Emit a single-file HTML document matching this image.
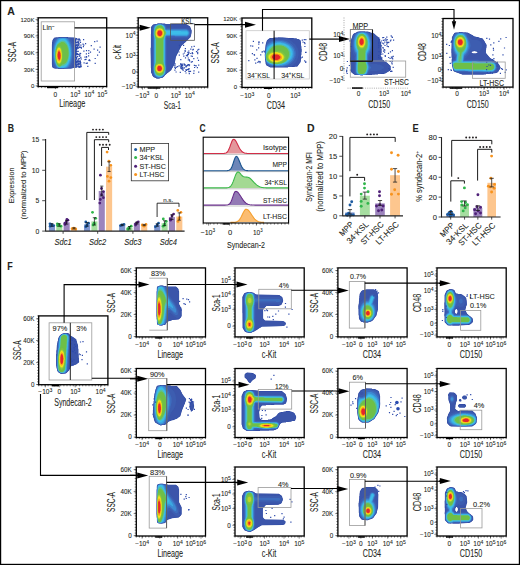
<!DOCTYPE html>
<html><head><meta charset="utf-8"><style>
html,body{margin:0;padding:0;background:#fff;}
svg{display:block;}
text{font-family:"Liberation Sans",sans-serif;fill:#231f20;stroke:#231f20;stroke-width:0.08px;paint-order:stroke;}
</style></head><body>
<svg width="520" height="565" viewBox="0 0 520 565">
<defs><filter id="bl" x="-5%" y="-5%" width="110%" height="110%"><feGaussianBlur stdDeviation="0.45"/></filter></defs>
<rect x="0" y="0" width="520" height="565" fill="#fff"/>
<text x="7.2" y="15.08" font-size="10.5" font-weight="bold" fill="#000">A</text>
<g filter="url(#bl)"><path d="M54.1,37.9 52.6,39.9 52.6,40.4 52.4,40.6 52.4,41.9 52.1,42.1 52.1,44.1 51.9,44.4 51.9,64.6 52.1,64.9 52.1,66.6 52.6,67.6 53.1,68.1 53.6,68.1 53.9,68.4 55.1,68.4 55.4,68.6 58.1,68.6 58.4,68.9 71.1,68.6 71.4,68.4 72.4,68.4 72.6,68.1 75.1,68.1 75.6,67.6 75.6,38.1 75.1,37.6 68.1,37.4 67.9,37.1 58.6,37.1 58.4,37.4 56.1,37.4 55.9,37.6 54.6,37.6Z" fill="#2b45a2" fill-rule="evenodd"/><path d="M54.1,38.1 52.9,39.9 52.6,41.6 52.4,41.9 52.4,43.9 52.1,44.1 52.1,65.4 52.4,65.6 52.4,66.6 53.1,67.9 54.9,68.1 55.1,68.4 57.6,68.4 57.9,68.6 59.1,68.6 59.4,68.9 63.4,68.9 63.6,68.6 71.1,68.4 71.4,68.1 72.4,68.1 72.6,67.9 74.9,67.9 75.4,67.4 75.4,38.4 74.9,37.9 68.4,37.6 68.1,37.4 66.1,37.4 65.9,37.1 59.9,37.1 59.6,37.4 55.9,37.6 55.6,37.9 54.6,37.9Z" fill="#3a55aa" fill-rule="evenodd"/><path d="M54.6,38.6 53.9,39.6 53.4,40.9 53.1,43.4 52.9,43.6 52.9,45.1 52.6,45.4 52.6,61.1 52.9,61.4 52.9,64.1 53.1,64.4 53.1,65.6 53.6,66.9 54.1,67.4 54.6,67.4 55.6,67.9 58.4,68.1 58.6,68.4 64.1,68.4 64.4,68.1 68.1,68.1 68.4,67.9 70.9,67.6 71.6,66.9 72.9,63.6 72.9,62.9 73.4,61.6 73.4,60.6 73.6,60.4 73.6,59.1 73.9,58.9 73.9,57.1 74.1,56.9 74.1,49.4 73.9,49.1 73.9,47.4 73.6,47.1 73.6,45.9 73.4,45.6 73.4,44.6 72.6,42.6 72.6,41.9 71.4,38.9 69.9,38.1 68.6,38.1 68.4,37.9 67.4,37.9 67.1,37.6 59.1,37.6 58.9,37.9 57.4,37.9 57.1,38.1 56.1,38.1 55.9,38.4Z" fill="#3c5db0" fill-rule="evenodd"/><path d="M56.9,38.4 55.6,39.4 54.4,42.1 54.4,42.6 53.6,44.4 53.6,45.1 53.4,45.4 53.4,46.6 53.1,46.9 53.1,49.9 52.9,50.1 52.9,56.1 53.1,56.4 53.1,59.4 53.4,59.6 53.4,60.9 53.6,61.1 53.9,62.9 54.1,63.1 54.4,64.4 54.9,65.1 54.9,65.6 55.9,67.4 57.1,67.9 58.1,67.9 58.4,68.1 61.6,68.1 61.9,68.4 62.6,68.4 62.9,68.1 67.6,67.9 67.9,67.6 68.6,67.6 69.6,66.9 70.9,64.1 70.9,63.6 71.6,61.9 71.6,61.1 71.9,60.9 72.1,58.4 72.4,58.1 72.4,56.4 72.6,56.1 72.6,50.4 72.4,50.1 72.4,48.1 72.1,47.9 72.1,46.6 71.9,46.4 71.4,43.6 70.6,42.1 70.6,41.6 69.4,39.1 68.9,38.6 66.9,37.9 59.1,37.9 58.9,38.1Z" fill="#3e6dbe" fill-rule="evenodd"/><path d="M59.1,38.1 57.4,38.9 56.4,40.4 54.9,43.6 54.6,45.1 54.1,46.1 54.1,47.1 53.9,47.4 53.9,48.6 53.6,48.9 53.6,51.4 53.4,51.6 53.4,54.9 53.6,55.1 53.6,57.6 53.9,57.9 53.9,59.1 54.1,59.4 54.1,60.4 54.4,60.6 54.6,62.4 54.9,62.6 55.4,64.6 56.6,67.1 57.4,67.6 58.9,67.9 59.1,68.1 63.6,68.1 63.9,67.9 67.1,67.6 68.1,67.1 70.1,63.4 70.1,62.9 70.6,61.9 70.6,61.1 70.9,60.9 70.9,60.1 71.1,59.9 71.1,58.9 71.4,58.6 71.9,52.6 71.6,52.4 71.6,49.4 71.4,49.1 71.4,47.6 71.1,47.4 70.9,45.4 69.1,40.9 68.6,40.4 68.4,39.6 67.1,38.4 66.6,38.4 66.4,38.1 64.6,38.1 64.4,37.9 60.9,37.9 60.6,38.1Z" fill="#3d8ad2" fill-rule="evenodd"/><path d="M65.1,38.4 61.9,38.1 61.6,38.4 60.1,38.4 59.1,38.9 57.9,40.1 56.9,41.6 55.9,43.6 55.9,44.1 55.1,45.9 54.9,47.6 54.6,47.9 54.6,49.1 54.4,49.4 54.4,51.9 54.1,52.1 54.1,55.4 54.4,55.6 54.4,58.1 54.6,58.4 54.9,61.1 55.1,61.4 55.1,62.1 55.4,62.4 55.9,64.4 56.9,66.4 57.9,67.4 59.1,67.9 63.6,67.9 63.9,67.6 66.1,67.4 68.1,65.1 69.4,62.6 69.4,62.1 69.9,61.1 69.9,60.4 70.1,60.1 70.1,59.4 70.4,59.1 70.6,56.4 70.9,56.1 70.9,50.1 70.6,49.9 70.6,48.4 70.4,48.1 70.1,46.1 69.9,45.9 69.4,43.9 68.9,43.1 68.9,42.6 68.1,41.6 67.9,40.9 66.1,38.9Z" fill="#3aa9e2" fill-rule="evenodd"/><path d="M64.1,38.9 61.1,38.9 60.1,39.4 58.6,40.6 58.6,40.9 57.6,41.9 56.4,44.1 56.4,44.6 55.6,46.1 55.6,46.9 55.1,48.1 55.1,49.1 54.9,49.4 54.9,51.1 54.6,51.4 54.6,57.4 54.9,57.6 55.1,60.9 55.4,61.1 55.4,61.9 55.6,62.1 56.1,64.1 57.1,66.1 58.1,67.1 59.4,67.6 64.1,67.4 65.6,66.6 66.9,65.4 68.6,62.4 68.6,61.9 69.4,60.4 69.4,59.6 69.9,58.4 69.9,57.1 70.1,56.9 70.4,52.4 70.1,52.1 70.1,49.6 69.9,49.4 69.9,48.1 69.6,47.9 69.4,46.1 69.1,45.9 68.9,44.6 67.1,41.4 65.4,39.6Z" fill="#3cbde9" fill-rule="evenodd"/><path d="M62.9,40.4 62.1,40.4 59.9,41.4 57.6,43.6 56.4,45.9 56.4,46.4 55.9,47.4 55.9,48.1 55.6,48.4 55.6,49.1 55.4,49.4 55.4,50.6 55.1,50.9 54.9,56.1 55.1,56.4 55.1,58.9 55.4,59.1 55.6,61.6 57.1,65.4 58.9,66.9 60.1,66.9 61.6,66.1 63.6,65.9 65.1,65.1 66.4,63.9 67.9,61.4 67.9,60.9 68.4,60.1 68.4,59.4 68.6,59.1 68.9,57.4 69.1,57.1 69.1,55.4 69.4,55.1 69.4,51.4 69.1,51.1 68.9,48.1 68.6,47.9 68.6,47.1 68.4,46.9 68.1,45.6 66.6,42.9 64.9,41.1Z" fill="#58c29c" fill-rule="evenodd"/><path d="M62.6,41.9 62.4,42.1 61.4,42.1 60.1,42.9 59.6,42.9 57.6,44.6 56.1,47.6 56.1,48.4 55.6,49.6 55.6,50.6 55.4,50.9 55.1,56.9 55.4,57.1 55.4,59.4 55.6,59.6 55.6,60.6 55.9,60.9 56.1,62.6 56.6,63.4 56.9,64.4 57.4,65.1 58.9,66.4 59.9,66.4 60.9,65.9 62.4,64.6 64.1,64.1 66.1,62.4 67.4,60.1 67.4,59.6 67.9,58.6 67.9,57.9 68.1,57.6 68.1,56.6 68.4,56.4 68.6,52.4 68.4,52.1 68.4,49.9 68.1,49.6 68.1,48.6 67.9,48.4 67.4,46.4 66.4,44.4 64.4,42.4 62.9,42.1Z" fill="#6ebf47" fill-rule="evenodd"/><path d="M58.9,45.9 57.6,46.9 56.6,48.9 56.6,49.6 56.1,50.9 56.1,51.9 55.9,52.1 55.9,58.6 56.1,58.9 56.4,61.1 57.1,63.1 58.4,64.6 59.4,64.9 60.6,64.1 61.6,62.4 61.6,61.9 62.1,60.9 62.4,58.4 62.6,58.1 62.6,53.1 62.4,52.9 62.1,49.9 60.9,46.9 60.1,46.1Z" fill="#80c443" fill-rule="evenodd"/><path d="M58.9,47.1 57.6,48.1 56.6,50.6 56.4,53.4 56.1,53.6 56.1,57.4 56.4,57.6 56.4,59.1 56.6,59.4 56.6,60.4 56.9,60.6 57.1,61.9 57.6,62.9 58.4,63.6 59.4,63.9 59.9,63.6 60.9,62.4 61.4,61.1 61.4,60.4 61.6,60.1 61.6,59.1 61.9,58.9 61.9,52.6 61.6,52.4 61.4,50.1 60.4,47.9 59.9,47.4Z" fill="#bcd42e" fill-rule="evenodd"/><path d="M58.6,48.1 57.6,49.1 56.9,51.1 56.9,51.9 56.6,52.1 56.6,53.9 56.4,54.1 56.4,56.9 56.6,57.1 56.6,58.9 56.9,59.1 56.9,59.9 57.1,60.1 57.4,61.4 58.1,62.6 59.1,63.1 60.4,62.1 61.1,60.6 61.4,58.4 61.6,58.1 61.6,53.6 61.4,53.4 61.1,50.9 60.1,48.6 59.4,48.1Z" fill="#fae515" fill-rule="evenodd"/><path d="M58.6,49.6 57.9,50.4 57.4,51.6 56.9,56.1 57.1,56.4 57.1,58.4 57.4,58.6 57.6,60.1 58.9,61.6 59.4,61.6 60.1,60.9 60.9,58.9 60.9,57.6 61.1,57.4 61.1,54.1 60.9,53.9 60.9,52.6 60.6,52.4 60.6,51.6 60.1,50.4 59.4,49.6Z" fill="#f6a11c" fill-rule="evenodd"/><path d="M58.9,51.1 58.1,52.1 57.9,53.6 57.6,53.9 57.6,56.6 57.9,56.9 57.9,57.9 58.4,59.1 59.4,59.9 59.9,59.4 60.4,58.1 60.6,54.9 60.4,54.6 60.4,53.1 60.1,52.9 60.1,52.4 59.6,51.4Z" fill="#e5262a" fill-rule="evenodd"/></g>
<path d="M78.3,62.6h1.2v1.2h-1.2zM76.0,52.4h1.2v1.2h-1.2zM75.0,60.9h1.2v1.2h-1.2zM76.0,62.2h1.2v1.2h-1.2zM76.0,38.1h1.2v1.2h-1.2zM80.3,44.6h1.2v1.2h-1.2zM75.0,38.9h1.2v1.2h-1.2zM75.7,65.2h1.2v1.2h-1.2zM75.0,50.2h1.2v1.2h-1.2zM76.3,50.7h1.2v1.2h-1.2zM75.2,44.7h1.2v1.2h-1.2zM75.0,46.4h1.2v1.2h-1.2zM77.3,54.1h1.2v1.2h-1.2zM79.3,66.8h1.2v1.2h-1.2zM77.9,47.6h1.2v1.2h-1.2zM75.9,65.2h1.2v1.2h-1.2zM75.4,57.4h1.2v1.2h-1.2zM79.2,63.6h1.2v1.2h-1.2zM75.0,55.1h1.2v1.2h-1.2zM75.9,61.1h1.2v1.2h-1.2zM77.8,53.9h1.2v1.2h-1.2zM76.0,48.9h1.2v1.2h-1.2zM76.4,60.6h1.2v1.2h-1.2zM75.0,52.2h1.2v1.2h-1.2zM80.8,58.4h1.2v1.2h-1.2zM75.1,49.4h1.2v1.2h-1.2zM78.4,66.5h1.2v1.2h-1.2zM75.2,62.9h1.2v1.2h-1.2zM76.8,65.6h1.2v1.2h-1.2zM76.6,45.8h1.2v1.2h-1.2zM78.5,38.2h1.2v1.2h-1.2zM78.1,63.7h1.2v1.2h-1.2zM76.7,53.0h1.2v1.2h-1.2zM79.4,39.6h1.2v1.2h-1.2zM76.3,43.8h1.2v1.2h-1.2zM75.6,48.3h1.2v1.2h-1.2zM77.0,56.1h1.2v1.2h-1.2zM75.2,38.8h1.2v1.2h-1.2zM79.3,54.9h1.2v1.2h-1.2zM78.8,61.1h1.2v1.2h-1.2zM77.5,62.4h1.2v1.2h-1.2zM75.0,38.5h1.2v1.2h-1.2zM75.0,45.2h1.2v1.2h-1.2zM75.0,48.0h1.2v1.2h-1.2zM75.1,53.3h1.2v1.2h-1.2zM76.1,58.6h1.2v1.2h-1.2zM75.0,51.7h1.2v1.2h-1.2zM75.2,50.2h1.2v1.2h-1.2zM76.4,64.1h1.2v1.2h-1.2zM78.8,55.6h1.2v1.2h-1.2zM75.1,38.5h1.2v1.2h-1.2zM77.8,42.6h1.2v1.2h-1.2zM75.2,53.8h1.2v1.2h-1.2zM76.4,61.1h1.2v1.2h-1.2zM75.8,56.8h1.2v1.2h-1.2zM77.2,47.3h1.2v1.2h-1.2zM80.6,46.7h1.2v1.2h-1.2zM79.3,46.9h1.2v1.2h-1.2zM78.1,65.2h1.2v1.2h-1.2zM75.0,45.3h1.2v1.2h-1.2zM78.9,39.1h1.2v1.2h-1.2zM75.1,54.5h1.2v1.2h-1.2zM77.8,66.2h1.2v1.2h-1.2zM75.6,49.0h1.2v1.2h-1.2zM76.0,57.6h1.2v1.2h-1.2zM77.5,41.0h1.2v1.2h-1.2zM75.5,52.5h1.2v1.2h-1.2zM75.0,64.1h1.2v1.2h-1.2zM80.8,47.5h1.2v1.2h-1.2zM75.2,47.8h1.2v1.2h-1.2zM80.1,62.3h1.2v1.2h-1.2zM77.6,63.6h1.2v1.2h-1.2zM75.2,66.6h1.2v1.2h-1.2zM75.1,40.5h1.2v1.2h-1.2zM78.3,44.2h1.2v1.2h-1.2zM75.7,62.4h1.2v1.2h-1.2zM79.4,46.4h1.2v1.2h-1.2zM79.6,65.7h1.2v1.2h-1.2zM75.0,54.0h1.2v1.2h-1.2zM79.4,40.1h1.2v1.2h-1.2zM75.6,62.0h1.2v1.2h-1.2zM75.7,60.7h1.2v1.2h-1.2zM75.0,44.5h1.2v1.2h-1.2zM76.7,63.8h1.2v1.2h-1.2zM75.4,51.3h1.2v1.2h-1.2zM75.0,62.0h1.2v1.2h-1.2zM75.1,40.7h1.2v1.2h-1.2zM75.3,39.2h1.2v1.2h-1.2zM75.1,50.2h1.2v1.2h-1.2zM78.1,45.0h1.2v1.2h-1.2zM75.7,64.4h1.2v1.2h-1.2zM75.4,64.4h1.2v1.2h-1.2zM75.0,51.8h1.2v1.2h-1.2zM75.0,39.1h1.2v1.2h-1.2zM76.9,46.6h1.2v1.2h-1.2zM75.0,47.1h1.2v1.2h-1.2zM80.6,66.1h1.2v1.2h-1.2zM77.1,44.2h1.2v1.2h-1.2zM77.6,53.7h1.2v1.2h-1.2zM76.6,45.5h1.2v1.2h-1.2zM75.0,45.1h1.2v1.2h-1.2zM76.0,66.5h1.2v1.2h-1.2zM80.2,56.7h1.2v1.2h-1.2zM75.5,46.9h1.2v1.2h-1.2zM79.7,62.6h1.2v1.2h-1.2zM76.6,47.7h1.2v1.2h-1.2zM75.3,55.3h1.2v1.2h-1.2zM75.0,45.1h1.2v1.2h-1.2zM75.0,40.1h1.2v1.2h-1.2zM78.6,46.4h1.2v1.2h-1.2zM75.1,63.0h1.2v1.2h-1.2zM75.0,61.1h1.2v1.2h-1.2zM78.4,43.0h1.2v1.2h-1.2zM75.5,61.8h1.2v1.2h-1.2zM80.0,52.9h1.2v1.2h-1.2zM75.1,63.9h1.2v1.2h-1.2zM75.5,38.9h1.2v1.2h-1.2zM79.8,61.3h1.2v1.2h-1.2zM77.6,59.6h1.2v1.2h-1.2zM75.1,50.5h1.2v1.2h-1.2zM75.3,57.4h1.2v1.2h-1.2zM78.8,65.9h1.2v1.2h-1.2zM79.2,53.7h1.2v1.2h-1.2zM75.6,49.5h1.2v1.2h-1.2zM77.3,38.7h1.2v1.2h-1.2zM75.0,54.5h1.2v1.2h-1.2zM75.1,42.0h1.2v1.2h-1.2zM75.8,62.0h1.2v1.2h-1.2zM75.2,55.8h1.2v1.2h-1.2zM76.3,53.3h1.2v1.2h-1.2zM77.6,50.7h1.2v1.2h-1.2zM76.3,44.9h1.2v1.2h-1.2zM75.9,44.5h1.2v1.2h-1.2zM80.0,64.3h1.2v1.2h-1.2zM75.0,56.7h1.2v1.2h-1.2zM79.5,52.8h1.2v1.2h-1.2zM79.6,60.2h1.2v1.2h-1.2zM79.2,58.1h1.2v1.2h-1.2zM78.1,58.3h1.2v1.2h-1.2zM79.7,62.8h1.2v1.2h-1.2zM75.1,54.6h1.2v1.2h-1.2zM76.7,44.3h1.2v1.2h-1.2zM77.6,39.5h1.2v1.2h-1.2zM76.4,48.1h1.2v1.2h-1.2zM75.0,59.2h1.2v1.2h-1.2zM77.2,61.4h1.2v1.2h-1.2zM80.5,64.5h1.2v1.2h-1.2zM79.1,60.5h1.2v1.2h-1.2zM76.0,58.3h1.2v1.2h-1.2zM75.7,66.2h1.2v1.2h-1.2zM75.1,50.6h1.2v1.2h-1.2zM79.9,41.7h1.2v1.2h-1.2zM77.0,41.5h1.2v1.2h-1.2zM75.4,41.4h1.2v1.2h-1.2zM75.0,59.7h1.2v1.2h-1.2zM75.0,50.7h1.2v1.2h-1.2zM79.0,55.6h1.2v1.2h-1.2zM76.6,46.3h1.2v1.2h-1.2zM75.3,55.0h1.2v1.2h-1.2zM78.8,60.9h1.2v1.2h-1.2zM76.3,53.8h1.2v1.2h-1.2zM76.7,60.3h1.2v1.2h-1.2zM75.0,46.2h1.2v1.2h-1.2zM78.2,41.4h1.2v1.2h-1.2zM78.3,66.0h1.2v1.2h-1.2zM76.3,42.0h1.2v1.2h-1.2zM76.3,47.0h1.2v1.2h-1.2zM75.0,53.3h1.2v1.2h-1.2zM75.4,51.0h1.2v1.2h-1.2zM77.6,60.7h1.2v1.2h-1.2zM84.4,56.5h1.2v1.2h-1.2zM83.2,44.5h1.2v1.2h-1.2zM79.0,46.5h1.2v1.2h-1.2zM85.6,62.8h1.2v1.2h-1.2zM88.1,52.8h1.2v1.2h-1.2zM89.9,51.5h1.2v1.2h-1.2zM88.2,50.0h1.2v1.2h-1.2zM87.2,65.7h1.2v1.2h-1.2zM82.4,43.6h1.2v1.2h-1.2zM85.8,53.3h1.2v1.2h-1.2zM83.0,39.1h1.2v1.2h-1.2zM83.3,50.5h1.2v1.2h-1.2zM83.5,62.3h1.2v1.2h-1.2zM85.4,58.8h1.2v1.2h-1.2zM88.9,59.2h1.2v1.2h-1.2zM84.4,59.1h1.2v1.2h-1.2zM86.0,56.5h1.2v1.2h-1.2zM85.9,50.0h1.2v1.2h-1.2zM85.9,56.1h1.2v1.2h-1.2zM89.3,60.1h1.2v1.2h-1.2zM88.3,59.7h1.2v1.2h-1.2zM88.0,55.3h1.2v1.2h-1.2zM82.8,46.1h1.2v1.2h-1.2zM86.8,62.6h1.2v1.2h-1.2zM85.0,43.1h1.2v1.2h-1.2zM98.8,51.6h1.2v1.2h-1.2zM94.1,41.1h1.2v1.2h-1.2zM94.6,57.9h1.2v1.2h-1.2zM93.5,48.5h1.2v1.2h-1.2zM96.5,40.5h1.2v1.2h-1.2zM94.6,62.7h1.2v1.2h-1.2zM97.0,49.6h1.2v1.2h-1.2zM97.0,54.5h1.2v1.2h-1.2zM90.7,45.0h1.2v1.2h-1.2zM99.5,46.5h1.2v1.2h-1.2z" fill="#2d4aab"/>
<rect x="38.2" y="17.8" width="68.5" height="68.7" fill="none" stroke="#000" stroke-width="1.3"/>
<path d="M36.6,17.8h1.6M36.6,20.7h1.6M36.6,23.5h1.6M36.6,26.4h1.6M36.6,29.2h1.6M36.6,32.1h1.6M36.6,35.0h1.6M36.6,37.8h1.6M36.6,40.7h1.6M36.6,43.6h1.6M36.6,46.4h1.6M36.6,49.3h1.6M36.6,52.2h1.6M36.6,55.0h1.6M36.6,57.9h1.6M36.6,60.7h1.6M36.6,63.6h1.6M36.6,66.5h1.6M36.6,69.3h1.6M36.6,72.2h1.6M36.6,75.0h1.6M36.6,77.9h1.6M36.6,80.8h1.6M36.6,83.6h1.6M36.6,86.5h1.6M35.6,19.6h2.6M35.6,35.9h2.6M35.6,52.8h2.6M35.6,69.4h2.6M35.6,85.8h2.6" stroke="#000" stroke-width="0.5" fill="none"/>
<path d="M38.2,86.5v1.6M41.6,86.5v1.6M45.1,86.5v1.6M48.5,86.5v1.6M51.9,86.5v1.6M55.3,86.5v1.6M58.8,86.5v1.6M62.2,86.5v1.6M65.6,86.5v1.6M69.0,86.5v1.6M72.5,86.5v1.6M75.9,86.5v1.6M79.3,86.5v1.6M82.7,86.5v1.6M86.2,86.5v1.6M89.6,86.5v1.6M93.0,86.5v1.6M96.4,86.5v1.6M99.8,86.5v1.6M103.3,86.5v1.6M106.7,86.5v1.6M55.4,86.5v2.6M75.4,86.5v2.6M89.2,86.5v2.6M102.3,86.5v2.6" stroke="#000" stroke-width="0.5" fill="none"/>
<rect x="47" y="86.8" width="11" height="1.4" fill="#000"/>
<text x="34.4" y="21.76" font-size="6" text-anchor="end">120K</text>
<text x="34.4" y="38.06" font-size="6" text-anchor="end">90K</text>
<text x="34.4" y="54.96" font-size="6" text-anchor="end">60K</text>
<text x="34.4" y="71.56" font-size="6" text-anchor="end">30K</text>
<text x="34.4" y="87.96" font-size="6" text-anchor="end">0</text>
<text x="55.4" y="96.54" font-size="6.5" text-anchor="middle">0</text>
<text x="75.4" y="96.54" font-size="6.5" text-anchor="middle">10<tspan font-size="5.1" dy="-2.34">3</tspan></text>
<text x="89.2" y="96.54" font-size="6.5" text-anchor="middle">10<tspan font-size="5.1" dy="-2.34">4</tspan></text>
<text x="102.3" y="96.54" font-size="6.5" text-anchor="middle">10<tspan font-size="5.1" dy="-2.34">5</tspan></text>
<text x="12.8" y="55.5" font-size="10" text-anchor="middle" textLength="20" lengthAdjust="spacingAndGlyphs" transform="rotate(-90 12.8 51.9)">SSC-A</text>
<text x="72.3" y="107.47" font-size="10.2" text-anchor="middle" textLength="26" lengthAdjust="spacingAndGlyphs">Lineage</text>
<rect x="41.2" y="21.8" width="33.4" height="59.2" fill="none" stroke="#9a9a9a" stroke-width="0.8"/>
<text x="42.6" y="30.21" font-size="7.8" textLength="12" lengthAdjust="spacingAndGlyphs">Lin<tspan font-size="5" dy="-2.6">−</tspan></text>
<line x1="74.6" y1="27.8" x2="140.7" y2="27.8" stroke="#000" stroke-width="1.2" />
<polygon points="139.7,24.8 150.7,27.8 139.7,30.8" fill="#000"/>
<g filter="url(#bl)"><path d="M186.1,24.1 172.4,24.1 172.1,23.9 165.4,23.9 165.1,23.6 157.1,23.6 156.9,23.9 155.9,23.9 155.6,24.1 154.6,24.1 154.4,24.4 153.1,24.6 151.4,26.6 151.1,27.1 151.1,33.6 150.9,33.9 150.9,47.6 150.6,47.9 150.9,68.1 151.1,68.4 151.1,72.4 152.1,74.4 152.1,74.9 153.4,76.9 156.9,78.6 158.9,78.6 159.1,78.4 160.1,78.4 160.4,78.1 162.1,77.9 164.1,76.4 164.6,75.6 168.1,72.4 168.4,72.4 171.4,69.9 171.9,68.6 172.4,68.1 174.6,64.1 175.9,56.9 181.4,45.9 184.4,43.1 184.6,43.1 190.6,37.1 190.9,35.6 191.1,35.4 191.1,34.4 191.4,34.1 191.6,30.6 190.1,26.6Z" fill="#2b45a2" fill-rule="evenodd"/><path d="M187.4,25.1 185.6,24.4 171.9,24.4 171.6,24.1 165.6,24.1 165.4,23.9 162.1,23.9 161.9,23.6 158.1,23.6 157.9,23.9 156.9,23.9 156.6,24.1 155.6,24.1 155.4,24.4 153.6,24.6 153.1,24.9 151.9,26.4 151.4,27.4 151.4,33.9 151.1,34.1 151.1,47.9 150.9,48.1 151.1,67.9 151.4,68.1 151.4,72.4 151.9,73.1 151.9,73.6 152.4,74.4 152.4,74.9 152.9,75.9 153.9,76.9 155.1,77.4 156.6,78.4 159.1,78.4 159.4,78.1 161.6,77.9 164.1,76.1 165.4,74.6 165.6,74.6 168.9,71.4 169.1,71.4 171.1,69.6 171.6,68.4 172.1,67.9 174.4,63.9 175.6,56.6 181.1,45.6 184.1,42.9 184.4,42.9 190.4,37.1 190.4,36.6 190.9,35.6 191.1,32.9 191.4,32.6 191.4,30.6 189.9,26.9Z" fill="#3a55aa" fill-rule="evenodd"/><path d="M188.4,28.4 187.9,28.4 186.9,27.9 166.9,27.6 165.9,25.1 164.6,24.4 163.6,24.4 163.4,24.1 157.4,24.1 157.1,24.4 156.1,24.4 153.6,25.4 152.9,26.6 152.9,27.1 152.6,27.4 152.6,28.6 152.4,28.9 152.4,71.6 152.6,71.9 152.9,74.1 153.6,75.6 154.6,76.6 157.6,78.1 158.1,77.9 159.9,77.9 160.1,77.6 161.9,77.4 162.6,76.9 166.4,73.1 166.9,72.1 166.9,37.9 167.1,37.6 167.9,37.6 168.1,37.9 180.9,37.9 181.1,38.1 186.9,38.1 187.1,37.9 187.6,37.9 189.4,36.9 190.1,35.6 190.1,34.9 190.6,33.6 190.6,31.1 190.4,30.9 190.4,30.4 189.9,29.6Z" fill="#3c5db0" fill-rule="evenodd"/><path d="M187.9,29.4 187.4,29.4 187.1,29.1 183.9,29.1 183.6,28.9 170.9,28.9 170.6,28.6 166.1,28.6 165.9,28.4 165.6,26.6 165.1,25.6 164.1,24.6 163.4,24.6 163.1,24.4 161.4,24.4 161.1,24.1 158.4,24.1 158.1,24.4 157.1,24.4 156.9,24.6 156.1,24.6 155.4,25.1 154.9,25.1 154.1,25.9 153.6,27.1 153.6,27.9 153.4,28.1 153.4,31.1 153.1,31.4 153.1,34.9 153.4,35.1 153.4,66.6 153.1,66.9 153.1,69.9 153.4,70.1 153.4,72.9 153.6,73.1 153.6,73.9 154.1,75.1 155.4,76.6 157.1,77.6 159.9,77.6 160.1,77.4 161.1,77.4 162.6,76.6 165.9,73.1 165.9,72.1 166.1,71.9 166.1,64.9 165.9,64.6 165.9,38.4 166.1,38.1 166.1,36.9 166.4,36.6 174.9,36.6 175.1,36.9 187.1,36.9 187.4,36.6 187.9,36.6 189.1,35.6 189.9,34.1 189.9,31.9 189.6,31.6 189.6,31.1 189.1,30.4Z" fill="#3e6dbe" fill-rule="evenodd"/><path d="M188.1,30.4 186.1,29.6 173.4,29.6 173.1,29.4 166.1,29.4 165.4,28.4 165.4,27.6 164.6,25.9 163.6,24.9 162.4,24.6 162.1,24.4 157.6,24.4 155.6,25.1 154.6,26.1 153.9,28.1 153.9,30.1 153.6,30.4 153.6,35.9 153.9,36.1 153.9,65.6 153.6,65.9 153.6,70.9 153.9,71.1 153.9,72.9 154.1,73.1 154.1,73.9 155.1,75.6 156.1,76.6 157.6,77.4 160.4,77.4 160.6,77.1 161.4,77.1 162.6,76.4 164.9,74.1 165.4,73.1 165.4,72.1 165.6,71.9 165.6,64.9 165.4,64.6 165.4,38.1 165.6,37.9 165.6,36.4 166.6,35.9 172.4,35.9 172.6,36.1 185.6,36.1 185.9,36.4 187.1,36.1 188.6,35.1 189.4,33.1 189.1,31.9Z" fill="#3d8ad2" fill-rule="evenodd"/><path d="M187.4,30.9 186.9,30.6 184.6,30.6 184.4,30.4 171.4,30.4 171.1,30.1 166.4,30.1 166.1,29.9 165.6,29.9 165.1,29.4 164.9,27.6 164.1,26.1 162.9,24.9 159.4,24.4 159.1,24.6 157.6,24.6 157.4,24.9 156.9,24.9 155.4,25.9 154.4,28.1 154.1,31.1 153.9,31.4 153.9,35.1 154.1,35.4 154.1,36.9 154.4,37.1 154.4,64.9 154.1,65.1 154.1,66.4 153.9,66.6 153.9,70.1 154.1,70.4 154.1,71.6 154.4,71.9 154.6,73.6 155.4,75.1 156.4,76.1 158.4,77.1 161.4,76.9 162.6,76.1 164.1,74.6 164.9,73.4 165.1,70.4 165.4,70.1 165.4,66.6 165.1,66.4 165.1,64.6 164.9,64.4 164.9,38.4 165.1,38.1 165.4,35.9 166.9,35.1 174.4,35.1 174.6,35.4 186.9,35.4 187.4,35.1 188.4,33.9 188.4,32.1Z" fill="#3aa9e2" fill-rule="evenodd"/><path d="M187.1,31.6 186.6,31.4 181.1,31.4 180.9,31.1 168.4,31.1 168.1,30.9 166.6,30.9 165.6,30.4 164.9,29.6 164.9,28.9 163.9,26.4 162.6,25.1 161.4,24.9 161.1,24.6 158.4,24.6 158.1,24.9 157.4,24.9 155.4,26.6 154.6,28.6 154.6,29.6 154.4,29.9 154.4,30.9 154.1,31.1 154.1,35.1 154.4,35.4 154.4,36.6 154.6,36.9 154.6,37.9 154.9,38.1 154.9,63.9 154.6,64.1 154.4,66.4 154.1,66.6 154.1,70.4 154.4,70.6 154.6,72.6 155.4,74.4 156.1,75.4 158.1,76.6 159.1,76.6 159.4,76.9 159.9,76.6 161.1,76.6 162.9,75.6 164.1,74.1 164.6,72.9 164.6,71.9 164.9,71.6 164.9,70.4 165.1,70.1 165.1,66.6 164.9,66.4 164.6,63.1 164.4,62.9 164.4,39.9 164.6,39.6 164.6,37.9 164.9,37.6 165.1,35.6 166.4,34.6 166.9,34.6 167.1,34.4 186.6,34.6 187.1,34.4 187.6,33.6 187.6,32.4Z" fill="#3cbde9" fill-rule="evenodd"/><path d="M159.4,24.9 159.1,25.1 158.1,25.1 157.1,25.6 156.1,26.6 155.4,27.9 155.4,28.4 154.6,30.1 154.6,31.1 154.4,31.4 154.4,34.9 154.6,35.1 154.6,36.1 154.9,36.4 154.9,37.1 155.1,37.4 155.1,38.1 155.6,39.4 155.6,62.4 155.4,62.6 155.4,63.6 155.1,63.9 154.6,66.4 154.4,66.6 154.4,70.1 154.6,70.4 154.6,71.1 154.9,71.4 154.9,72.1 155.4,72.9 155.4,73.4 157.1,75.4 158.9,76.1 160.6,76.1 161.9,75.6 162.9,74.9 163.6,73.9 164.4,72.1 164.6,69.9 164.9,69.6 164.9,67.1 164.6,66.9 164.6,65.6 164.4,65.4 164.4,64.6 163.9,63.4 163.9,39.1 164.6,37.1 164.9,35.4 166.1,33.9 166.4,32.6 165.9,31.4 164.6,30.1 164.4,28.6 163.1,26.4 161.4,25.1Z" fill="#58c29c" fill-rule="evenodd"/><path d="M159.4,25.4 157.4,26.1 156.1,27.4 155.4,28.6 155.4,29.1 154.9,30.1 154.9,30.9 154.6,31.1 154.6,35.1 154.9,35.4 155.1,37.1 155.6,37.9 155.6,38.4 156.1,39.4 156.1,62.6 154.6,66.4 154.6,70.4 154.9,70.6 155.1,72.1 156.6,74.4 157.6,75.1 158.1,75.1 159.1,75.6 160.1,75.6 160.4,75.4 161.6,75.1 163.1,73.9 163.9,72.6 163.9,72.1 164.4,71.1 164.4,70.4 164.6,70.1 164.6,66.9 164.4,66.6 164.4,65.6 164.1,65.4 164.1,64.9 163.4,63.1 163.4,62.4 163.1,62.1 163.1,40.1 164.6,36.1 164.6,35.4 165.4,34.4 165.4,33.9 165.6,33.6 165.6,32.1 165.4,31.9 165.4,31.4 164.6,30.6 164.4,29.4 163.4,27.4 162.1,26.1 161.1,25.6Z" fill="#6ebf47" fill-rule="evenodd"/><path d="M159.1,62.9 157.1,63.6 156.1,64.6 155.1,67.1 155.1,69.6 156.1,72.1 157.1,73.1 158.1,73.6 159.9,73.9 160.1,73.6 161.6,73.4 162.6,72.6 163.6,70.9 164.1,68.1 163.9,67.9 163.9,66.6 163.1,64.9 161.6,63.4ZM158.9,27.4 156.9,28.4 156.1,29.4 155.1,32.1 155.1,34.4 156.1,37.1 157.6,38.6 158.9,38.9 159.1,39.1 160.4,39.1 160.6,38.9 161.9,38.6 163.4,37.1 164.4,34.4 164.4,31.9 164.1,31.6 164.1,30.9 163.1,28.9 162.4,28.1 160.6,27.4Z" fill="#80c443" fill-rule="evenodd"/><path d="M158.1,63.9 156.4,65.4 155.9,66.4 155.9,66.9 155.6,67.1 155.6,69.9 156.1,71.1 156.9,72.1 158.1,72.9 159.9,73.1 161.9,72.4 162.6,71.6 163.4,70.1 163.6,67.6 162.6,65.1 161.9,64.4 160.9,63.9ZM159.1,28.1 157.4,28.9 156.6,29.6 155.6,31.9 155.6,34.4 156.4,36.4 157.9,37.9 158.4,37.9 158.6,38.1 161.1,38.1 162.9,36.9 163.6,35.4 163.6,34.9 163.9,34.6 163.9,31.9 163.1,29.9 162.1,28.9 161.4,28.4Z" fill="#bcd42e" fill-rule="evenodd"/><path d="M158.4,64.4 157.4,64.9 156.6,65.6 155.9,67.6 155.9,69.4 156.6,71.1 157.6,72.1 158.9,72.4 159.1,72.6 159.9,72.6 160.1,72.4 161.4,72.1 162.6,70.9 163.1,69.6 163.1,67.1 162.6,65.9 161.4,64.6 160.9,64.6 160.6,64.4ZM159.4,28.6 159.1,28.9 157.9,29.1 156.6,30.4 156.1,31.6 155.9,33.6 156.1,33.9 156.1,34.9 156.9,36.4 157.6,37.1 158.6,37.6 160.9,37.6 161.9,37.1 162.9,36.1 163.4,34.9 163.4,34.1 163.6,33.9 163.6,32.4 162.9,30.4 161.6,29.1 160.4,28.9 160.1,28.6Z" fill="#fae515" fill-rule="evenodd"/><path d="M158.4,65.1 157.1,66.1 156.6,67.1 156.6,69.6 157.1,70.6 157.9,71.4 159.1,71.6 159.4,71.9 161.1,71.4 162.4,69.9 162.4,69.4 162.6,69.1 162.4,66.9 162.1,66.4 160.6,65.1ZM158.9,29.6 157.4,30.6 156.6,32.4 156.6,34.1 157.1,35.4 158.4,36.6 158.9,36.6 159.1,36.9 160.4,36.9 161.6,36.4 162.6,35.1 162.6,34.6 162.9,34.4 162.9,32.1 162.4,30.9 161.4,29.9 160.9,29.6Z" fill="#f6a11c" fill-rule="evenodd"/><path d="M158.9,65.9 158.4,66.1 157.4,67.4 157.4,68.1 157.1,68.4 157.4,68.6 157.4,69.6 157.9,70.4 158.6,70.9 160.4,70.9 161.4,70.1 161.9,69.1 161.9,67.9 161.1,66.4 160.1,65.9ZM159.4,30.4 159.1,30.6 158.6,30.6 157.9,31.4 157.4,32.4 157.4,33.9 157.9,35.1 158.9,35.9 160.6,35.9 161.6,35.1 162.1,34.1 162.1,32.1 160.9,30.6Z" fill="#e5262a" fill-rule="evenodd"/></g>
<path d="M198.1,71.5h1.2v1.2h-1.2zM179.2,46.5h1.2v1.2h-1.2zM195.5,65.3h1.2v1.2h-1.2zM192.1,52.9h1.2v1.2h-1.2zM190.7,61.6h1.2v1.2h-1.2zM190.2,48.6h1.2v1.2h-1.2zM187.0,55.4h1.2v1.2h-1.2zM193.2,72.8h1.2v1.2h-1.2zM197.9,59.8h1.2v1.2h-1.2zM187.3,51.8h1.2v1.2h-1.2zM178.8,44.8h1.2v1.2h-1.2zM187.8,53.2h1.2v1.2h-1.2zM186.0,69.9h1.2v1.2h-1.2zM189.0,60.3h1.2v1.2h-1.2zM183.0,44.7h1.2v1.2h-1.2zM184.8,48.0h1.2v1.2h-1.2zM188.7,73.0h1.2v1.2h-1.2zM192.2,49.3h1.2v1.2h-1.2zM196.8,67.1h1.2v1.2h-1.2zM193.4,70.3h1.2v1.2h-1.2zM194.0,66.9h1.2v1.2h-1.2zM185.4,72.4h1.2v1.2h-1.2zM198.2,48.7h1.2v1.2h-1.2zM193.8,64.7h1.2v1.2h-1.2zM187.7,59.4h1.2v1.2h-1.2zM188.3,70.8h1.2v1.2h-1.2zM188.5,68.1h1.2v1.2h-1.2zM185.4,69.6h1.2v1.2h-1.2zM196.9,57.4h1.2v1.2h-1.2zM189.9,70.7h1.2v1.2h-1.2zM193.2,58.1h1.2v1.2h-1.2zM182.7,53.4h1.2v1.2h-1.2zM192.7,48.8h1.2v1.2h-1.2zM197.1,51.8h1.2v1.2h-1.2zM197.1,53.0h1.2v1.2h-1.2zM198.1,64.5h1.2v1.2h-1.2zM188.6,59.0h1.2v1.2h-1.2zM191.7,61.1h1.2v1.2h-1.2zM184.5,50.0h1.2v1.2h-1.2zM188.7,71.1h1.2v1.2h-1.2zM191.1,46.2h1.2v1.2h-1.2zM195.2,65.1h1.2v1.2h-1.2zM197.1,49.6h1.2v1.2h-1.2zM193.6,45.7h1.2v1.2h-1.2zM191.7,51.9h1.2v1.2h-1.2zM182.8,69.4h1.2v1.2h-1.2zM180.2,59.1h1.2v1.2h-1.2zM195.9,51.1h1.2v1.2h-1.2zM182.4,69.5h1.2v1.2h-1.2zM186.9,64.8h1.2v1.2h-1.2zM178.7,54.5h1.2v1.2h-1.2zM181.6,63.5h1.2v1.2h-1.2zM179.7,71.7h1.2v1.2h-1.2zM178.5,65.2h1.2v1.2h-1.2zM178.4,51.4h1.2v1.2h-1.2zM187.3,64.3h1.2v1.2h-1.2zM181.7,68.5h1.2v1.2h-1.2zM183.5,63.3h1.2v1.2h-1.2zM188.9,64.2h1.2v1.2h-1.2zM180.3,65.8h1.2v1.2h-1.2zM185.5,68.9h1.2v1.2h-1.2zM181.0,65.7h1.2v1.2h-1.2zM180.3,66.6h1.2v1.2h-1.2zM186.9,68.9h1.2v1.2h-1.2zM188.1,69.0h1.2v1.2h-1.2zM187.8,68.6h1.2v1.2h-1.2zM184.3,64.8h1.2v1.2h-1.2zM185.9,65.5h1.2v1.2h-1.2zM180.9,66.6h1.2v1.2h-1.2zM187.9,64.0h1.2v1.2h-1.2zM185.3,66.1h1.2v1.2h-1.2zM184.6,64.2h1.2v1.2h-1.2zM188.6,65.1h1.2v1.2h-1.2zM185.5,66.4h1.2v1.2h-1.2zM180.2,67.5h1.2v1.2h-1.2zM181.3,63.5h1.2v1.2h-1.2zM180.3,64.3h1.2v1.2h-1.2zM180.9,68.1h1.2v1.2h-1.2zM184.6,70.9h1.2v1.2h-1.2zM188.4,71.0h1.2v1.2h-1.2zM182.1,66.6h1.2v1.2h-1.2zM182.3,67.7h1.2v1.2h-1.2zM185.6,69.4h1.2v1.2h-1.2zM186.4,65.1h1.2v1.2h-1.2zM183.8,67.2h1.2v1.2h-1.2zM180.0,63.3h1.2v1.2h-1.2zM183.7,63.9h1.2v1.2h-1.2zM186.5,64.9h1.2v1.2h-1.2zM180.9,64.5h1.2v1.2h-1.2zM182.1,64.7h1.2v1.2h-1.2zM187.7,53.7h1.2v1.2h-1.2zM185.8,55.1h1.2v1.2h-1.2zM184.9,57.3h1.2v1.2h-1.2zM191.7,55.8h1.2v1.2h-1.2zM186.9,54.1h1.2v1.2h-1.2zM188.2,50.4h1.2v1.2h-1.2zM186.8,54.2h1.2v1.2h-1.2zM184.6,50.8h1.2v1.2h-1.2zM190.2,52.9h1.2v1.2h-1.2zM187.7,57.4h1.2v1.2h-1.2zM188.5,52.3h1.2v1.2h-1.2zM191.9,53.0h1.2v1.2h-1.2zM183.2,55.5h1.2v1.2h-1.2zM183.9,52.4h1.2v1.2h-1.2zM190.6,55.4h1.2v1.2h-1.2zM174.1,66.5h1.2v1.2h-1.2zM175.6,66.9h1.2v1.2h-1.2zM174.8,67.9h1.2v1.2h-1.2zM174.3,64.8h1.2v1.2h-1.2zM175.5,71.4h1.2v1.2h-1.2zM174.3,69.5h1.2v1.2h-1.2zM174.8,67.7h1.2v1.2h-1.2zM175.6,66.6h1.2v1.2h-1.2zM177.0,66.0h1.2v1.2h-1.2zM174.5,63.2h1.2v1.2h-1.2z" fill="#2d4aab"/>
<rect x="138.2" y="17.8" width="69.5" height="69.2" fill="none" stroke="#000" stroke-width="1.3"/>
<path d="M136.6,17.8h1.6M136.6,20.7h1.6M136.6,23.6h1.6M136.6,26.5h1.6M136.6,29.3h1.6M136.6,32.2h1.6M136.6,35.1h1.6M136.6,38.0h1.6M136.6,40.9h1.6M136.6,43.8h1.6M136.6,46.6h1.6M136.6,49.5h1.6M136.6,52.4h1.6M136.6,55.3h1.6M136.6,58.2h1.6M136.6,61.0h1.6M136.6,63.9h1.6M136.6,66.8h1.6M136.6,69.7h1.6M136.6,72.6h1.6M136.6,75.5h1.6M136.6,78.4h1.6M136.6,81.2h1.6M136.6,84.1h1.6M136.6,87.0h1.6M135.6,35.2h2.6M135.6,55.6h2.6M135.6,71.8h2.6M135.6,86.2h2.6" stroke="#000" stroke-width="0.5" fill="none"/>
<path d="M138.2,87.0v1.6M141.4,87.0v1.6M144.5,87.0v1.6M147.7,87.0v1.6M150.8,87.0v1.6M154.0,87.0v1.6M157.2,87.0v1.6M160.3,87.0v1.6M163.5,87.0v1.6M166.6,87.0v1.6M169.8,87.0v1.6M172.9,87.0v1.6M176.1,87.0v1.6M179.3,87.0v1.6M182.4,87.0v1.6M185.6,87.0v1.6M188.7,87.0v1.6M191.9,87.0v1.6M195.1,87.0v1.6M198.2,87.0v1.6M201.4,87.0v1.6M204.5,87.0v1.6M207.7,87.0v1.6M142.5,87.0v2.6M156.3,87.0v2.6M175.9,87.0v2.6M189.7,87.0v2.6" stroke="#000" stroke-width="0.5" fill="none"/>
<rect x="148" y="87.3" width="12" height="1.4" fill="#000"/>
<text x="135.6" y="37.54" font-size="6.5" text-anchor="end">10<tspan font-size="5.1" dy="-2.34">4</tspan></text>
<text x="135.6" y="57.94" font-size="6.5" text-anchor="end">10<tspan font-size="5.1" dy="-2.34">3</tspan></text>
<text x="135.6" y="74.14" font-size="6.5" text-anchor="end">0</text>
<text x="135.6" y="88.54" font-size="6.5" text-anchor="end">−10<tspan font-size="5.1" dy="-2.34">3</tspan></text>
<text x="142.5" y="97.54" font-size="6.5" text-anchor="middle">−10<tspan font-size="5.1" dy="-2.34">3</tspan></text>
<text x="156.3" y="97.54" font-size="6.5" text-anchor="middle">0</text>
<text x="175.9" y="97.54" font-size="6.5" text-anchor="middle">10<tspan font-size="5.1" dy="-2.34">3</tspan></text>
<text x="189.7" y="97.54" font-size="6.5" text-anchor="middle">10<tspan font-size="5.1" dy="-2.34">4</tspan></text>
<text x="117.6" y="55.8" font-size="10" text-anchor="middle" textLength="14.5" lengthAdjust="spacingAndGlyphs" transform="rotate(-90 117.6 52.2)">c-Kit</text>
<text x="172.4" y="108.77" font-size="10.2" text-anchor="middle" textLength="17.3" lengthAdjust="spacingAndGlyphs">Sca-1</text>
<rect x="170.6" y="23.8" width="23.9" height="16.5" fill="none" stroke="#555" stroke-width="0.8"/>
<text x="181.2" y="23.92" font-size="8.4" textLength="11.7" lengthAdjust="spacingAndGlyphs">KSL</text>
<line x1="194.5" y1="24.7" x2="246" y2="24.7" stroke="#000" stroke-width="1.2" />
<polygon points="245,21.7 256,24.7 245,27.7" fill="#000"/>
<g filter="url(#bl)"><path d="M266.9,40.4 266.6,41.6 266.4,41.9 266.4,42.6 265.9,43.6 265.9,44.4 265.6,44.6 265.4,49.4 265.1,49.6 265.1,52.6 264.9,52.9 264.9,57.6 265.1,57.9 265.1,59.6 265.4,59.9 265.6,63.6 265.9,63.9 265.9,64.6 266.6,65.6 270.4,67.4 287.9,67.4 288.1,67.1 294.6,66.9 294.9,66.6 296.9,66.6 297.4,66.4 300.6,62.1 300.6,60.9 300.9,60.6 301.1,55.1 301.4,54.9 301.4,52.1 301.6,51.9 301.6,48.9 301.4,48.6 301.4,46.4 301.1,46.1 300.9,41.6 300.6,41.4 300.6,40.4 300.1,39.9 299.1,39.6 298.4,39.1 297.1,38.9 296.4,38.4 293.9,38.4 293.6,38.1 289.1,38.1 288.9,37.9 282.4,37.6 282.1,37.4 278.4,37.4 278.1,37.6 273.6,37.6 273.4,37.9 269.9,38.1 267.9,39.4Z" fill="#2b45a2" fill-rule="evenodd"/><path d="M267.1,40.4 266.9,41.6 266.4,42.6 266.4,43.4 265.9,44.4 265.9,46.1 265.6,46.4 265.6,47.6 265.4,47.9 265.4,50.4 265.1,50.6 265.1,53.6 264.9,53.9 264.9,56.1 265.1,56.4 265.4,60.6 265.6,60.9 265.6,61.9 265.9,62.1 265.9,63.9 266.4,65.1 270.4,67.1 287.9,67.1 288.1,66.9 291.9,66.9 292.1,66.6 296.9,66.4 299.6,63.1 300.4,61.9 300.4,60.6 300.6,60.4 300.9,54.9 301.1,54.6 301.1,51.9 301.4,51.6 301.4,49.1 301.1,48.9 301.1,46.6 300.9,46.4 300.9,44.4 300.6,44.1 300.6,41.9 300.4,41.6 300.4,40.9 299.9,40.1 296.1,38.6 293.6,38.6 293.4,38.4 288.9,38.4 288.6,38.1 287.1,38.1 286.9,37.9 278.1,37.6 277.9,37.9 273.4,37.9 273.1,38.1 270.9,38.1 270.6,38.4 269.9,38.4Z" fill="#3a55aa" fill-rule="evenodd"/><path d="M268.4,40.4 267.6,41.1 266.4,44.4 266.1,46.9 265.9,47.1 265.6,52.6 265.4,52.9 265.4,54.4 265.1,54.6 265.4,58.4 265.6,58.6 265.6,59.6 265.9,59.9 265.9,61.4 266.1,61.6 266.1,62.6 266.4,62.9 266.6,64.4 267.1,64.9 270.6,66.6 276.4,66.6 276.6,66.9 287.4,66.6 287.6,66.4 288.6,66.4 288.9,66.1 291.4,65.9 293.4,64.6 295.1,62.9 296.6,60.9 298.1,57.6 298.4,55.6 298.6,55.4 298.6,51.9 298.4,51.6 298.4,50.6 298.1,50.4 297.9,48.9 296.6,46.4 295.4,44.6 293.1,42.4 290.6,40.6 288.1,39.4 286.6,39.1 286.4,38.9 284.9,38.9 284.6,38.6 282.6,38.6 282.4,38.4 273.6,38.6 273.4,38.9 272.4,38.9 272.1,39.1 270.9,39.1Z" fill="#3c5db0" fill-rule="evenodd"/><path d="M268.1,42.9 267.1,43.9 266.6,44.9 266.6,45.9 266.1,47.1 265.9,51.1 265.6,51.4 265.6,53.6 265.4,53.9 265.4,56.4 265.6,56.6 265.9,60.4 266.1,60.6 266.6,63.1 267.1,63.9 268.6,64.6 269.1,65.1 271.6,66.1 273.1,66.1 273.4,66.4 284.4,66.4 284.6,66.1 286.1,66.1 288.6,65.1 290.9,63.6 293.6,60.9 295.4,57.6 295.6,56.1 295.9,55.9 295.9,54.1 296.1,53.9 295.9,51.4 295.6,51.1 295.6,50.4 294.6,47.9 292.4,44.9 290.6,43.4 286.6,41.1 286.1,41.1 284.4,40.4 283.6,40.4 283.4,40.1 282.4,40.1 282.1,39.9 275.9,39.9 275.6,40.1 274.6,40.1 274.4,40.4 273.6,40.4 273.4,40.6 271.4,41.1Z" fill="#3e6dbe" fill-rule="evenodd"/><path d="M268.9,43.9 267.1,45.4 266.6,46.4 266.6,46.9 266.4,47.1 266.4,48.6 266.1,48.9 266.1,50.1 265.9,50.4 265.9,53.1 265.6,53.4 265.6,58.1 265.9,58.4 265.9,59.4 266.1,59.6 266.1,60.9 267.1,62.9 269.6,64.4 270.1,64.4 270.9,64.9 271.4,64.9 273.1,65.6 273.9,65.6 274.1,65.9 275.9,65.9 276.1,66.1 281.1,66.1 281.4,65.9 283.1,65.9 283.4,65.6 284.1,65.6 287.4,64.4 290.6,62.1 292.6,59.9 292.9,59.1 293.6,58.1 293.6,57.6 294.1,56.9 294.1,56.1 294.4,55.9 294.4,54.6 294.6,54.4 294.4,51.4 294.1,51.1 293.9,49.6 292.6,47.4 291.9,46.4 289.1,43.9 285.1,41.9 283.6,41.6 283.4,41.4 282.4,41.4 282.1,41.1 280.4,41.1 280.1,40.9 277.9,40.9 277.6,41.1 275.9,41.1 275.6,41.4 273.6,41.6 272.1,42.4 271.6,42.4Z" fill="#3d8ad2" fill-rule="evenodd"/><path d="M273.6,42.9 269.6,44.9 268.4,46.1 268.1,46.1 266.9,47.6 266.6,49.1 266.4,49.4 266.4,50.4 266.1,50.6 266.1,52.6 265.9,52.9 265.9,53.9 265.6,54.1 265.9,58.9 266.1,59.1 266.1,60.1 266.6,61.4 267.9,62.6 270.1,63.9 270.6,63.9 272.1,64.6 274.1,64.9 274.4,65.1 275.9,65.1 276.1,65.4 279.6,65.4 279.9,65.1 281.6,65.1 281.9,64.9 283.6,64.6 283.9,64.4 285.1,64.1 288.6,62.1 291.6,58.9 292.6,56.9 292.9,55.1 293.1,54.9 293.1,52.4 292.9,52.1 292.9,51.1 292.6,50.9 292.4,49.6 291.6,48.6 291.4,47.9 290.4,46.9 290.4,46.6 288.4,44.9 284.4,42.9 283.6,42.9 282.4,42.4 281.1,42.4 280.9,42.1 277.1,42.1 276.9,42.4 275.6,42.4 275.4,42.6Z" fill="#3aa9e2" fill-rule="evenodd"/><path d="M271.4,44.9 269.6,46.1 268.1,47.6 267.4,48.6 266.4,51.1 266.4,52.1 266.1,52.4 266.1,53.4 265.9,53.6 265.9,55.1 265.6,55.4 265.6,55.9 265.9,56.1 265.9,58.4 266.1,58.6 266.1,59.4 266.4,59.6 266.6,60.9 267.9,62.1 271.9,64.1 272.6,64.1 273.9,64.6 275.6,64.6 275.9,64.9 278.9,64.9 279.1,64.6 280.9,64.6 281.1,64.4 282.9,64.1 284.4,63.4 284.9,63.4 287.1,62.1 289.9,59.6 291.4,57.1 291.4,56.6 291.9,55.6 292.1,53.1 291.9,52.9 291.6,50.6 290.6,48.6 288.4,46.1 285.1,44.1 284.6,44.1 282.9,43.4 281.9,43.4 281.6,43.1 276.4,43.1 276.1,43.4 275.1,43.4 274.9,43.6 272.9,44.1Z" fill="#3cbde9" fill-rule="evenodd"/><path d="M281.4,44.4 276.6,44.4 276.4,44.6 274.6,44.9 273.9,45.4 273.4,45.4 272.4,45.9 270.6,47.1 269.4,48.4 266.6,52.6 266.6,53.1 266.1,53.9 266.1,54.9 265.9,55.1 265.9,56.6 266.1,56.9 266.1,58.6 266.4,58.9 266.4,59.6 266.9,60.6 267.6,61.4 269.9,62.9 270.4,62.9 271.1,63.4 271.6,63.4 272.6,63.9 275.6,64.1 275.9,64.4 277.9,64.4 278.1,64.1 281.1,63.9 281.4,63.6 283.4,63.1 286.4,61.4 288.6,59.1 289.9,56.9 289.9,56.4 290.4,55.4 290.4,51.9 289.6,50.4 289.6,49.9 288.6,48.4 286.4,46.4 284.6,45.4 284.1,45.4 283.4,44.9 281.6,44.6Z" fill="#58c29c" fill-rule="evenodd"/><path d="M286.4,47.9 283.4,46.1 281.9,45.9 281.6,45.6 280.6,45.6 280.4,45.4 277.6,45.4 277.4,45.6 276.4,45.6 276.1,45.9 274.6,46.1 272.6,47.1 271.6,47.9 268.4,51.4 266.4,54.4 266.4,54.9 266.1,55.1 266.1,57.9 266.4,58.1 266.4,58.9 266.9,60.1 269.1,62.1 270.6,62.9 271.1,62.9 272.9,63.6 273.9,63.6 274.1,63.9 279.1,63.9 279.4,63.6 281.4,63.4 283.9,62.4 285.4,61.4 287.4,59.4 288.4,57.6 288.4,57.1 288.9,56.1 288.9,55.1 289.1,54.9 289.1,52.6 288.9,52.4 288.6,50.9 287.4,48.9Z" fill="#6ebf47" fill-rule="evenodd"/><path d="M267.1,56.4 267.4,58.6 268.1,59.9 269.1,60.9 271.9,62.4 272.6,62.4 273.9,62.9 278.9,62.9 279.1,62.6 279.9,62.6 280.1,62.4 281.4,62.1 283.1,61.1 284.9,59.4 285.6,57.6 285.6,56.1 285.4,55.9 285.4,55.4 284.9,54.4 283.1,52.6 281.1,51.6 280.6,51.6 279.6,51.1 278.6,51.1 278.4,50.9 274.4,50.9 274.1,51.1 273.1,51.1 272.9,51.4 271.6,51.6 269.4,52.9 268.1,54.1 267.4,55.4 267.4,56.1Z" fill="#80c443" fill-rule="evenodd"/><path d="M268.1,56.1 268.1,57.9 268.4,58.1 268.4,58.6 270.4,60.9 271.9,61.6 272.4,61.6 273.4,62.1 274.4,62.1 274.6,62.4 277.9,62.4 278.1,62.1 279.1,62.1 281.6,61.1 283.6,59.4 284.4,57.4 284.1,55.9 282.6,53.9 280.4,52.6 278.9,52.4 278.6,52.1 277.6,52.1 277.4,51.9 274.4,51.9 274.1,52.1 273.1,52.1 272.9,52.4 271.6,52.6 269.9,53.6 268.9,54.6Z" fill="#bcd42e" fill-rule="evenodd"/><path d="M268.9,56.1 268.9,57.9 269.6,59.4 271.1,60.6 272.6,61.4 274.4,61.6 274.6,61.9 277.6,61.9 277.9,61.6 278.9,61.6 279.1,61.4 280.4,61.1 281.6,60.4 282.9,59.1 283.4,58.1 283.4,56.4 282.9,55.4 280.9,53.6 278.9,52.9 278.1,52.9 277.9,52.6 273.6,52.6 273.4,52.9 272.6,52.9 270.6,53.9 269.4,55.1Z" fill="#fae515" fill-rule="evenodd"/><path d="M270.1,56.6 270.1,57.4 270.6,58.6 271.9,59.9 274.4,60.9 278.1,60.9 280.1,60.1 280.9,59.6 281.9,58.4 281.9,56.4 280.4,54.6 278.9,53.9 276.9,53.6 276.6,53.4 274.9,53.4 274.6,53.6 272.9,53.9 271.1,54.9 270.4,55.9 270.4,56.4Z" fill="#f6a11c" fill-rule="evenodd"/><path d="M271.9,56.4 271.9,57.6 272.1,58.1 273.6,59.4 274.1,59.4 275.1,59.9 277.6,59.9 277.9,59.6 278.6,59.6 280.4,58.1 280.4,56.4 278.6,54.9 277.1,54.6 276.9,54.4 274.9,54.4 274.6,54.6 273.9,54.6 272.9,55.1Z" fill="#e5262a" fill-rule="evenodd"/></g>
<path d="M251.8,53.1h1.2v1.2h-1.2zM253.9,54.5h1.2v1.2h-1.2zM258.0,41.6h1.2v1.2h-1.2zM248.2,60.1h1.2v1.2h-1.2zM252.1,45.6h1.2v1.2h-1.2zM263.9,51.3h1.2v1.2h-1.2zM261.4,51.4h1.2v1.2h-1.2zM258.2,43.6h1.2v1.2h-1.2zM258.2,60.8h1.2v1.2h-1.2zM256.4,57.8h1.2v1.2h-1.2zM258.7,41.5h1.2v1.2h-1.2zM260.1,54.2h1.2v1.2h-1.2zM252.8,40.7h1.2v1.2h-1.2zM261.8,51.3h1.2v1.2h-1.2zM259.5,61.1h1.2v1.2h-1.2zM259.4,62.1h1.2v1.2h-1.2zM254.3,59.2h1.2v1.2h-1.2zM255.1,62.5h1.2v1.2h-1.2zM262.1,42.3h1.2v1.2h-1.2zM250.2,45.2h1.2v1.2h-1.2zM263.4,50.5h1.2v1.2h-1.2zM258.0,47.2h1.2v1.2h-1.2zM256.1,49.3h1.2v1.2h-1.2zM253.6,54.0h1.2v1.2h-1.2zM257.3,61.7h1.2v1.2h-1.2zM304.1,60.3h1.2v1.2h-1.2zM305.1,61.8h1.2v1.2h-1.2zM304.0,41.9h1.2v1.2h-1.2zM305.2,61.2h1.2v1.2h-1.2zM305.4,51.7h1.2v1.2h-1.2zM304.3,43.1h1.2v1.2h-1.2zM305.0,51.8h1.2v1.2h-1.2zM301.7,39.5h1.2v1.2h-1.2zM305.1,61.8h1.2v1.2h-1.2zM300.5,57.2h1.2v1.2h-1.2zM302.5,41.6h1.2v1.2h-1.2zM301.8,56.5h1.2v1.2h-1.2zM305.2,39.1h1.2v1.2h-1.2zM303.7,39.1h1.2v1.2h-1.2zM304.3,45.9h1.2v1.2h-1.2z" fill="#2d4aab"/>
<rect x="242" y="18" width="69.8" height="69.4" fill="none" stroke="#000" stroke-width="1.3"/>
<path d="M240.4,18.0h1.6M240.4,20.9h1.6M240.4,23.8h1.6M240.4,26.7h1.6M240.4,29.6h1.6M240.4,32.5h1.6M240.4,35.4h1.6M240.4,38.2h1.6M240.4,41.1h1.6M240.4,44.0h1.6M240.4,46.9h1.6M240.4,49.8h1.6M240.4,52.7h1.6M240.4,55.6h1.6M240.4,58.5h1.6M240.4,61.4h1.6M240.4,64.3h1.6M240.4,67.2h1.6M240.4,70.1h1.6M240.4,72.9h1.6M240.4,75.8h1.6M240.4,78.7h1.6M240.4,81.6h1.6M240.4,84.5h1.6M240.4,87.4h1.6M239.4,19.0h2.6M239.4,36.0h2.6M239.4,53.3h2.6M239.4,70.2h2.6M239.4,86.7h2.6" stroke="#000" stroke-width="0.5" fill="none"/>
<path d="M242.0,87.4v1.6M245.2,87.4v1.6M248.3,87.4v1.6M251.5,87.4v1.6M254.7,87.4v1.6M257.9,87.4v1.6M261.0,87.4v1.6M264.2,87.4v1.6M267.4,87.4v1.6M270.6,87.4v1.6M273.7,87.4v1.6M276.9,87.4v1.6M280.1,87.4v1.6M283.2,87.4v1.6M286.4,87.4v1.6M289.6,87.4v1.6M292.8,87.4v1.6M295.9,87.4v1.6M299.1,87.4v1.6M302.3,87.4v1.6M305.5,87.4v1.6M308.6,87.4v1.6M311.8,87.4v1.6M247.3,87.4v2.6M268.9,87.4v2.6M295.4,87.4v2.6" stroke="#000" stroke-width="0.5" fill="none"/>
<rect x="264" y="87.7" width="8" height="1.3" fill="#000"/>
<text x="237.2" y="21.16" font-size="6" text-anchor="end">120K</text>
<text x="237.2" y="38.16" font-size="6" text-anchor="end">90K</text>
<text x="237.2" y="55.46" font-size="6" text-anchor="end">60K</text>
<text x="237.2" y="72.36" font-size="6" text-anchor="end">30K</text>
<text x="237.2" y="88.86" font-size="6" text-anchor="end">0</text>
<text x="247.3" y="98.24" font-size="6.5" text-anchor="middle">−10<tspan font-size="5.1" dy="-2.34">3</tspan></text>
<text x="268.9" y="98.24" font-size="6.5" text-anchor="middle">0</text>
<text x="295.4" y="98.24" font-size="6.5" text-anchor="middle">10<tspan font-size="5.1" dy="-2.34">3</tspan></text>
<text x="215.8" y="56.5" font-size="10" text-anchor="middle" textLength="21" lengthAdjust="spacingAndGlyphs" transform="rotate(-90 215.8 52.9)">SSC-A</text>
<text x="275.9" y="108.77" font-size="10.2" text-anchor="middle" textLength="18.3" lengthAdjust="spacingAndGlyphs">CD34</text>
<rect x="246" y="30.7" width="63.3" height="48.3" fill="none" stroke="#c8c8c8" stroke-width="0.8"/>
<line x1="274.1" y1="30.7" x2="274.1" y2="79" stroke="#000" stroke-width="1" />
<text x="247.3" y="77.98" font-size="8" textLength="22.6" lengthAdjust="spacingAndGlyphs">34<tspan font-size="5" dy="-2.6">−</tspan><tspan dy="2.6">KSL</tspan></text>
<text x="281.2" y="77.98" font-size="8" textLength="23.2" lengthAdjust="spacingAndGlyphs">34<tspan font-size="5" dy="-2.6">+</tspan><tspan dy="2.6">KSL</tspan></text>
<polyline points="262.5,30.7 262.5,9.5 454,9.5 454,21" fill="none" stroke="#000" stroke-width="1.1"/>
<line x1="454" y1="20" x2="454" y2="22.2" stroke="#000" stroke-width="1.1" />
<polygon points="451.8,21.2 454,29.8 456.2,21.2" fill="#000"/>
<line x1="309.3" y1="39.1" x2="340" y2="39.1" stroke="#000" stroke-width="1.2" />
<polygon points="339,36.1 350,39.1 339,42.1" fill="#000"/>
<g filter="url(#bl)"><path d="M352.9,34.4 351.6,38.4 351.4,38.6 351.4,39.1 351.1,39.4 351.1,40.4 350.9,40.6 350.9,43.1 350.6,43.4 350.6,51.9 350.4,52.1 350.4,57.4 350.1,57.6 350.1,61.6 350.4,61.9 350.4,64.6 350.6,64.9 350.9,70.6 351.1,70.9 351.1,71.9 352.1,72.9 354.9,74.9 355.4,74.9 355.6,75.1 360.1,75.1 360.4,75.4 362.9,75.4 363.1,75.1 368.1,75.1 368.4,74.9 371.9,74.9 372.1,74.6 374.9,74.6 375.1,74.4 377.9,74.4 378.1,74.1 380.9,74.1 381.1,73.9 383.9,73.9 384.1,73.6 385.1,73.6 390.4,70.4 390.6,69.9 390.6,66.1 386.9,62.4 383.6,60.9 382.6,59.9 382.1,58.6 381.6,58.1 380.9,56.6 380.6,55.4 380.9,55.1 380.9,53.9 381.1,53.6 381.1,52.4 381.4,52.1 381.4,50.9 381.6,50.6 381.1,42.9 379.9,40.6 379.9,40.1 378.6,37.6 377.6,36.6 377.4,36.6 374.1,33.6 370.1,32.4 369.9,32.1 369.4,32.1 369.1,31.9 368.6,31.9 368.4,31.6 357.9,31.6 355.6,32.9 355.1,32.9 354.1,33.4Z" fill="#2b45a2" fill-rule="evenodd"/><path d="M353.1,34.4 351.9,38.4 351.6,38.6 351.6,39.1 351.4,39.4 351.4,40.1 351.1,40.4 351.1,42.9 350.9,43.1 350.9,52.1 350.6,52.4 350.6,57.6 350.4,57.9 350.4,61.1 350.6,61.4 350.6,64.1 350.9,64.4 351.1,70.4 351.4,70.6 351.4,71.6 351.9,72.4 352.9,72.9 354.9,74.6 355.4,74.6 355.6,74.9 357.6,74.9 357.9,75.1 365.4,75.1 365.6,74.9 368.4,74.9 368.6,74.6 371.4,74.6 371.6,74.4 374.6,74.4 374.9,74.1 377.6,74.1 377.9,73.9 380.6,73.9 380.9,73.6 383.4,73.6 383.6,73.4 384.9,73.4 386.4,72.6 390.4,69.9 390.4,66.4 390.1,65.9 386.4,62.4 383.1,60.9 382.4,60.1 380.4,56.4 380.4,54.9 380.6,54.6 380.6,53.4 380.9,53.1 380.9,51.9 381.1,51.6 381.1,50.4 381.4,50.1 381.4,49.1 381.1,48.9 380.9,43.4 378.4,37.9 377.1,36.6 376.9,36.6 373.6,33.6 373.1,33.6 368.4,31.9 365.1,31.9 364.9,31.6 359.4,31.6 359.1,31.9 357.6,31.9 354.1,33.6Z" fill="#3a55aa" fill-rule="evenodd"/><path d="M354.4,34.1 353.4,35.4 353.4,35.9 352.4,38.4 352.1,40.1 351.9,40.4 351.9,42.6 351.6,42.9 351.6,48.4 351.9,48.6 351.9,49.9 352.1,50.1 352.1,50.9 352.4,51.1 352.9,53.1 354.4,56.1 354.9,56.6 354.6,56.9 354.6,63.6 354.4,63.9 354.4,72.1 355.1,73.9 355.9,74.4 356.6,74.4 356.9,74.6 359.1,74.6 359.4,74.9 363.9,74.9 364.1,74.6 366.4,74.6 366.6,74.4 368.1,74.1 368.9,73.4 369.4,72.4 370.9,71.1 371.4,71.1 371.6,70.9 377.1,70.9 377.4,70.6 379.9,70.4 382.9,69.1 383.9,67.9 383.9,67.1 382.9,65.9 379.9,64.6 377.4,64.4 377.1,64.1 371.9,64.1 370.6,63.6 369.9,62.9 369.4,61.9 369.4,61.4 369.1,61.1 369.1,58.6 368.9,58.4 368.9,57.6 370.9,54.6 371.1,53.6 371.6,52.9 371.6,52.4 372.4,50.6 372.4,49.9 372.6,49.6 372.9,46.6 373.1,46.4 373.1,41.6 372.9,41.4 372.9,39.6 372.6,39.4 372.4,37.4 371.1,34.1 370.4,33.4 368.4,32.4 367.1,32.4 366.9,32.1 358.4,32.1Z" fill="#3c5db0" fill-rule="evenodd"/><path d="M358.4,32.4 355.4,34.1 354.9,34.9 353.6,37.9 353.6,38.6 353.1,39.9 353.1,41.4 352.9,41.6 352.9,46.4 353.1,46.6 353.1,48.1 353.4,48.4 353.4,49.1 353.6,49.4 353.6,50.1 353.9,50.4 354.1,51.6 355.4,54.1 355.9,54.6 355.9,56.6 355.6,56.9 355.6,63.6 355.4,63.9 355.4,71.9 356.1,73.9 357.1,74.4 358.1,74.4 358.4,74.6 364.9,74.6 365.1,74.4 366.9,74.1 367.6,73.4 369.1,70.1 371.4,67.4 369.9,65.9 368.6,63.6 368.4,62.1 368.1,61.9 368.1,59.4 367.9,59.1 367.9,56.6 368.1,56.4 368.1,55.4 368.9,54.4 370.4,51.4 370.4,50.9 370.9,49.9 370.9,49.1 371.1,48.9 371.4,45.4 371.6,45.1 371.4,40.6 371.1,40.4 371.1,39.1 370.9,38.9 370.9,38.1 370.6,37.9 370.4,36.6 368.9,33.6 368.1,32.9 367.6,32.6 366.6,32.6 366.4,32.4Z" fill="#3e6dbe" fill-rule="evenodd"/><path d="M360.1,32.4 359.9,32.6 358.6,32.6 357.6,33.1 356.1,34.6 354.9,37.1 354.9,37.6 354.4,38.6 354.4,39.4 354.1,39.6 354.1,40.6 353.9,40.9 353.9,47.1 354.1,47.4 354.1,48.4 354.4,48.6 354.4,49.4 354.6,49.6 354.9,50.9 356.4,53.6 356.4,59.6 356.1,59.9 356.1,64.6 355.9,64.9 355.9,71.6 356.1,71.9 356.1,72.6 357.1,74.1 357.6,74.1 357.9,74.4 359.4,74.4 359.6,74.6 363.6,74.6 363.9,74.4 365.4,74.4 366.6,73.9 367.9,71.6 367.9,71.1 368.6,69.6 368.9,68.1 369.1,67.9 369.1,66.9 368.9,66.6 368.9,65.9 367.9,63.4 367.6,60.9 367.4,60.6 367.4,54.4 368.1,53.6 369.9,49.9 369.9,49.1 370.4,47.9 370.4,46.6 370.6,46.4 370.6,41.6 370.4,41.4 370.4,40.1 370.1,39.9 369.6,37.4 368.1,34.4 366.6,32.9 366.1,32.9 365.9,32.6 364.1,32.6 363.9,32.4Z" fill="#3d8ad2" fill-rule="evenodd"/><path d="M360.6,32.6 360.4,32.9 359.4,32.9 358.9,33.1 356.6,35.6 355.4,38.4 355.4,39.1 354.9,40.4 354.9,41.6 354.6,41.9 354.6,46.1 354.9,46.4 354.9,47.6 355.1,47.9 355.1,48.6 355.4,48.9 355.6,50.1 356.1,50.9 356.1,51.4 356.9,52.4 356.9,61.1 356.6,61.4 356.6,65.1 356.4,65.4 356.4,71.4 356.6,71.6 356.9,73.1 357.9,74.1 358.6,74.1 358.9,74.4 364.6,74.4 365.9,73.9 366.4,73.4 367.1,71.9 367.1,71.4 367.9,69.6 367.9,68.9 368.1,68.6 368.1,65.9 367.6,64.9 367.6,64.1 367.1,62.9 367.1,61.6 366.9,61.4 366.9,53.4 368.1,51.6 369.4,48.4 369.6,45.4 369.9,45.1 369.9,42.9 369.6,42.6 369.4,39.6 369.1,39.4 368.6,37.4 367.4,35.1 364.9,32.9 363.9,32.9 363.6,32.6Z" fill="#3aa9e2" fill-rule="evenodd"/><path d="M361.1,32.9 360.9,33.1 359.6,33.4 357.9,34.9 356.4,37.4 356.4,37.9 355.9,38.9 355.9,39.6 355.6,39.9 355.6,40.6 355.4,40.9 355.4,46.6 355.6,46.9 355.6,47.9 355.9,48.1 356.4,50.1 357.4,51.6 357.4,59.1 357.1,59.4 357.1,63.9 356.9,64.1 356.9,71.9 357.4,73.1 358.6,74.1 359.6,74.1 359.9,74.4 363.6,74.4 363.9,74.1 364.9,74.1 365.9,73.4 366.6,72.1 366.6,71.6 367.1,70.6 367.1,69.9 367.6,68.9 367.6,65.9 367.4,65.6 367.4,64.9 366.9,63.6 366.6,60.9 366.4,60.6 366.4,53.1 366.9,51.9 367.4,51.4 368.1,49.9 368.1,49.4 368.6,48.4 368.9,46.1 369.1,45.9 369.1,42.1 368.9,41.9 368.9,40.6 368.6,40.4 368.6,39.6 368.4,39.4 368.1,38.1 366.4,35.1 365.1,33.9 363.9,33.1 363.1,33.1 362.9,32.9Z" fill="#3cbde9" fill-rule="evenodd"/><path d="M360.6,33.6 359.6,34.1 357.9,35.9 356.9,37.9 356.9,38.4 356.4,39.4 356.4,40.4 356.1,40.6 356.1,45.9 356.4,46.1 356.9,48.6 358.1,50.9 358.1,54.6 357.9,54.9 357.9,62.1 357.6,62.4 357.6,64.9 357.4,65.1 357.4,71.1 358.1,73.1 358.9,73.9 359.4,73.9 359.6,74.1 363.6,74.1 364.9,73.6 365.6,72.6 366.4,71.1 366.4,70.4 366.6,70.1 366.9,68.4 367.1,68.1 367.1,66.6 366.9,66.4 366.9,65.4 366.6,65.1 366.6,64.4 366.1,63.1 366.1,61.9 365.9,61.6 365.9,51.4 366.4,50.9 367.9,47.4 367.9,46.4 368.1,46.1 368.1,41.6 367.9,41.4 367.9,40.4 367.6,40.1 367.1,38.1 365.9,35.9 363.6,33.9 363.1,33.9 362.9,33.6Z" fill="#58c29c" fill-rule="evenodd"/><path d="M361.4,33.9 359.6,34.6 358.1,36.1 357.1,38.1 356.9,39.6 356.6,39.9 356.6,41.1 356.4,41.4 356.4,43.9 356.6,44.1 356.6,45.4 356.9,45.6 356.9,46.4 357.1,46.6 357.4,47.9 358.1,49.4 358.6,49.9 358.6,59.1 358.4,59.4 358.4,62.6 358.1,62.9 358.1,64.9 357.9,65.1 357.9,70.9 358.6,72.9 359.4,73.6 359.9,73.9 363.4,73.9 363.6,73.6 364.1,73.6 365.1,72.6 365.9,71.1 366.1,69.6 366.4,69.4 366.4,68.4 366.6,68.1 366.6,66.4 366.4,66.1 366.4,65.1 365.6,63.1 365.4,60.4 365.1,60.1 365.1,52.9 365.4,52.6 365.4,50.4 366.6,48.4 366.6,47.9 367.1,46.9 367.1,45.9 367.4,45.6 367.4,41.1 367.1,40.9 367.1,39.9 366.9,39.6 366.6,38.4 366.1,37.6 366.1,37.1 365.1,35.6 363.1,34.1Z" fill="#6ebf47" fill-rule="evenodd"/><path d="M361.4,35.1 359.4,36.1 357.9,38.6 357.6,40.4 357.4,40.6 357.4,43.4 357.6,43.6 357.6,44.6 357.9,44.9 358.1,46.1 358.9,47.4 359.9,48.4 360.9,48.9 362.6,48.9 364.4,47.6 365.4,45.9 365.4,45.4 365.9,44.4 366.1,41.4 365.9,41.1 365.6,38.9 364.6,36.9 363.4,35.6 362.1,35.1Z" fill="#80c443" fill-rule="evenodd"/><path d="M361.4,35.9 360.1,36.4 359.1,37.4 358.4,38.9 358.1,40.6 357.9,40.9 357.9,43.1 358.1,43.4 358.1,44.4 358.9,46.1 360.4,47.6 360.9,47.9 362.4,47.9 363.4,47.4 364.1,46.6 365.1,44.6 365.1,43.9 365.4,43.6 365.4,40.1 364.4,37.6 362.9,36.1Z" fill="#bcd42e" fill-rule="evenodd"/><path d="M360.9,36.6 360.4,36.9 358.9,38.6 358.9,39.1 358.4,40.1 358.4,43.6 359.1,45.6 360.4,46.9 360.9,47.1 362.6,47.1 363.6,46.4 364.6,44.6 364.9,42.9 365.1,42.6 365.1,41.1 364.9,40.9 364.6,39.1 363.9,37.6 362.6,36.6Z" fill="#fae515" fill-rule="evenodd"/><path d="M361.9,37.4 360.9,37.6 359.9,38.4 358.9,40.9 358.9,42.9 359.1,43.1 359.1,43.9 360.1,45.6 360.9,46.1 362.4,46.1 363.1,45.6 363.9,44.6 363.9,44.1 364.4,43.1 364.4,40.6 364.1,40.4 364.1,39.6 363.6,38.6 362.6,37.6 362.1,37.6Z" fill="#f6a11c" fill-rule="evenodd"/><path d="M361.1,38.6 359.9,40.1 359.9,40.6 359.6,40.9 359.6,42.9 360.1,44.1 360.9,44.9 361.9,45.1 363.1,44.1 363.6,43.1 363.6,40.6 363.1,39.4 362.1,38.6Z" fill="#e5262a" fill-rule="evenodd"/></g>
<path d="M383.1,36.9h1.2v1.2h-1.2zM385.1,38.3h1.2v1.2h-1.2zM380.9,45.2h1.2v1.2h-1.2zM391.9,56.4h1.2v1.2h-1.2zM389.9,40.2h1.2v1.2h-1.2zM387.0,41.7h1.2v1.2h-1.2zM382.2,37.0h1.2v1.2h-1.2zM382.8,60.0h1.2v1.2h-1.2zM390.8,56.6h1.2v1.2h-1.2zM390.4,39.4h1.2v1.2h-1.2zM384.0,51.6h1.2v1.2h-1.2zM389.5,57.9h1.2v1.2h-1.2zM391.4,36.4h1.2v1.2h-1.2zM387.9,52.8h1.2v1.2h-1.2zM386.6,39.0h1.2v1.2h-1.2zM386.2,36.5h1.2v1.2h-1.2zM392.1,58.2h1.2v1.2h-1.2zM387.1,42.4h1.2v1.2h-1.2zM391.8,50.0h1.2v1.2h-1.2zM391.5,57.7h1.2v1.2h-1.2zM386.6,45.6h1.2v1.2h-1.2zM387.8,46.1h1.2v1.2h-1.2zM382.1,42.5h1.2v1.2h-1.2zM390.6,35.2h1.2v1.2h-1.2zM380.6,51.5h1.2v1.2h-1.2zM383.6,49.0h1.2v1.2h-1.2zM386.1,43.6h1.2v1.2h-1.2zM393.0,39.5h1.2v1.2h-1.2zM385.4,39.7h1.2v1.2h-1.2zM388.2,41.7h1.2v1.2h-1.2zM384.6,54.9h1.2v1.2h-1.2zM384.2,49.6h1.2v1.2h-1.2zM391.8,36.8h1.2v1.2h-1.2zM380.8,40.4h1.2v1.2h-1.2zM389.9,51.2h1.2v1.2h-1.2zM383.1,43.3h1.2v1.2h-1.2zM382.3,46.9h1.2v1.2h-1.2zM380.6,53.5h1.2v1.2h-1.2zM391.6,60.7h1.2v1.2h-1.2zM389.6,60.9h1.2v1.2h-1.2zM380.2,42.1h1.2v1.2h-1.2zM392.6,55.7h1.2v1.2h-1.2zM385.3,60.4h1.2v1.2h-1.2zM388.1,56.9h1.2v1.2h-1.2zM383.8,39.4h1.2v1.2h-1.2zM379.0,39.0h1.2v1.2h-1.2zM378.0,43.3h1.2v1.2h-1.2zM382.7,39.7h1.2v1.2h-1.2zM378.0,42.4h1.2v1.2h-1.2zM378.3,45.3h1.2v1.2h-1.2zM378.2,37.2h1.2v1.2h-1.2zM378.0,39.3h1.2v1.2h-1.2zM386.0,41.5h1.2v1.2h-1.2zM382.6,47.6h1.2v1.2h-1.2zM379.6,57.7h1.2v1.2h-1.2zM378.0,45.0h1.2v1.2h-1.2zM384.2,41.5h1.2v1.2h-1.2zM378.0,47.0h1.2v1.2h-1.2zM378.3,41.3h1.2v1.2h-1.2zM378.1,55.1h1.2v1.2h-1.2zM380.3,56.4h1.2v1.2h-1.2zM384.4,44.9h1.2v1.2h-1.2zM382.2,53.4h1.2v1.2h-1.2zM378.3,38.0h1.2v1.2h-1.2zM384.7,55.8h1.2v1.2h-1.2zM382.9,50.5h1.2v1.2h-1.2zM380.0,53.9h1.2v1.2h-1.2zM378.4,51.1h1.2v1.2h-1.2zM378.0,57.0h1.2v1.2h-1.2zM381.3,57.2h1.2v1.2h-1.2zM346.2,70.4h1.2v1.2h-1.2zM346.6,72.9h1.2v1.2h-1.2zM349.3,40.2h1.2v1.2h-1.2zM346.8,60.9h1.2v1.2h-1.2zM348.8,64.9h1.2v1.2h-1.2zM350.6,45.9h1.2v1.2h-1.2zM346.0,71.2h1.2v1.2h-1.2zM346.1,69.6h1.2v1.2h-1.2zM346.6,67.2h1.2v1.2h-1.2zM349.9,69.6h1.2v1.2h-1.2zM391.3,70.8h1.2v1.2h-1.2zM389.2,68.7h1.2v1.2h-1.2zM390.0,70.9h1.2v1.2h-1.2zM392.6,66.7h1.2v1.2h-1.2zM391.2,62.3h1.2v1.2h-1.2zM388.2,67.9h1.2v1.2h-1.2zM390.9,70.6h1.2v1.2h-1.2zM391.6,63.4h1.2v1.2h-1.2z" fill="#2d4aab"/>
<path d="M343.3,18.0h1.4M343.3,20.4h1.4M343.3,22.8h1.4M343.3,25.2h1.4M343.3,27.6h1.4M343.3,30.0h1.4M343.3,32.4h1.4M343.3,34.8h1.4M343.3,37.2h1.4M343.3,39.6h1.4M343.3,42.0h1.4M343.3,44.4h1.4M343.3,46.8h1.4M343.3,49.2h1.4M343.3,51.6h1.4M343.3,54.0h1.4M343.3,56.4h1.4M343.3,58.8h1.4M343.3,61.2h1.4M343.3,63.6h1.4M343.3,66.0h1.4M343.3,68.4h1.4M343.3,70.8h1.4M343.3,73.2h1.4M343.3,75.6h1.4M343.3,78.0h1.4M348.0,87.6v1.2M350.2,87.6v1.2M352.4,87.6v1.2M354.6,87.6v1.2M356.8,87.6v1.2M359.0,87.6v1.2M361.2,87.6v1.2M363.4,87.6v1.2M365.6,87.6v1.2M367.8,87.6v1.2M370.0,87.6v1.2M372.2,87.6v1.2M374.4,87.6v1.2M376.6,87.6v1.2M378.8,87.6v1.2M381.0,87.6v1.2M383.2,87.6v1.2M385.4,87.6v1.2M387.6,87.6v1.2M389.8,87.6v1.2M392.0,87.6v1.2M394.2,87.6v1.2M396.4,87.6v1.2M398.6,87.6v1.2M400.8,87.6v1.2M403.0,87.6v1.2M405.2,87.6v1.2M407.4,87.6v1.2" stroke="#777" stroke-width="0.5"/>
<rect x="352" y="87.3" width="10.7" height="1.5" fill="#000"/>
<line x1="342.3" y1="34.9" x2="345" y2="34.9" stroke="#555" stroke-width="0.6" />
<line x1="342.3" y1="56" x2="345" y2="56" stroke="#555" stroke-width="0.6" />
<line x1="342.3" y1="68.8" x2="345" y2="68.8" stroke="#555" stroke-width="0.6" />
<line x1="342.3" y1="80.4" x2="345" y2="80.4" stroke="#555" stroke-width="0.6" />
<text x="343.3" y="37.24" font-size="6.5" text-anchor="end">10<tspan font-size="5.1" dy="-2.34">4</tspan></text>
<text x="343.3" y="58.34" font-size="6.5" text-anchor="end">10<tspan font-size="5.1" dy="-2.34">3</tspan></text>
<text x="343.3" y="71.14" font-size="6.5" text-anchor="end">0</text>
<text x="343.3" y="82.74" font-size="6.5" text-anchor="end">−10<tspan font-size="5.1" dy="-2.34">3</tspan></text>
<text x="358.5" y="95.84" font-size="6.5" text-anchor="middle">0</text>
<text x="384.1" y="95.84" font-size="6.5" text-anchor="middle">10<tspan font-size="5.1" dy="-2.34">3</tspan></text>
<text x="405.7" y="95.84" font-size="6.5" text-anchor="middle">10<tspan font-size="5.1" dy="-2.34">4</tspan></text>
<text x="323.3" y="55.5" font-size="10" text-anchor="middle" textLength="18" lengthAdjust="spacingAndGlyphs" transform="rotate(-90 323.3 51.9)">CD48</text>
<text x="379.2" y="107.57" font-size="10.2" text-anchor="middle" textLength="22" lengthAdjust="spacingAndGlyphs">CD150</text>
<rect x="350.3" y="61" width="55.4" height="16.2" fill="none" stroke="#9a9a9a" stroke-width="0.8"/>
<rect x="350.3" y="29.6" width="22.2" height="31.6" fill="none" stroke="#666" stroke-width="0.8"/>
<line x1="350.3" y1="61.2" x2="372.5" y2="61.2" stroke="#111" stroke-width="1.3" />
<line x1="372.5" y1="29.6" x2="372.5" y2="61.2" stroke="#111" stroke-width="1.1" />
<text x="352.4" y="29.35" font-size="8.2" textLength="15.8" lengthAdjust="spacingAndGlyphs">MPP</text>
<text x="384.3" y="84.55" font-size="8.2" textLength="24.5" lengthAdjust="spacingAndGlyphs">ST-HSC</text>
<g filter="url(#bl)"><path d="M454.4,33.1 452.9,35.4 451.9,37.6 451.9,40.9 451.6,41.1 451.6,48.6 451.4,48.9 451.6,57.6 451.9,57.9 451.6,63.4 451.9,63.6 451.9,64.6 452.1,64.9 452.1,65.9 452.4,66.1 452.4,67.1 452.6,67.4 452.9,69.1 453.1,69.4 453.4,70.6 454.1,71.6 462.4,74.6 483.6,74.6 483.9,74.4 485.9,74.4 486.1,74.1 487.6,74.1 487.9,73.9 492.1,73.6 492.4,73.4 496.6,72.9 496.9,72.6 497.4,72.6 498.4,71.6 499.1,70.1 500.1,68.9 500.6,67.9 500.6,67.4 499.4,65.1 498.9,64.6 498.6,63.9 497.1,62.1 496.4,61.9 495.1,60.9 490.1,58.1 485.9,52.9 485.9,50.1 486.1,49.9 486.1,48.4 486.4,48.1 486.6,45.1 486.4,44.9 486.4,44.4 485.4,43.1 484.4,41.1 482.6,38.6 480.6,37.9 479.9,37.9 477.9,37.1 477.1,37.1 476.9,36.9 474.4,36.4 472.9,35.6 472.4,35.1 471.1,34.6 469.4,33.4 467.4,32.6 466.1,32.6 465.9,32.4 462.6,32.4 462.4,32.1 459.1,32.1 458.9,32.4 455.6,32.6ZM471.4,52.1 471.9,51.6 472.4,51.6 472.6,51.4 475.1,51.1 475.4,51.4 477.1,51.6 477.6,52.4 476.9,53.1 476.4,53.1 476.1,53.4 472.9,53.4 472.6,53.1 472.1,53.1Z" fill="#2b45a2" fill-rule="evenodd"/><path d="M453.9,34.1 452.1,37.4 451.6,52.9 451.9,53.1 451.9,57.4 452.1,57.6 451.9,63.9 452.1,64.1 452.1,65.1 452.4,65.4 452.4,66.4 452.6,66.6 453.1,69.4 453.4,69.6 453.6,70.9 454.4,71.6 454.9,71.6 455.6,72.1 456.4,72.1 456.6,72.4 457.1,72.4 462.6,74.4 483.6,74.4 483.9,74.1 485.6,74.1 485.9,73.9 487.9,73.9 488.1,73.6 490.4,73.6 490.6,73.4 493.9,73.1 494.1,72.9 495.1,72.9 495.4,72.6 496.6,72.6 497.9,71.9 500.4,67.6 497.4,62.6 495.1,61.4 494.6,60.9 493.9,60.6 493.4,60.1 490.4,58.6 488.4,56.6 488.4,56.4 485.6,53.1 485.4,51.9 485.6,51.6 485.6,50.1 485.9,49.9 485.9,48.4 486.1,48.1 486.4,45.1 485.1,42.9 484.6,42.4 484.4,41.6 483.4,40.4 483.1,39.6 482.1,38.6 474.1,36.6 472.6,35.6 471.4,35.1 468.9,33.4 467.6,32.9 466.4,32.9 466.1,32.6 463.1,32.6 462.9,32.4 460.1,32.1 459.9,32.4 455.6,32.9 455.4,33.1 454.9,33.1ZM470.9,52.4 471.9,51.4 472.4,51.4 472.6,51.1 476.1,51.1 476.4,51.4 477.6,51.6 478.1,52.4 477.4,53.1 476.9,53.4 475.9,53.4 475.6,53.6 473.4,53.6 473.1,53.4 472.1,53.4Z" fill="#3a55aa" fill-rule="evenodd"/><path d="M454.4,34.4 452.9,37.1 452.9,37.9 452.6,38.1 452.6,40.6 452.4,40.9 452.4,52.1 452.6,52.4 452.6,53.4 452.9,53.6 453.1,54.9 454.9,57.6 454.9,59.1 454.1,59.6 453.1,59.9 452.4,60.9 452.4,61.9 452.1,62.1 452.1,63.4 452.4,63.6 452.6,66.1 452.9,66.4 452.9,67.1 453.1,67.4 453.6,69.9 454.4,71.1 454.9,71.1 455.6,71.6 457.4,71.9 457.6,72.1 458.6,72.1 458.9,72.4 461.4,72.4 461.6,72.6 470.1,72.6 470.4,72.9 478.9,72.9 479.1,73.1 488.9,73.1 489.1,72.9 491.9,72.9 492.1,72.6 494.1,72.4 495.1,71.9 496.4,70.6 497.1,69.4 497.4,67.6 497.6,67.4 497.4,64.9 496.6,63.4 495.4,62.1 493.9,61.4 493.4,60.9 492.9,60.9 492.1,60.4 490.9,60.4 490.6,60.1 478.9,59.9 478.6,59.6 466.4,59.6 466.1,59.4 465.1,59.4 464.9,59.1 466.9,57.1 469.9,53.1 469.6,52.9 469.6,52.4 470.4,51.4 472.4,50.6 476.1,50.6 476.4,50.9 477.6,50.9 477.9,51.1 479.4,51.1 479.9,50.9 481.4,49.1 482.1,47.1 482.1,44.9 481.9,44.6 481.6,43.4 480.9,42.1 479.9,41.1 478.6,40.4 478.1,40.4 477.1,39.9 474.1,39.9 473.9,40.1 472.1,39.9 470.6,38.6 468.4,34.6 467.4,33.6 466.9,33.6 465.9,33.1 462.4,32.9 462.1,32.6 459.4,32.6 459.1,32.9 457.9,32.9 457.6,33.1 455.6,33.4Z" fill="#3c5db0" fill-rule="evenodd"/><path d="M454.9,34.6 454.6,35.4 453.9,36.4 453.9,36.9 453.4,37.6 453.4,38.4 453.1,38.6 452.9,42.6 452.6,42.9 452.6,45.9 452.9,46.1 452.9,49.4 453.1,49.6 453.4,51.4 454.9,54.6 455.9,55.9 455.9,57.9 455.6,58.1 455.6,59.9 454.9,60.4 454.1,60.4 453.1,60.9 452.6,61.4 452.6,61.9 452.4,62.1 452.4,63.9 452.6,64.1 452.6,65.4 452.9,65.6 452.9,66.6 453.1,66.9 453.4,68.6 454.1,70.4 454.6,70.9 455.9,71.1 456.1,71.4 458.6,71.4 458.9,71.6 467.4,71.6 467.6,71.9 476.1,71.9 476.4,72.1 492.1,72.4 492.4,72.1 493.6,71.9 495.6,70.1 496.1,69.4 496.1,68.9 496.6,67.9 496.6,65.9 496.4,65.6 496.4,64.9 495.4,63.1 494.6,62.4 492.9,61.4 492.1,61.4 491.9,61.1 485.6,61.1 485.4,60.9 478.9,60.9 478.6,60.6 469.1,60.6 468.9,60.4 464.1,60.4 463.9,60.1 464.1,59.9 464.4,56.9 466.1,55.1 467.4,53.4 469.9,48.6 469.9,48.1 470.4,47.1 470.6,45.1 470.4,44.9 470.4,43.6 470.1,43.4 469.6,41.4 466.6,34.9 466.1,34.1 465.1,33.4 462.4,33.1 462.1,32.9 459.4,32.9 459.1,33.1 457.9,33.1 457.6,33.4 456.1,33.6Z" fill="#3e6dbe" fill-rule="evenodd"/><path d="M455.6,34.9 455.4,35.6 454.6,36.6 454.6,37.1 454.1,37.9 454.1,38.4 453.6,39.4 453.4,42.4 453.1,42.6 453.1,45.6 453.4,45.9 453.4,47.9 453.6,48.1 453.9,50.1 455.4,53.6 456.6,55.1 456.4,58.1 456.1,58.4 456.1,60.1 455.1,60.9 454.4,60.9 453.4,61.4 452.6,62.1 452.6,64.6 452.9,64.9 452.9,66.1 453.1,66.4 453.6,68.9 454.6,70.6 455.1,70.6 455.4,70.9 459.4,70.9 459.6,71.1 468.1,71.1 468.4,71.4 476.9,71.4 477.1,71.6 492.1,71.9 493.9,71.1 495.4,69.6 496.1,67.6 496.1,65.9 495.9,65.6 495.9,65.1 495.1,63.6 494.1,62.6 492.6,61.9 491.9,61.9 491.6,61.6 484.9,61.6 484.6,61.4 477.6,61.4 477.4,61.1 467.4,61.1 467.1,60.9 463.6,60.9 463.4,60.6 463.4,60.1 463.6,59.9 463.6,58.1 463.9,57.9 463.9,56.4 464.1,56.1 464.1,55.6 465.6,54.1 466.6,52.6 466.9,51.9 467.6,50.9 467.6,50.4 468.6,48.4 468.6,47.6 468.9,47.4 468.9,45.6 469.1,45.4 468.9,44.9 468.6,41.9 468.4,41.6 467.6,38.9 466.1,35.9 464.6,33.9 463.4,33.4 462.4,33.4 462.1,33.1 459.1,33.1 458.9,33.4 457.1,33.6Z" fill="#3d8ad2" fill-rule="evenodd"/><path d="M456.1,35.6 454.9,37.6 454.9,38.1 454.4,38.9 454.1,40.6 453.9,40.9 453.9,46.1 454.1,46.4 454.1,47.9 454.4,48.1 454.9,50.6 456.1,53.1 457.1,54.4 457.1,56.1 456.9,56.4 456.6,60.1 456.1,61.1 453.9,61.6 452.9,62.4 452.9,62.9 452.6,63.1 453.4,67.6 453.6,67.9 453.9,69.1 454.6,70.1 455.1,70.4 459.9,70.4 460.1,70.6 468.6,70.6 468.9,70.9 477.4,70.9 477.6,71.1 491.9,71.4 493.6,70.6 494.9,69.4 495.6,67.6 495.4,65.1 494.9,64.1 493.9,63.1 492.4,62.4 491.6,62.4 491.4,62.1 484.4,62.1 484.1,61.9 476.6,61.9 476.4,61.6 466.6,61.6 466.4,61.4 463.1,61.4 462.9,61.1 462.9,59.9 463.1,59.6 463.6,54.6 465.9,52.1 467.1,49.6 467.1,49.1 467.6,48.1 467.6,47.4 467.9,47.1 467.9,42.9 467.6,42.6 467.4,40.6 466.6,39.1 466.6,38.6 465.1,35.9 463.4,34.1 462.4,33.6 461.9,33.6 461.6,33.4 459.6,33.4 459.4,33.6 458.6,33.6 457.6,34.1Z" fill="#3aa9e2" fill-rule="evenodd"/><path d="M456.1,36.4 454.9,38.6 454.9,39.1 454.4,40.1 454.4,41.4 454.1,41.6 454.1,44.4 454.4,44.6 454.4,46.1 454.6,46.4 454.6,47.4 454.9,47.6 454.9,48.6 455.1,48.9 455.4,50.1 456.4,52.1 457.6,53.6 457.6,55.6 457.4,55.9 457.4,57.6 457.1,57.9 456.9,61.4 456.6,61.6 455.1,61.6 454.9,61.9 454.4,61.9 453.1,62.6 452.9,63.1 453.1,66.4 453.6,67.4 453.6,68.1 454.4,69.6 454.9,69.9 456.4,69.9 456.6,70.1 465.1,70.1 465.4,70.4 473.9,70.4 474.1,70.6 482.6,70.6 482.9,70.9 492.4,70.9 493.4,70.4 494.6,69.1 495.1,67.9 495.1,65.6 494.4,64.1 493.9,63.6 491.9,62.6 487.4,62.6 487.1,62.4 479.6,62.4 479.4,62.1 470.9,62.1 470.6,61.9 462.6,61.9 462.4,61.6 462.4,60.4 462.6,60.1 462.6,58.6 462.9,58.4 462.9,56.6 463.1,56.4 463.4,53.9 465.4,51.6 466.4,49.6 466.4,49.1 466.9,48.4 466.9,47.6 467.1,47.4 467.4,43.9 467.1,43.6 467.1,41.9 466.9,41.6 466.9,40.9 466.6,40.6 466.1,38.6 465.1,36.9 463.6,35.1 461.9,34.1 461.4,34.1 461.1,33.9 459.9,33.9 459.6,34.1 458.4,34.4Z" fill="#3cbde9" fill-rule="evenodd"/><path d="M456.4,36.9 455.1,39.1 454.9,40.6 454.6,40.9 454.6,44.6 454.9,44.9 454.9,45.9 455.1,46.1 456.1,49.6 457.9,52.4 458.6,52.9 458.6,53.6 458.4,53.9 458.4,55.6 458.1,55.9 458.1,57.9 457.9,58.1 457.9,59.9 457.6,60.1 457.6,62.1 457.4,62.4 457.1,62.1 454.6,62.4 453.1,63.6 453.4,66.6 453.6,66.9 453.9,68.1 454.6,69.1 455.1,69.4 459.9,69.4 460.1,69.6 468.6,69.6 468.9,69.9 477.4,69.9 477.6,70.1 486.1,70.1 486.4,70.4 491.9,70.4 492.1,70.1 492.6,70.1 493.9,69.1 494.6,67.4 494.6,66.1 494.4,65.9 494.4,65.4 492.9,63.6 491.6,63.4 491.4,63.1 484.1,63.1 483.9,62.9 476.4,62.9 476.1,62.6 466.6,62.6 466.4,62.4 461.6,62.4 461.4,62.1 461.6,61.9 461.6,60.4 461.9,60.1 461.9,58.4 462.1,58.1 462.6,53.1 464.6,50.9 464.9,50.1 465.4,49.6 465.4,49.1 466.1,47.6 466.4,44.9 466.6,44.6 466.4,41.4 466.1,41.1 466.1,40.4 465.1,37.9 464.6,37.1 462.4,35.1 461.9,35.1 461.6,34.9 459.1,34.9 457.6,35.6Z" fill="#58c29c" fill-rule="evenodd"/><path d="M453.4,64.4 453.4,65.6 453.6,65.9 453.9,67.6 454.6,68.6 455.1,68.6 455.4,68.9 461.9,68.9 462.1,69.1 470.6,69.1 470.9,69.4 479.4,69.4 479.6,69.6 488.1,69.6 488.4,69.9 491.6,69.9 491.9,69.6 492.4,69.6 493.4,68.9 494.1,67.1 493.9,65.6 492.6,64.1 492.1,63.9 490.6,63.9 490.4,63.6 482.4,63.6 482.1,63.4 474.4,63.4 474.1,63.1 464.4,63.1 464.1,62.9 454.9,62.9 454.4,63.1ZM460.6,35.1 458.9,35.4 457.9,35.9 455.9,38.1 454.9,40.9 454.9,44.4 455.1,44.6 455.1,45.4 455.4,45.6 455.6,46.9 457.9,50.9 459.9,52.4 459.9,56.1 459.6,56.4 459.6,59.9 459.4,60.1 459.4,62.1 459.6,62.1 459.6,61.6 459.9,61.4 459.9,60.4 460.1,60.1 460.1,59.1 460.4,58.9 460.4,57.9 460.6,57.6 460.6,56.6 461.1,55.4 461.1,54.4 461.4,54.1 461.6,52.4 464.1,50.1 465.4,47.6 465.6,46.1 465.9,45.9 465.9,44.9 466.1,44.6 466.1,41.9 465.9,41.6 465.9,40.6 464.9,38.1 463.1,36.1 462.4,35.6 460.9,35.4Z" fill="#6ebf47" fill-rule="evenodd"/><path d="M459.4,36.4 457.9,37.1 456.4,38.9 455.9,40.1 455.9,40.9 455.6,41.1 455.6,43.6 455.9,43.9 455.9,44.6 456.4,45.9 458.1,47.9 459.1,48.4 461.6,48.4 462.6,47.9 464.4,45.9 464.9,44.6 464.9,43.9 465.1,43.6 465.1,41.6 464.9,41.4 464.9,40.4 464.1,38.6 462.4,36.9 461.1,36.4Z" fill="#80c443" fill-rule="evenodd"/><path d="M459.1,37.1 457.4,38.4 456.4,40.1 456.4,40.9 456.1,41.1 456.1,43.4 457.1,45.9 458.1,46.9 459.1,47.4 460.1,47.4 460.4,47.6 460.6,47.4 461.6,47.4 463.1,46.4 464.1,44.9 464.6,42.1 464.4,41.9 464.4,40.6 464.1,40.4 464.1,39.9 463.4,38.6 462.4,37.6 461.4,37.1Z" fill="#bcd42e" fill-rule="evenodd"/><path d="M459.4,37.6 458.4,38.1 457.4,39.1 456.9,40.1 456.9,40.6 456.6,40.9 456.6,43.9 457.4,45.4 458.4,46.4 459.4,46.9 461.1,46.9 462.6,46.1 463.4,45.1 464.1,43.1 464.1,41.4 463.4,39.4 461.9,37.9 461.4,37.6Z" fill="#fae515" fill-rule="evenodd"/><path d="M459.6,38.4 458.6,38.9 457.6,40.1 457.4,41.4 457.1,41.6 457.1,42.9 457.4,43.1 457.4,43.9 458.1,45.1 459.1,45.9 460.4,46.1 460.6,45.9 461.9,45.6 463.1,44.1 463.1,43.6 463.4,43.4 463.4,41.1 462.6,39.6 461.9,38.9 460.9,38.4Z" fill="#f6a11c" fill-rule="evenodd"/><path d="M459.9,39.4 458.6,40.1 458.1,41.1 457.9,42.4 458.1,42.6 458.1,43.6 458.6,44.4 459.9,45.1 460.6,45.1 460.9,44.9 461.4,44.9 462.1,44.1 462.6,43.1 462.6,41.4 462.1,40.4 461.4,39.6 460.9,39.4Z" fill="#e5262a" fill-rule="evenodd"/></g>
<path d="M449.7,62.7h1.2v1.2h-1.2zM450.8,69.9h1.2v1.2h-1.2zM450.4,69.2h1.2v1.2h-1.2zM446.2,52.8h1.2v1.2h-1.2zM451.7,59.4h1.2v1.2h-1.2zM451.4,40.1h1.2v1.2h-1.2zM448.8,44.9h1.2v1.2h-1.2zM449.3,56.7h1.2v1.2h-1.2zM446.1,43.8h1.2v1.2h-1.2zM447.7,69.0h1.2v1.2h-1.2zM450.6,41.7h1.2v1.2h-1.2zM450.8,41.0h1.2v1.2h-1.2zM498.3,40.8h1.2v1.2h-1.2zM486.0,69.1h1.2v1.2h-1.2zM490.2,44.2h1.2v1.2h-1.2zM505.6,69.2h1.2v1.2h-1.2zM491.8,72.5h1.2v1.2h-1.2zM496.8,61.8h1.2v1.2h-1.2zM490.1,71.8h1.2v1.2h-1.2zM499.8,72.7h1.2v1.2h-1.2zM503.9,47.4h1.2v1.2h-1.2zM493.2,42.3h1.2v1.2h-1.2zM488.9,38.5h1.2v1.2h-1.2zM492.0,58.9h1.2v1.2h-1.2zM486.1,61.8h1.2v1.2h-1.2zM492.8,47.8h1.2v1.2h-1.2zM502.4,54.3h1.2v1.2h-1.2zM492.3,54.3h1.2v1.2h-1.2zM500.1,38.2h1.2v1.2h-1.2zM505.5,36.9h1.2v1.2h-1.2zM501.0,68.1h1.2v1.2h-1.2zM486.4,65.9h1.2v1.2h-1.2zM493.3,58.0h1.2v1.2h-1.2zM486.2,37.8h1.2v1.2h-1.2zM489.6,72.3h1.2v1.2h-1.2zM489.9,64.7h1.2v1.2h-1.2zM504.6,71.8h1.2v1.2h-1.2zM492.9,49.5h1.2v1.2h-1.2zM496.5,65.5h1.2v1.2h-1.2zM488.2,64.4h1.2v1.2h-1.2zM501.9,68.7h1.2v1.2h-1.2zM486.7,71.9h1.2v1.2h-1.2z" fill="#2d4aab"/>
<rect x="443" y="18.5" width="70" height="68.6" fill="none" stroke="#000" stroke-width="1.3"/>
<path d="M441.4,18.5h1.6M441.4,21.4h1.6M441.4,24.2h1.6M441.4,27.1h1.6M441.4,29.9h1.6M441.4,32.8h1.6M441.4,35.6h1.6M441.4,38.5h1.6M441.4,41.4h1.6M441.4,44.2h1.6M441.4,47.1h1.6M441.4,49.9h1.6M441.4,52.8h1.6M441.4,55.7h1.6M441.4,58.5h1.6M441.4,61.4h1.6M441.4,64.2h1.6M441.4,67.1h1.6M441.4,69.9h1.6M441.4,72.8h1.6M441.4,75.7h1.6M441.4,78.5h1.6M441.4,81.4h1.6M441.4,84.2h1.6M441.4,87.1h1.6M440.4,36.1h2.6M440.4,56.5h2.6M440.4,69.2h2.6M440.4,81.1h2.6" stroke="#000" stroke-width="0.5" fill="none"/>
<path d="M443.0,87.1v1.6M446.2,87.1v1.6M449.4,87.1v1.6M452.5,87.1v1.6M455.7,87.1v1.6M458.9,87.1v1.6M462.1,87.1v1.6M465.3,87.1v1.6M468.5,87.1v1.6M471.6,87.1v1.6M474.8,87.1v1.6M478.0,87.1v1.6M481.2,87.1v1.6M484.4,87.1v1.6M487.5,87.1v1.6M490.7,87.1v1.6M493.9,87.1v1.6M497.1,87.1v1.6M500.3,87.1v1.6M503.5,87.1v1.6M506.6,87.1v1.6M509.8,87.1v1.6M513.0,87.1v1.6M457.0,87.1v2.6M484.0,87.1v2.6M504.1,87.1v2.6" stroke="#000" stroke-width="0.5" fill="none"/>
<rect x="450" y="87.4" width="12" height="1.4" fill="#000"/>
<text x="441.3" y="38.44" font-size="6.5" text-anchor="end">10<tspan font-size="5.1" dy="-2.34">4</tspan></text>
<text x="441.3" y="58.84" font-size="6.5" text-anchor="end">10<tspan font-size="5.1" dy="-2.34">3</tspan></text>
<text x="441.3" y="71.54" font-size="6.5" text-anchor="end">0</text>
<text x="441.3" y="83.44" font-size="6.5" text-anchor="end">−10<tspan font-size="5.1" dy="-2.34">3</tspan></text>
<text x="457" y="96.44" font-size="6.5" text-anchor="middle">0</text>
<text x="484" y="96.44" font-size="6.5" text-anchor="middle">10<tspan font-size="5.1" dy="-2.34">3</tspan></text>
<text x="504.1" y="96.44" font-size="6.5" text-anchor="middle">10<tspan font-size="5.1" dy="-2.34">4</tspan></text>
<text x="422.5" y="55.6" font-size="10" text-anchor="middle" textLength="18" lengthAdjust="spacingAndGlyphs" transform="rotate(-90 422.5 52)">CD48</text>
<text x="477.7" y="107.77" font-size="10.2" text-anchor="middle" textLength="22" lengthAdjust="spacingAndGlyphs">CD150</text>
<rect x="472.4" y="62" width="32.8" height="16.3" fill="none" stroke="#9a9a9a" stroke-width="0.8"/>
<text x="479.6" y="85.55" font-size="8.2" textLength="24.4" lengthAdjust="spacingAndGlyphs">LT-HSC</text>
<text x="7.8" y="131.76" font-size="11" textLength="6.3" lengthAdjust="spacingAndGlyphs" font-weight="bold" fill="#000">B</text>
<rect x="48.9" y="225.02" width="6.1" height="6.08" fill="#7f96cf"/>
<rect x="56.25" y="225.02" width="6.1" height="6.08" fill="#a6dea0"/>
<rect x="63.6" y="222.28" width="6.1" height="8.82" fill="#9c84bd"/>
<rect x="70.95" y="228.36" width="6.1" height="2.74" fill="#fdc68e"/>
<rect x="84" y="224.41" width="6.1" height="6.69" fill="#7f96cf"/>
<rect x="91.35" y="221.37" width="6.1" height="9.73" fill="#a6dea0"/>
<rect x="98.7" y="190.97" width="6.1" height="40.13" fill="#9c84bd"/>
<rect x="106.05" y="166.65" width="6.1" height="64.45" fill="#fdc68e"/>
<rect x="119.1" y="225.02" width="6.1" height="6.08" fill="#7f96cf"/>
<rect x="126.45" y="227.76" width="6.1" height="3.34" fill="#a6dea0"/>
<rect x="133.8" y="223.2" width="6.1" height="7.9" fill="#9c84bd"/>
<rect x="141.15" y="225.02" width="6.1" height="6.08" fill="#fdc68e"/>
<rect x="154.2" y="225.02" width="6.1" height="6.08" fill="#7f96cf"/>
<rect x="161.55" y="223.2" width="6.1" height="7.9" fill="#a6dea0"/>
<rect x="168.9" y="217.12" width="6.1" height="13.98" fill="#9c84bd"/>
<rect x="176.25" y="216.51" width="6.1" height="14.59" fill="#fdc68e"/>
<circle cx="50.2" cy="226.2" r="1.4" fill="#1c5aa0"/>
<circle cx="51.7" cy="224.4" r="1.4" fill="#1c5aa0"/>
<circle cx="53.7" cy="225.6" r="1.4" fill="#1c5aa0"/>
<circle cx="50.0" cy="223.8" r="1.4" fill="#1c5aa0"/>
<circle cx="52.0" cy="225.6" r="1.4" fill="#1c5aa0"/>
<line x1="51.95" y1="223.8" x2="51.95" y2="226.24" stroke="#111" stroke-width="0.7" />
<line x1="50.35" y1="223.8" x2="53.55" y2="223.8" stroke="#111" stroke-width="0.7" />
<line x1="50.35" y1="226.24" x2="53.55" y2="226.24" stroke="#111" stroke-width="0.7" />
<circle cx="57.6" cy="225.6" r="1.4" fill="#2fb54a"/>
<circle cx="58.9" cy="224.4" r="1.4" fill="#2fb54a"/>
<circle cx="60.9" cy="226.2" r="1.4" fill="#2fb54a"/>
<circle cx="57.3" cy="223.8" r="1.4" fill="#2fb54a"/>
<line x1="59.3" y1="223.8" x2="59.3" y2="226.24" stroke="#111" stroke-width="0.7" />
<line x1="57.7" y1="223.8" x2="60.9" y2="223.8" stroke="#111" stroke-width="0.7" />
<line x1="57.7" y1="226.24" x2="60.9" y2="226.24" stroke="#111" stroke-width="0.7" />
<circle cx="65.0" cy="224.4" r="1.4" fill="#4f2078"/>
<circle cx="66.3" cy="222.0" r="1.4" fill="#4f2078"/>
<circle cx="67.9" cy="220.2" r="1.4" fill="#4f2078"/>
<circle cx="65.0" cy="223.2" r="1.4" fill="#4f2078"/>
<circle cx="66.9" cy="219.5" r="1.4" fill="#4f2078"/>
<line x1="66.65" y1="220.46" x2="66.65" y2="224.11" stroke="#111" stroke-width="0.7" />
<line x1="65.05" y1="220.46" x2="68.25" y2="220.46" stroke="#111" stroke-width="0.7" />
<line x1="65.05" y1="224.11" x2="68.25" y2="224.11" stroke="#111" stroke-width="0.7" />
<circle cx="72.1" cy="228.7" r="1.4" fill="#f7931e"/>
<circle cx="73.8" cy="228.1" r="1.4" fill="#f7931e"/>
<circle cx="75.7" cy="229.0" r="1.4" fill="#f7931e"/>
<line x1="74" y1="227.76" x2="74" y2="228.97" stroke="#111" stroke-width="0.7" />
<line x1="72.4" y1="227.76" x2="75.6" y2="227.76" stroke="#111" stroke-width="0.7" />
<line x1="72.4" y1="228.97" x2="75.6" y2="228.97" stroke="#111" stroke-width="0.7" />
<circle cx="85.8" cy="226.8" r="1.4" fill="#1c5aa0"/>
<circle cx="87.1" cy="225.0" r="1.4" fill="#1c5aa0"/>
<circle cx="88.6" cy="223.2" r="1.4" fill="#1c5aa0"/>
<circle cx="85.8" cy="222.0" r="1.4" fill="#1c5aa0"/>
<circle cx="86.7" cy="225.6" r="1.4" fill="#1c5aa0"/>
<line x1="87.05" y1="222.59" x2="87.05" y2="226.24" stroke="#111" stroke-width="0.7" />
<line x1="85.45" y1="222.59" x2="88.65" y2="222.59" stroke="#111" stroke-width="0.7" />
<line x1="85.45" y1="226.24" x2="88.65" y2="226.24" stroke="#111" stroke-width="0.7" />
<circle cx="93.1" cy="225.0" r="1.4" fill="#2fb54a"/>
<circle cx="94.2" cy="223.2" r="1.4" fill="#2fb54a"/>
<circle cx="95.7" cy="218.3" r="1.4" fill="#2fb54a"/>
<circle cx="92.5" cy="212.3" r="1.4" fill="#2fb54a"/>
<circle cx="94.2" cy="223.8" r="1.4" fill="#2fb54a"/>
<line x1="94.4" y1="217.72" x2="94.4" y2="225.02" stroke="#111" stroke-width="0.7" />
<line x1="92.8" y1="217.72" x2="96" y2="217.72" stroke="#111" stroke-width="0.7" />
<line x1="92.8" y1="225.02" x2="96" y2="225.02" stroke="#111" stroke-width="0.7" />
<circle cx="100.4" cy="175.2" r="1.4" fill="#4f2078"/>
<circle cx="101.5" cy="188.5" r="1.4" fill="#4f2078"/>
<circle cx="103.4" cy="191.6" r="1.4" fill="#4f2078"/>
<circle cx="100.3" cy="199.5" r="1.4" fill="#4f2078"/>
<circle cx="101.6" cy="194.6" r="1.4" fill="#4f2078"/>
<circle cx="103.4" cy="197.7" r="1.4" fill="#4f2078"/>
<circle cx="99.8" cy="203.1" r="1.4" fill="#4f2078"/>
<line x1="101.75" y1="186.11" x2="101.75" y2="195.84" stroke="#111" stroke-width="0.7" />
<line x1="100.15" y1="186.11" x2="103.35" y2="186.11" stroke="#111" stroke-width="0.7" />
<line x1="100.15" y1="195.84" x2="103.35" y2="195.84" stroke="#111" stroke-width="0.7" />
<circle cx="107.1" cy="152.1" r="1.4" fill="#f7931e"/>
<circle cx="108.9" cy="161.2" r="1.4" fill="#f7931e"/>
<circle cx="110.8" cy="165.4" r="1.4" fill="#f7931e"/>
<circle cx="107.4" cy="176.4" r="1.4" fill="#f7931e"/>
<circle cx="109.0" cy="181.2" r="1.4" fill="#f7931e"/>
<circle cx="110.8" cy="177.6" r="1.4" fill="#f7931e"/>
<line x1="109.1" y1="161.79" x2="109.1" y2="171.52" stroke="#111" stroke-width="0.7" />
<line x1="107.5" y1="161.79" x2="110.7" y2="161.79" stroke="#111" stroke-width="0.7" />
<line x1="107.5" y1="171.52" x2="110.7" y2="171.52" stroke="#111" stroke-width="0.7" />
<circle cx="120.5" cy="225.6" r="1.4" fill="#1c5aa0"/>
<circle cx="122.0" cy="225.0" r="1.4" fill="#1c5aa0"/>
<circle cx="124.0" cy="224.4" r="1.4" fill="#1c5aa0"/>
<line x1="122.15" y1="224.41" x2="122.15" y2="225.63" stroke="#111" stroke-width="0.7" />
<line x1="120.55" y1="224.41" x2="123.75" y2="224.41" stroke="#111" stroke-width="0.7" />
<line x1="120.55" y1="225.63" x2="123.75" y2="225.63" stroke="#111" stroke-width="0.7" />
<circle cx="128.1" cy="229.3" r="1.4" fill="#2fb54a"/>
<circle cx="129.3" cy="227.5" r="1.4" fill="#2fb54a"/>
<circle cx="131.2" cy="226.2" r="1.4" fill="#2fb54a"/>
<circle cx="127.9" cy="228.7" r="1.4" fill="#2fb54a"/>
<line x1="129.5" y1="226.54" x2="129.5" y2="228.97" stroke="#111" stroke-width="0.7" />
<line x1="127.9" y1="226.54" x2="131.1" y2="226.54" stroke="#111" stroke-width="0.7" />
<line x1="127.9" y1="228.97" x2="131.1" y2="228.97" stroke="#111" stroke-width="0.7" />
<circle cx="135.6" cy="223.8" r="1.4" fill="#4f2078"/>
<circle cx="137.0" cy="222.6" r="1.4" fill="#4f2078"/>
<circle cx="138.3" cy="222.0" r="1.4" fill="#4f2078"/>
<circle cx="135.6" cy="225.0" r="1.4" fill="#4f2078"/>
<line x1="136.85" y1="222.28" x2="136.85" y2="224.11" stroke="#111" stroke-width="0.7" />
<line x1="135.25" y1="222.28" x2="138.45" y2="222.28" stroke="#111" stroke-width="0.7" />
<line x1="135.25" y1="224.11" x2="138.45" y2="224.11" stroke="#111" stroke-width="0.7" />
<circle cx="142.3" cy="225.0" r="1.4" fill="#f7931e"/>
<circle cx="144.1" cy="226.2" r="1.4" fill="#f7931e"/>
<circle cx="146.0" cy="224.4" r="1.4" fill="#f7931e"/>
<line x1="144.2" y1="224.41" x2="144.2" y2="225.63" stroke="#111" stroke-width="0.7" />
<line x1="142.6" y1="224.41" x2="145.8" y2="224.41" stroke="#111" stroke-width="0.7" />
<line x1="142.6" y1="225.63" x2="145.8" y2="225.63" stroke="#111" stroke-width="0.7" />
<circle cx="155.4" cy="226.8" r="1.4" fill="#1c5aa0"/>
<circle cx="157.2" cy="225.0" r="1.4" fill="#1c5aa0"/>
<circle cx="158.5" cy="223.2" r="1.4" fill="#1c5aa0"/>
<line x1="157.25" y1="223.8" x2="157.25" y2="226.24" stroke="#111" stroke-width="0.7" />
<line x1="155.65" y1="223.8" x2="158.85" y2="223.8" stroke="#111" stroke-width="0.7" />
<line x1="155.65" y1="226.24" x2="158.85" y2="226.24" stroke="#111" stroke-width="0.7" />
<circle cx="163.1" cy="226.2" r="1.4" fill="#2fb54a"/>
<circle cx="164.8" cy="223.8" r="1.4" fill="#2fb54a"/>
<circle cx="166.3" cy="221.4" r="1.4" fill="#2fb54a"/>
<circle cx="163.3" cy="218.9" r="1.4" fill="#2fb54a"/>
<circle cx="164.5" cy="225.0" r="1.4" fill="#2fb54a"/>
<line x1="164.6" y1="220.76" x2="164.6" y2="225.63" stroke="#111" stroke-width="0.7" />
<line x1="163" y1="220.76" x2="166.2" y2="220.76" stroke="#111" stroke-width="0.7" />
<line x1="163" y1="225.63" x2="166.2" y2="225.63" stroke="#111" stroke-width="0.7" />
<circle cx="170.5" cy="220.2" r="1.4" fill="#4f2078"/>
<circle cx="172.0" cy="215.9" r="1.4" fill="#4f2078"/>
<circle cx="173.6" cy="214.1" r="1.4" fill="#4f2078"/>
<circle cx="170.3" cy="218.9" r="1.4" fill="#4f2078"/>
<line x1="171.95" y1="214.68" x2="171.95" y2="219.55" stroke="#111" stroke-width="0.7" />
<line x1="170.35" y1="214.68" x2="173.55" y2="214.68" stroke="#111" stroke-width="0.7" />
<line x1="170.35" y1="219.55" x2="173.55" y2="219.55" stroke="#111" stroke-width="0.7" />
<circle cx="178.0" cy="221.4" r="1.4" fill="#f7931e"/>
<circle cx="179.7" cy="217.7" r="1.4" fill="#f7931e"/>
<circle cx="180.9" cy="212.3" r="1.4" fill="#f7931e"/>
<circle cx="177.8" cy="210.4" r="1.4" fill="#f7931e"/>
<circle cx="178.9" cy="218.9" r="1.4" fill="#f7931e"/>
<line x1="179.3" y1="212.86" x2="179.3" y2="220.16" stroke="#111" stroke-width="0.7" />
<line x1="177.7" y1="212.86" x2="180.9" y2="212.86" stroke="#111" stroke-width="0.7" />
<line x1="177.7" y1="220.16" x2="180.9" y2="220.16" stroke="#111" stroke-width="0.7" />
<line x1="45.6" y1="139" x2="45.6" y2="231.6" stroke="#222" stroke-width="1.1" />
<line x1="45.6" y1="231.1" x2="184.6" y2="231.1" stroke="#222" stroke-width="1.2" />
<line x1="42.2" y1="231.1" x2="45.6" y2="231.1" stroke="#222" stroke-width="0.8" />
<text x="39.2" y="233.55" font-size="6.8" text-anchor="end">0</text>
<line x1="42.2" y1="200.7" x2="45.6" y2="200.7" stroke="#222" stroke-width="0.8" />
<text x="39.2" y="203.15" font-size="6.8" text-anchor="end">5</text>
<line x1="42.2" y1="170.3" x2="45.6" y2="170.3" stroke="#222" stroke-width="0.8" />
<text x="39.2" y="172.75" font-size="6.8" text-anchor="end">10</text>
<line x1="42.2" y1="139.9" x2="45.6" y2="139.9" stroke="#222" stroke-width="0.8" />
<text x="39.2" y="142.35" font-size="6.8" text-anchor="end">15</text>
<line x1="63.1" y1="231.1" x2="63.1" y2="233.8" stroke="#222" stroke-width="0.8" />
<line x1="97.7" y1="231.1" x2="97.7" y2="233.8" stroke="#222" stroke-width="0.8" />
<line x1="132.9" y1="231.1" x2="132.9" y2="233.8" stroke="#222" stroke-width="0.8" />
<line x1="168.4" y1="231.1" x2="168.4" y2="233.8" stroke="#222" stroke-width="0.8" />
<text x="63.1" y="244.63" font-size="8.7" text-anchor="middle" textLength="17.3" lengthAdjust="spacingAndGlyphs" font-style="italic">Sdc1</text>
<text x="97.7" y="244.63" font-size="8.7" text-anchor="middle" textLength="17.3" lengthAdjust="spacingAndGlyphs" font-style="italic">Sdc2</text>
<text x="132.9" y="244.63" font-size="8.7" text-anchor="middle" textLength="17.3" lengthAdjust="spacingAndGlyphs" font-style="italic">Sdc3</text>
<text x="168.4" y="244.63" font-size="8.7" text-anchor="middle" textLength="17.3" lengthAdjust="spacingAndGlyphs" font-style="italic">Sdc4</text>
<text x="11.2" y="188.21" font-size="7.8" text-anchor="middle" textLength="35.6" lengthAdjust="spacingAndGlyphs" transform="rotate(-90 11.2 185.4)">Expression</text>
<text x="22.8" y="187.71" font-size="7.8" text-anchor="middle" textLength="69" lengthAdjust="spacingAndGlyphs" transform="rotate(-90 22.8 184.9)">(normalized to MPP)</text>
<polyline points="86.8,200 86.8,132.4 108.7,132.4 108.7,134.8" fill="none" stroke="#000" stroke-width="0.9"/>
<polyline points="94.4,200 94.4,139.7 108.7,139.7 108.7,142.2" fill="none" stroke="#000" stroke-width="0.9"/>
<polyline points="101.6,166 101.6,147.4 108.5,147.4 108.5,150" fill="none" stroke="#000" stroke-width="0.9"/>
<circle cx="93.0" cy="129.6" r="0.95" fill="#231f20"/>
<circle cx="96.3" cy="129.6" r="0.95" fill="#231f20"/>
<circle cx="99.6" cy="129.6" r="0.95" fill="#231f20"/>
<circle cx="102.9" cy="129.6" r="0.95" fill="#231f20"/>
<circle cx="96.3" cy="137.1" r="0.95" fill="#231f20"/>
<circle cx="99.6" cy="137.1" r="0.95" fill="#231f20"/>
<circle cx="102.9" cy="137.1" r="0.95" fill="#231f20"/>
<circle cx="106.2" cy="137.1" r="0.95" fill="#231f20"/>
<circle cx="99.8" cy="144.8" r="0.95" fill="#231f20"/>
<circle cx="103.0" cy="144.8" r="0.95" fill="#231f20"/>
<circle cx="106.3" cy="144.8" r="0.95" fill="#231f20"/>
<circle cx="109.7" cy="144.8" r="0.95" fill="#231f20"/>
<polyline points="157.1,217 157.1,203.2 179,203.2 179,206.9" fill="none" stroke="#000" stroke-width="0.8"/>
<text x="168.2" y="202.23" font-size="6.2" text-anchor="middle">n.s.</text>
<rect x="131.3" y="143.4" width="37.3" height="37.4" fill="none" stroke="#333" stroke-width="0.8"/>
<circle cx="135.6" cy="149.5" r="1.5" fill="#1c5aa0"/>
<text x="139.5" y="152.09" font-size="7.2">MPP</text>
<circle cx="135.6" cy="157.6" r="1.5" fill="#2fb54a"/>
<text x="139.5" y="160.19" font-size="7.2">34<tspan font-size="4.5" dy="-2.3">−</tspan><tspan dy="2.3">KSL</tspan></text>
<circle cx="135.6" cy="166.2" r="1.5" fill="#4f2078"/>
<text x="139.5" y="168.79" font-size="7.2">ST-HSC</text>
<circle cx="135.6" cy="174.5" r="1.5" fill="#f7931e"/>
<text x="139.5" y="177.09" font-size="7.2">LT-HSC</text>
<text x="199.4" y="131.96" font-size="11" textLength="6.1" lengthAdjust="spacingAndGlyphs" font-weight="bold" fill="#000">C</text>
<line x1="203.2" y1="154.4" x2="288.6" y2="154.4" stroke="#9a9a9a" stroke-width="0.6" />
<line x1="203.2" y1="171.6" x2="288.6" y2="171.6" stroke="#9a9a9a" stroke-width="0.6" />
<line x1="203.2" y1="188.8" x2="288.6" y2="188.8" stroke="#9a9a9a" stroke-width="0.6" />
<line x1="203.2" y1="206" x2="288.6" y2="206" stroke="#9a9a9a" stroke-width="0.6" />
<path d="M218.0,153.5 L218.0,153.5 L219.0,153.5 L220.0,153.5 L221.0,153.5 L222.0,153.5 L223.0,153.5 L224.0,153.4 L225.0,153.3 L226.0,152.9 L227.0,152.2 L228.0,151.0 L229.0,149.1 L230.0,146.5 L231.0,143.7 L232.0,141.1 L233.0,139.5 L234.0,139.3 L235.0,140.0 L236.0,141.4 L237.0,143.2 L238.0,145.2 L239.0,147.2 L240.0,149.0 L241.0,150.5 L242.0,151.6 L243.0,152.3 L244.0,152.8 L245.0,153.1 L246.0,153.3 L247.0,153.4 L248.0,153.5 L249.0,153.5 L250.0,153.5 L251.0,153.5 L252.0,153.5 L253.0,153.5 L254.0,153.5 L255.0,153.5 L256.0,153.5 L257.0,153.5 L258.0,153.5 L258.0,153.5Z" fill="#e4979c"/>
<polyline points="203.8,153.5 218,153.5 219,153.5 220,153.5 221,153.5 222,153.49 223,153.47 224,153.41 225,153.27 226,152.92 227,152.23 228,151 229,149.09 230,146.54 231,143.68 232,141.1 233,139.48 234,139.26 235,139.97 236,141.35 237,143.2 238,145.24 239,147.24 240,149.02 241,150.47 242,151.56 243,152.33 244,152.83 245,153.14 246,153.32 247,153.41 248,153.46 249,153.48 250,153.49 251,153.5 252,153.5 253,153.5 254,153.5 255,153.5 256,153.5 257,153.5 258,153.5 288,153.5" fill="none" stroke="#d22e48" stroke-width="1.1"/>
<path d="M220.0,170.7 L220.0,170.7 L220.9,170.7 L221.8,170.7 L222.7,170.7 L223.6,170.7 L224.5,170.7 L225.4,170.7 L226.3,170.7 L227.2,170.7 L228.1,170.6 L229.0,170.3 L229.9,169.8 L230.8,168.9 L231.7,167.3 L232.6,165.1 L233.5,162.3 L234.4,159.5 L235.3,157.3 L236.2,156.3 L237.1,156.7 L238.0,158.0 L238.9,160.0 L239.8,162.2 L240.7,164.5 L241.6,166.4 L242.5,168.0 L243.4,169.1 L244.3,169.8 L245.2,170.2 L246.1,170.5 L247.0,170.6 L247.9,170.7 L248.8,170.7 L249.7,170.7 L250.6,170.7 L251.5,170.7 L252.4,170.7 L253.3,170.7 L254.2,170.7 L255.1,170.7 L256.0,170.7 L256.0,170.7Z" fill="#6d86b8"/>
<polyline points="203.8,170.7 220,170.7 220.9,170.7 221.8,170.7 222.7,170.7 223.6,170.7 224.5,170.7 225.4,170.7 226.3,170.68 227.2,170.65 228.1,170.56 229,170.33 229.9,169.83 230.8,168.89 231.7,167.33 232.6,165.07 233.5,162.29 234.4,159.46 235.3,157.25 236.2,156.31 237.1,156.69 238,157.99 238.9,159.95 239.8,162.22 240.7,164.47 241.6,166.43 242.5,167.97 243.4,169.07 244.3,169.8 245.2,170.23 246.1,170.47 247,170.6 247.9,170.66 248.8,170.68 249.7,170.69 250.6,170.7 251.5,170.7 252.4,170.7 253.3,170.7 254.2,170.7 255.1,170.7 256,170.7 288,170.7" fill="none" stroke="#1b5590" stroke-width="1.1"/>
<path d="M222.0,187.9 L222.0,187.9 L222.9,187.9 L223.8,187.9 L224.8,187.9 L225.7,187.9 L226.6,187.8 L227.5,187.7 L228.4,187.6 L229.4,187.2 L230.3,186.6 L231.2,185.5 L232.1,184.0 L233.0,181.9 L234.0,179.4 L234.9,176.9 L235.8,174.5 L236.7,172.9 L237.6,172.1 L238.6,172.1 L239.5,172.7 L240.4,173.7 L241.3,174.8 L242.2,175.7 L243.2,176.4 L244.1,176.8 L245.0,177.0 L245.9,177.1 L246.8,177.1 L247.8,177.3 L248.7,177.6 L249.6,178.1 L250.5,178.8 L251.4,179.6 L252.4,180.5 L253.3,181.5 L254.2,182.5 L255.1,183.5 L256.0,184.4 L257.0,185.1 L257.9,185.8 L258.8,186.3 L259.7,186.8 L260.6,187.1 L261.6,187.3 L262.5,187.5 L263.4,187.7 L264.3,187.7 L265.2,187.8 L266.2,187.8 L267.1,187.9 L268.0,187.9 L268.0,187.9Z" fill="#a3d993"/>
<polyline points="203.8,187.9 222,187.9 222.92,187.9 223.84,187.9 224.76,187.89 225.68,187.87 226.6,187.83 227.52,187.75 228.44,187.56 229.36,187.2 230.28,186.56 231.2,185.52 232.12,183.97 233.04,181.91 233.96,179.44 234.88,176.85 235.8,174.53 236.72,172.86 237.64,172.1 238.56,172.11 239.48,172.73 240.4,173.71 241.32,174.79 242.24,175.75 243.16,176.44 244.08,176.84 245,177.01 245.92,177.07 246.84,177.12 247.76,177.26 248.68,177.57 249.6,178.07 250.52,178.76 251.44,179.6 252.36,180.54 253.28,181.54 254.2,182.54 255.12,183.49 256.04,184.36 256.96,185.14 257.88,185.79 258.8,186.33 259.72,186.76 260.64,187.1 261.56,187.35 262.48,187.53 263.4,187.66 264.32,187.74 265.24,187.8 266.16,187.84 267.08,187.86 268,187.88 288,187.9" fill="none" stroke="#3cb94a" stroke-width="1.1"/>
<path d="M222.0,205.1 L222.0,205.1 L223.0,205.1 L224.0,205.1 L225.0,205.1 L226.0,205.1 L227.0,205.0 L228.0,204.8 L229.0,204.3 L230.0,203.3 L231.0,201.7 L232.0,199.3 L233.0,196.4 L234.0,193.5 L235.0,191.6 L236.0,191.2 L237.0,191.6 L238.0,192.5 L239.0,193.7 L240.0,195.2 L241.0,196.8 L242.0,198.4 L243.0,199.9 L244.0,201.2 L245.0,202.3 L246.0,203.1 L247.0,203.8 L248.0,204.3 L249.0,204.6 L250.0,204.8 L251.0,204.9 L252.0,205.0 L253.0,205.0 L254.0,205.1 L255.0,205.1 L256.0,205.1 L257.0,205.1 L258.0,205.1 L259.0,205.1 L260.0,205.1 L261.0,205.1 L262.0,205.1 L262.0,205.1Z" fill="#937ab5"/>
<polyline points="203.8,205.1 222,205.1 223,205.1 224,205.1 225,205.09 226,205.07 227,204.99 228,204.78 229,204.31 230,203.35 231,201.7 232,199.29 233,196.37 234,193.54 235,191.63 236,191.22 237,191.63 238,192.5 239,193.74 240,195.23 241,196.83 242,198.43 243,199.91 244,201.21 245,202.29 246,203.15 247,203.79 248,204.25 249,204.57 250,204.78 251,204.92 252,205 253,205.05 254,205.07 255,205.09 256,205.09 257,205.1 258,205.1 259,205.1 260,205.1 261,205.1 262,205.1 288,205.1" fill="none" stroke="#6a2f8c" stroke-width="1.1"/>
<path d="M230.5,222.1 L230.5,222.4 L231.3,222.4 L232.2,222.4 L233.0,222.4 L233.8,222.3 L234.7,222.3 L235.5,222.1 L236.4,221.9 L237.2,221.6 L238.0,221.1 L238.9,220.3 L239.7,219.3 L240.6,218.0 L241.4,216.5 L242.2,214.8 L243.1,213.0 L243.9,211.4 L244.7,210.1 L245.6,209.4 L246.4,209.2 L247.2,209.5 L248.1,210.0 L248.9,210.9 L249.8,212.0 L250.6,213.2 L251.4,214.5 L252.3,215.7 L253.1,216.9 L253.9,218.1 L254.8,219.0 L255.6,219.8 L256.5,220.5 L257.3,221.0 L258.1,221.5 L259.0,221.8 L259.8,222.0 L260.6,222.1 L261.5,222.2 L262.3,222.3 L263.2,222.3 L264.0,222.4 L264.0,222.1Z" fill="#fbbd72"/>
<polyline points="230.5,222.4 231.34,222.39 232.18,222.39 233.01,222.37 233.85,222.33 234.69,222.27 235.53,222.14 236.36,221.94 237.2,221.6 238.04,221.09 238.88,220.34 239.71,219.33 240.55,218.03 241.39,216.48 242.22,214.76 243.06,213.01 243.9,211.41 244.74,210.14 245.57,209.38 246.41,209.21 247.25,209.47 248.09,210.04 248.93,210.89 249.76,211.96 250.6,213.17 251.44,214.45 252.28,215.73 253.11,216.94 253.95,218.05 254.79,219.02 255.62,219.85 256.46,220.52 257.3,221.05 258.14,221.45 258.98,221.75 259.81,221.97 260.65,222.12 261.49,222.22 262.32,222.29 263.16,222.34 264,222.36" fill="none" stroke="#f5a030" stroke-width="1.1"/>
<rect x="203.2" y="137.2" width="85.4" height="85.8" fill="none" stroke="#000" stroke-width="1.1"/>
<path d="M203.2,223.0v1.6M206.8,223.0v1.6M210.3,223.0v1.6M213.9,223.0v1.6M217.4,223.0v1.6M221.0,223.0v1.6M224.6,223.0v1.6M228.1,223.0v1.6M231.7,223.0v1.6M235.2,223.0v1.6M238.8,223.0v1.6M242.3,223.0v1.6M245.9,223.0v1.6M249.5,223.0v1.6M253.0,223.0v1.6M256.6,223.0v1.6M260.1,223.0v1.6M263.7,223.0v1.6M267.2,223.0v1.6M270.8,223.0v1.6M274.4,223.0v1.6M277.9,223.0v1.6M281.5,223.0v1.6M285.0,223.0v1.6M288.6,223.0v1.6M208.6,223.0v2.6M229.6,223.0v2.6M256.4,223.0v2.6" stroke="#000" stroke-width="0.5" fill="none"/>
<rect x="222.5" y="223.2" width="7" height="1.4" fill="#000"/>
<text x="286.9" y="149.82" font-size="7" text-anchor="end" textLength="23.9" lengthAdjust="spacingAndGlyphs">Isotype</text>
<text x="286.9" y="166.62" font-size="7" text-anchor="end" textLength="14.5" lengthAdjust="spacingAndGlyphs">MPP</text>
<text x="286.9" y="185.22" font-size="7" text-anchor="end" textLength="22.5" lengthAdjust="spacingAndGlyphs">34<tspan font-size="4.5" dy="-2.3">−</tspan><tspan dy="2.3">KSL</tspan></text>
<text x="286.9" y="202.82" font-size="7" text-anchor="end" textLength="24" lengthAdjust="spacingAndGlyphs">ST-HSC</text>
<text x="286.9" y="219.32" font-size="7" text-anchor="end" textLength="24" lengthAdjust="spacingAndGlyphs">LT-HSC</text>
<text x="207.8" y="234.94" font-size="7.6" text-anchor="middle" textLength="14.6" lengthAdjust="spacingAndGlyphs">−10<tspan font-size="5" dy="-2.6">3</tspan></text>
<text x="230.2" y="234.94" font-size="7.6" text-anchor="middle">0</text>
<text x="257.8" y="234.94" font-size="7.6" text-anchor="middle" textLength="9.6" lengthAdjust="spacingAndGlyphs">10<tspan font-size="5" dy="-2.6">3</tspan></text>
<text x="246" y="247.96" font-size="9.6" text-anchor="middle" textLength="38" lengthAdjust="spacingAndGlyphs">Syndecan-2</text>
<text x="306.9" y="131.98" font-size="10.5" font-weight="bold" fill="#000">D</text>
<rect x="345.3" y="212.4" width="9.3" height="3.4" fill="#7f96cf"/>
<rect x="359.9" y="195.7" width="9.9" height="20.1" fill="#a6dea0"/>
<rect x="375.2" y="203.4" width="9.6" height="12.4" fill="#9c84bd"/>
<rect x="390.1" y="175.2" width="9.9" height="40.6" fill="#fdc68e"/>
<circle cx="351.7" cy="201.8" r="1.45" fill="#1c5aa0"/>
<circle cx="350.0" cy="205.0" r="1.45" fill="#1c5aa0"/>
<circle cx="346.4" cy="214.6" r="1.45" fill="#1c5aa0"/>
<circle cx="348.6" cy="213.3" r="1.45" fill="#1c5aa0"/>
<circle cx="350.6" cy="215.3" r="1.45" fill="#1c5aa0"/>
<circle cx="353.3" cy="214.9" r="1.45" fill="#1c5aa0"/>
<circle cx="347.3" cy="215.3" r="1.45" fill="#1c5aa0"/>
<line x1="349.95" y1="209.6" x2="349.95" y2="214" stroke="#222" stroke-width="0.8" />
<line x1="347.85" y1="209.6" x2="352.05" y2="209.6" stroke="#222" stroke-width="0.8" />
<line x1="347.85" y1="214" x2="352.05" y2="214" stroke="#222" stroke-width="0.8" />
<circle cx="364.5" cy="183.7" r="1.45" fill="#2fb54a"/>
<circle cx="364.5" cy="188.1" r="1.45" fill="#2fb54a"/>
<circle cx="368.1" cy="191.7" r="1.45" fill="#2fb54a"/>
<circle cx="361.2" cy="194.1" r="1.45" fill="#2fb54a"/>
<circle cx="361.2" cy="201.4" r="1.45" fill="#2fb54a"/>
<circle cx="367.9" cy="203.4" r="1.45" fill="#2fb54a"/>
<circle cx="361.2" cy="206.3" r="1.45" fill="#2fb54a"/>
<line x1="364.85" y1="192.1" x2="364.85" y2="199.1" stroke="#222" stroke-width="0.8" />
<line x1="362.75" y1="192.1" x2="366.95" y2="192.1" stroke="#222" stroke-width="0.8" />
<line x1="362.75" y1="199.1" x2="366.95" y2="199.1" stroke="#222" stroke-width="0.8" />
<circle cx="379.5" cy="191.7" r="1.45" fill="#4f2078"/>
<circle cx="379.5" cy="195.7" r="1.45" fill="#4f2078"/>
<circle cx="376.5" cy="206.0" r="1.45" fill="#4f2078"/>
<circle cx="383.1" cy="206.0" r="1.45" fill="#4f2078"/>
<circle cx="381.8" cy="210.0" r="1.45" fill="#4f2078"/>
<circle cx="378.5" cy="210.7" r="1.45" fill="#4f2078"/>
<circle cx="379.8" cy="204.7" r="1.45" fill="#4f2078"/>
<line x1="380" y1="200.5" x2="380" y2="205.4" stroke="#222" stroke-width="0.8" />
<line x1="377.9" y1="200.5" x2="382.1" y2="200.5" stroke="#222" stroke-width="0.8" />
<line x1="377.9" y1="205.4" x2="382.1" y2="205.4" stroke="#222" stroke-width="0.8" />
<circle cx="391.5" cy="152.7" r="1.45" fill="#f7931e"/>
<circle cx="398.1" cy="155.3" r="1.45" fill="#f7931e"/>
<circle cx="391.5" cy="169.3" r="1.45" fill="#f7931e"/>
<circle cx="398.4" cy="171.5" r="1.45" fill="#f7931e"/>
<circle cx="394.7" cy="189.8" r="1.45" fill="#f7931e"/>
<circle cx="391.5" cy="194.3" r="1.45" fill="#f7931e"/>
<circle cx="398.4" cy="194.1" r="1.45" fill="#f7931e"/>
<line x1="395.05" y1="168.6" x2="395.05" y2="182.1" stroke="#222" stroke-width="0.8" />
<line x1="392.95" y1="168.6" x2="397.15" y2="168.6" stroke="#222" stroke-width="0.8" />
<line x1="392.95" y1="182.1" x2="397.15" y2="182.1" stroke="#222" stroke-width="0.8" />
<line x1="342.7" y1="135.9" x2="342.7" y2="216.3" stroke="#222" stroke-width="1.1" />
<line x1="342.7" y1="215.8" x2="403" y2="215.8" stroke="#222" stroke-width="1.2" />
<line x1="339.3" y1="215.8" x2="342.7" y2="215.8" stroke="#222" stroke-width="0.8" />
<text x="337.2" y="218.54" font-size="7.6" text-anchor="end">0</text>
<line x1="339.3" y1="195.95" x2="342.7" y2="195.95" stroke="#222" stroke-width="0.8" />
<text x="337.2" y="198.69" font-size="7.6" text-anchor="end">5</text>
<line x1="339.3" y1="176.1" x2="342.7" y2="176.1" stroke="#222" stroke-width="0.8" />
<text x="337.2" y="178.84" font-size="7.6" text-anchor="end">10</text>
<line x1="339.3" y1="156.25" x2="342.7" y2="156.25" stroke="#222" stroke-width="0.8" />
<text x="337.2" y="158.99" font-size="7.6" text-anchor="end">15</text>
<line x1="339.3" y1="136.4" x2="342.7" y2="136.4" stroke="#222" stroke-width="0.8" />
<text x="337.2" y="139.14" font-size="7.6" text-anchor="end">20</text>
<line x1="349.95" y1="215.8" x2="349.95" y2="218.4" stroke="#222" stroke-width="0.8" />
<line x1="364.85" y1="215.8" x2="364.85" y2="218.4" stroke="#222" stroke-width="0.8" />
<line x1="380" y1="215.8" x2="380" y2="218.4" stroke="#222" stroke-width="0.8" />
<line x1="395.05" y1="215.8" x2="395.05" y2="218.4" stroke="#222" stroke-width="0.8" />
<text x="352.15" y="225.82" font-size="8.4" text-anchor="end" textLength="16.8" lengthAdjust="spacingAndGlyphs" transform="rotate(-45 352.15 222.8)">MPP</text>
<text x="367.05" y="225.82" font-size="8.4" text-anchor="end" textLength="27.3" lengthAdjust="spacingAndGlyphs" transform="rotate(-45 367.05 222.8)">34<tspan font-size="4.5" dy="-2.3">−</tspan><tspan dy="2.3">KSL</tspan></text>
<text x="382.2" y="225.82" font-size="8.4" text-anchor="end" textLength="28.9" lengthAdjust="spacingAndGlyphs" transform="rotate(-45 382.2 222.8)">ST-HSC</text>
<text x="397.25" y="225.82" font-size="8.4" text-anchor="end" textLength="28.9" lengthAdjust="spacingAndGlyphs" transform="rotate(-45 397.25 222.8)">LT-HSC</text>
<text x="308.6" y="180" font-size="8.6" text-anchor="middle" textLength="49.5" lengthAdjust="spacingAndGlyphs" transform="rotate(-90 308.6 176.9)">Syndecan-2 MFI</text>
<text x="319.8" y="179.5" font-size="8.6" text-anchor="middle" textLength="70.7" lengthAdjust="spacingAndGlyphs" transform="rotate(-90 319.8 176.4)">(normalized to MPP)</text>
<polyline points="349.9,171.2 349.9,137.4 395.2,137.4 395.2,141.9" fill="none" stroke="#000" stroke-width="0.9"/>
<circle cx="367.2" cy="134.4" r="0.95" fill="#231f20"/>
<circle cx="370.6" cy="134.4" r="0.95" fill="#231f20"/>
<circle cx="373.9" cy="134.4" r="0.95" fill="#231f20"/>
<circle cx="377.1" cy="134.4" r="0.95" fill="#231f20"/>
<polyline points="349.9,196.4 349.9,177.4 364.6,177.4 364.6,180.8" fill="none" stroke="#000" stroke-width="0.9"/>
<circle cx="357.2" cy="174.8" r="0.95" fill="#231f20"/>
<text x="412.4" y="132.46" font-size="11" textLength="6.2" lengthAdjust="spacingAndGlyphs" font-weight="bold" fill="#000">E</text>
<rect x="446.4" y="214.3" width="8.6" height="2.7" fill="#7f96cf"/>
<rect x="460.1" y="204.1" width="8.9" height="12.9" fill="#a6dea0"/>
<rect x="473.4" y="207.9" width="8.9" height="9.1" fill="#9c84bd"/>
<rect x="487.4" y="182.8" width="8.6" height="34.2" fill="#fdc68e"/>
<circle cx="450.8" cy="211.5" r="1.45" fill="#1c5aa0"/>
<circle cx="447.5" cy="214.5" r="1.45" fill="#1c5aa0"/>
<circle cx="453.5" cy="215.0" r="1.45" fill="#1c5aa0"/>
<circle cx="450.0" cy="216.0" r="1.45" fill="#1c5aa0"/>
<circle cx="452.0" cy="213.5" r="1.45" fill="#1c5aa0"/>
<circle cx="449.0" cy="213.0" r="1.45" fill="#1c5aa0"/>
<circle cx="451.0" cy="215.5" r="1.45" fill="#1c5aa0"/>
<line x1="450.7" y1="211.5" x2="450.7" y2="214.5" stroke="#222" stroke-width="0.8" />
<line x1="448.6" y1="211.5" x2="452.8" y2="211.5" stroke="#222" stroke-width="0.8" />
<line x1="448.6" y1="214.5" x2="452.8" y2="214.5" stroke="#222" stroke-width="0.8" />
<circle cx="464.4" cy="187.9" r="1.45" fill="#2fb54a"/>
<circle cx="461.6" cy="201.6" r="1.45" fill="#2fb54a"/>
<circle cx="465.5" cy="202.5" r="1.45" fill="#2fb54a"/>
<circle cx="467.4" cy="204.7" r="1.45" fill="#2fb54a"/>
<circle cx="461.9" cy="205.0" r="1.45" fill="#2fb54a"/>
<circle cx="465.2" cy="207.9" r="1.45" fill="#2fb54a"/>
<circle cx="463.2" cy="210.9" r="1.45" fill="#2fb54a"/>
<line x1="464.55" y1="200.9" x2="464.55" y2="206" stroke="#222" stroke-width="0.8" />
<line x1="462.45" y1="200.9" x2="466.65" y2="200.9" stroke="#222" stroke-width="0.8" />
<line x1="462.45" y1="206" x2="466.65" y2="206" stroke="#222" stroke-width="0.8" />
<circle cx="477.9" cy="194.8" r="1.45" fill="#4f2078"/>
<circle cx="476.9" cy="206.7" r="1.45" fill="#4f2078"/>
<circle cx="480.5" cy="207.3" r="1.45" fill="#4f2078"/>
<circle cx="474.6" cy="209.8" r="1.45" fill="#4f2078"/>
<circle cx="478.2" cy="211.1" r="1.45" fill="#4f2078"/>
<circle cx="480.5" cy="213.0" r="1.45" fill="#4f2078"/>
<circle cx="475.6" cy="213.7" r="1.45" fill="#4f2078"/>
<line x1="477.85" y1="205.8" x2="477.85" y2="210.5" stroke="#222" stroke-width="0.8" />
<line x1="475.75" y1="205.8" x2="479.95" y2="205.8" stroke="#222" stroke-width="0.8" />
<line x1="475.75" y1="210.5" x2="479.95" y2="210.5" stroke="#222" stroke-width="0.8" />
<circle cx="491.6" cy="156.1" r="1.45" fill="#f7931e"/>
<circle cx="490.9" cy="178.3" r="1.45" fill="#f7931e"/>
<circle cx="488.4" cy="186.3" r="1.45" fill="#f7931e"/>
<circle cx="494.5" cy="184.4" r="1.45" fill="#f7931e"/>
<circle cx="494.1" cy="188.2" r="1.45" fill="#f7931e"/>
<circle cx="491.6" cy="192.0" r="1.45" fill="#f7931e"/>
<circle cx="490.3" cy="186.9" r="1.45" fill="#f7931e"/>
<line x1="491.7" y1="178.3" x2="491.7" y2="186.9" stroke="#222" stroke-width="0.8" />
<line x1="489.6" y1="178.3" x2="493.8" y2="178.3" stroke="#222" stroke-width="0.8" />
<line x1="489.6" y1="186.9" x2="493.8" y2="186.9" stroke="#222" stroke-width="0.8" />
<line x1="441.5" y1="137.1" x2="441.5" y2="217.5" stroke="#222" stroke-width="1.1" />
<line x1="441.5" y1="217" x2="500.6" y2="217" stroke="#222" stroke-width="1.2" />
<line x1="438.6" y1="217" x2="441.5" y2="217" stroke="#222" stroke-width="0.8" />
<text x="436.9" y="219.74" font-size="7.6" text-anchor="end">0</text>
<line x1="438.6" y1="197.12" x2="441.5" y2="197.12" stroke="#222" stroke-width="0.8" />
<text x="436.9" y="199.86" font-size="7.6" text-anchor="end">20</text>
<line x1="438.6" y1="177.24" x2="441.5" y2="177.24" stroke="#222" stroke-width="0.8" />
<text x="436.9" y="179.98" font-size="7.6" text-anchor="end">40</text>
<line x1="438.6" y1="157.36" x2="441.5" y2="157.36" stroke="#222" stroke-width="0.8" />
<text x="436.9" y="160.1" font-size="7.6" text-anchor="end">60</text>
<line x1="438.6" y1="137.48" x2="441.5" y2="137.48" stroke="#222" stroke-width="0.8" />
<text x="436.9" y="140.22" font-size="7.6" text-anchor="end">80</text>
<line x1="450.7" y1="217" x2="450.7" y2="219.6" stroke="#222" stroke-width="0.8" />
<line x1="464.55" y1="217" x2="464.55" y2="219.6" stroke="#222" stroke-width="0.8" />
<line x1="477.85" y1="217" x2="477.85" y2="219.6" stroke="#222" stroke-width="0.8" />
<line x1="491.7" y1="217" x2="491.7" y2="219.6" stroke="#222" stroke-width="0.8" />
<text x="452.9" y="226.82" font-size="8.4" text-anchor="end" textLength="16.8" lengthAdjust="spacingAndGlyphs" transform="rotate(-45 452.9 223.8)">MPP</text>
<text x="466.75" y="226.82" font-size="8.4" text-anchor="end" textLength="27.3" lengthAdjust="spacingAndGlyphs" transform="rotate(-45 466.75 223.8)">34<tspan font-size="4.5" dy="-2.3">−</tspan><tspan dy="2.3">KSL</tspan></text>
<text x="480.05" y="226.82" font-size="8.4" text-anchor="end" textLength="28.9" lengthAdjust="spacingAndGlyphs" transform="rotate(-45 480.05 223.8)">ST-HSC</text>
<text x="493.9" y="226.82" font-size="8.4" text-anchor="end" textLength="28.9" lengthAdjust="spacingAndGlyphs" transform="rotate(-45 493.9 223.8)">LT-HSC</text>
<text x="418.8" y="179.64" font-size="9" text-anchor="middle" textLength="50.7" lengthAdjust="spacingAndGlyphs" transform="rotate(-90 418.8 176.4)">% syndecan-2<tspan font-size="5.5" dy="-2.8">+</tspan></text>
<polyline points="451.7,176.7 451.7,140.4 491.8,140.4 491.8,144.3" fill="none" stroke="#000" stroke-width="0.9"/>
<circle cx="466.2" cy="137.5" r="0.95" fill="#231f20"/>
<circle cx="469.6" cy="137.5" r="0.95" fill="#231f20"/>
<circle cx="472.9" cy="137.5" r="0.95" fill="#231f20"/>
<circle cx="476.1" cy="137.5" r="0.95" fill="#231f20"/>
<polyline points="477.6,180.6 477.6,149.3 491.8,149.3 491.8,152.6" fill="none" stroke="#000" stroke-width="0.9"/>
<circle cx="480.1" cy="147.0" r="0.95" fill="#231f20"/>
<circle cx="483.4" cy="147.0" r="0.95" fill="#231f20"/>
<circle cx="486.7" cy="147.0" r="0.95" fill="#231f20"/>
<circle cx="489.9" cy="147.0" r="0.95" fill="#231f20"/>
<polyline points="450.8,201.6 450.8,180.8 464.4,180.8 464.4,183.6" fill="none" stroke="#000" stroke-width="0.9"/>
<circle cx="458.3" cy="178.1" r="0.95" fill="#231f20"/>
<text x="7.3" y="270.46" font-size="11" textLength="5.5" lengthAdjust="spacingAndGlyphs" font-weight="bold" fill="#000">F</text>
<g filter="url(#bl)"><path d="M67.9,333.1 64.9,332.9 64.6,333.1 62.6,333.6 61.9,334.1 61.4,334.1 59.9,335.6 58.9,337.1 58.1,338.9 57.9,340.9 57.6,341.1 57.6,342.4 57.4,342.6 57.1,344.9 56.9,345.1 56.6,350.4 56.4,350.6 56.4,353.9 56.1,354.1 56.1,365.6 56.4,365.9 56.4,367.1 56.6,367.4 56.6,368.4 56.9,368.6 57.4,371.1 58.6,372.4 61.1,373.9 64.9,373.6 65.1,373.4 66.4,373.1 68.9,370.6 70.1,368.4 70.1,367.9 70.6,366.9 71.4,366.1 76.1,364.6 78.1,362.9 78.4,362.9 79.1,361.9 79.1,360.9 78.9,360.6 78.9,357.9 78.6,357.6 78.6,353.9 78.4,353.6 78.4,348.9 78.1,348.6 78.1,345.9 77.9,345.6 77.9,344.9 76.9,342.1 76.9,341.4 76.4,340.4 76.4,339.6 75.1,338.4 74.4,338.1 73.1,337.1 70.9,336.1 70.1,335.4 69.4,333.9Z" fill="#2b45a2" fill-rule="evenodd"/><path d="M66.6,333.1 64.6,333.1 64.4,333.4 62.4,333.9 61.4,334.4 60.1,335.6 58.6,337.9 58.4,339.4 58.1,339.6 58.1,340.6 57.9,340.9 57.9,342.1 57.6,342.4 57.4,344.4 57.1,344.6 56.9,350.1 56.6,350.4 56.6,353.6 56.4,353.9 56.4,365.9 56.6,366.1 56.6,367.4 56.9,367.6 56.9,368.6 57.1,368.9 57.4,370.9 58.9,372.4 60.9,373.6 63.6,373.6 63.9,373.4 65.1,373.4 66.4,372.9 69.1,369.9 69.1,369.4 70.6,366.4 71.1,365.9 74.4,364.9 74.6,364.6 75.4,364.6 76.6,363.9 78.6,362.1 78.6,358.4 78.4,358.1 78.4,354.4 78.1,354.1 78.1,349.4 77.9,349.1 77.9,346.4 77.6,346.1 77.6,345.4 77.4,345.1 77.4,344.4 76.9,343.4 76.9,342.6 76.4,341.6 76.1,340.1 75.6,339.1 74.1,338.4 72.6,337.1 70.9,336.4 69.9,335.4 69.1,333.9 68.1,333.4 66.9,333.4Z" fill="#3a55aa" fill-rule="evenodd"/><path d="M65.9,333.4 64.9,333.4 64.6,333.6 62.6,334.1 61.1,334.9 60.1,336.1 58.9,338.4 58.6,340.4 58.4,340.6 58.4,341.6 58.1,341.9 58.1,343.1 57.9,343.4 57.9,344.4 57.6,344.6 57.4,350.1 57.1,350.4 57.1,353.6 56.9,353.9 56.9,366.6 57.1,366.9 57.1,368.1 57.4,368.4 57.4,369.4 57.6,369.6 57.9,370.9 59.1,372.1 61.1,373.4 64.6,373.1 65.9,372.6 68.1,370.1 68.4,368.4 68.6,368.1 68.6,364.9 68.9,364.6 68.9,361.4 69.1,361.1 69.1,357.9 69.4,357.6 69.4,354.4 69.6,354.1 69.6,350.9 69.9,350.6 69.9,347.4 70.1,347.1 70.1,343.9 70.4,343.6 70.6,337.4 69.6,336.1 69.1,334.9 68.1,333.9 66.1,333.6Z" fill="#3c5db0" fill-rule="evenodd"/><path d="M66.1,333.6 64.6,333.6 64.4,333.9 63.1,334.1 62.4,334.6 61.9,334.6 61.1,335.1 59.1,338.4 59.1,338.9 58.9,339.1 58.9,340.4 58.6,340.6 58.6,341.9 58.4,342.1 58.4,343.4 58.1,343.6 57.9,349.1 57.6,349.4 57.6,352.1 57.4,352.4 57.4,355.1 57.1,355.4 57.1,366.9 57.4,367.1 57.4,368.6 57.6,368.9 57.9,370.6 59.4,372.1 60.9,373.1 63.4,373.1 63.6,372.9 65.4,372.6 66.4,371.9 67.4,370.1 67.6,364.4 67.9,364.1 67.9,360.9 68.1,360.6 68.1,357.4 68.4,357.1 68.4,353.9 68.6,353.6 68.6,350.4 68.9,350.1 68.9,346.9 69.1,346.6 69.1,343.4 69.4,343.1 69.4,339.9 69.6,339.6 69.6,337.1 68.6,334.9 68.1,334.4Z" fill="#3e6dbe" fill-rule="evenodd"/><path d="M66.1,333.9 64.4,333.9 64.1,334.1 62.1,334.6 60.9,335.6 59.4,338.1 59.1,340.4 58.9,340.6 58.9,342.4 58.6,342.6 58.4,347.9 58.1,348.1 58.1,350.6 57.9,350.9 57.6,355.9 57.4,356.1 57.4,364.1 57.1,364.4 57.1,365.1 57.4,365.4 57.4,367.6 57.6,367.9 57.6,369.1 57.9,369.4 57.9,370.4 58.1,370.9 59.6,372.1 61.4,373.1 64.1,372.9 65.4,372.4 66.1,371.6 66.9,369.9 66.9,366.9 67.1,366.6 67.1,363.4 67.4,363.1 67.4,359.9 67.6,359.6 67.6,356.4 67.9,356.1 67.9,352.9 68.1,352.6 68.1,349.4 68.4,349.1 68.4,345.6 68.6,345.4 68.6,342.1 68.9,341.9 68.9,338.6 69.1,338.4 69.1,337.6 68.9,337.4 68.9,336.4 68.4,335.4 67.4,334.4Z" fill="#3d8ad2" fill-rule="evenodd"/><path d="M66.1,334.1 64.1,334.1 61.6,335.1 60.4,336.6 59.6,338.1 59.6,339.1 59.4,339.4 58.9,347.9 58.6,348.1 58.6,349.9 58.4,350.1 58.1,353.6 57.9,353.9 57.9,356.4 57.6,356.6 57.6,367.9 57.9,368.1 57.9,369.6 58.4,370.9 59.1,371.6 61.1,372.9 62.9,372.9 63.1,372.6 64.1,372.6 64.6,372.4 65.9,371.1 66.1,369.6 66.4,369.4 66.4,366.1 66.6,365.9 66.6,362.6 66.9,362.4 66.9,359.1 67.1,358.9 67.1,355.6 67.4,355.4 67.4,352.1 67.6,351.9 67.6,348.6 67.9,348.4 67.9,344.9 68.1,344.6 68.1,341.4 68.4,341.1 68.4,336.6 67.4,334.9Z" fill="#3aa9e2" fill-rule="evenodd"/><path d="M65.1,334.1 64.6,334.4 63.6,334.4 61.9,335.1 60.4,336.9 60.4,337.4 59.9,338.4 59.9,340.4 59.6,340.6 59.4,346.9 59.1,347.1 59.1,348.6 58.9,348.9 58.9,350.1 58.6,350.4 58.6,351.6 58.4,351.9 58.4,353.4 58.1,353.6 58.1,355.6 57.9,355.9 57.9,368.6 58.1,368.9 58.1,369.9 58.4,370.1 58.4,370.6 59.4,371.6 61.6,372.9 64.1,372.4 65.4,371.1 65.9,369.9 65.9,367.4 66.1,367.1 66.1,364.1 66.4,363.9 66.4,360.6 66.6,360.4 66.6,356.9 66.9,356.6 66.9,353.1 67.1,352.9 67.1,349.6 67.4,349.4 67.4,346.1 67.6,345.9 67.6,342.6 67.9,342.4 67.9,339.1 68.1,338.9 68.1,337.4 67.4,335.6 66.4,334.6Z" fill="#3cbde9" fill-rule="evenodd"/><path d="M65.1,334.6 63.9,334.6 61.9,335.4 60.6,337.1 59.9,347.1 59.6,347.4 59.6,348.4 59.1,349.6 59.1,350.6 58.9,350.9 58.9,351.9 58.6,352.1 58.6,353.4 58.4,353.6 58.4,355.4 58.1,355.6 58.1,366.4 58.4,366.6 58.4,369.6 59.1,371.1 61.1,372.4 62.9,372.4 63.9,371.9 64.6,371.1 65.4,369.1 65.4,366.6 65.6,366.4 65.6,364.1 65.9,363.9 65.9,360.6 66.1,360.4 66.4,351.6 66.6,351.4 66.6,348.1 66.9,347.9 66.9,344.6 67.1,344.4 67.1,341.1 67.4,340.9 67.4,336.9 66.6,335.6Z" fill="#58c29c" fill-rule="evenodd"/><path d="M64.9,335.1 63.4,335.1 63.1,335.4 62.6,335.4 61.9,335.9 61.1,337.1 60.6,345.1 60.4,345.4 60.4,346.6 60.1,346.9 60.1,347.6 59.9,347.9 59.9,348.6 59.6,348.9 59.6,349.6 59.4,349.9 59.4,350.6 58.9,351.9 58.6,354.6 58.4,354.9 58.4,357.4 58.1,357.6 58.1,362.6 58.4,362.9 58.6,369.1 58.9,369.4 58.9,370.1 59.4,370.9 60.6,371.9 61.1,371.9 61.4,372.1 62.1,372.1 63.4,371.6 64.6,370.1 64.6,369.6 64.9,369.4 64.9,367.6 65.1,367.4 65.1,365.6 65.4,365.4 65.4,363.4 65.6,363.1 65.6,359.6 65.9,359.4 65.9,351.4 66.1,351.1 66.1,347.6 66.4,347.4 66.4,344.1 66.6,343.9 66.9,337.1 66.4,336.1Z" fill="#6ebf47" fill-rule="evenodd"/><path d="M62.1,348.1 61.4,348.4 60.9,348.9 59.9,350.9 59.4,353.4 59.1,353.6 58.9,357.1 58.6,357.4 58.6,361.9 58.9,362.1 58.9,364.4 59.1,364.6 59.1,365.6 59.4,365.9 59.4,366.9 59.6,367.1 59.9,368.4 61.1,369.9 62.1,369.9 62.6,369.6 63.9,367.4 63.9,366.6 64.1,366.4 64.1,365.6 64.6,364.4 64.6,362.9 64.9,362.6 64.9,358.6 65.1,358.4 64.9,358.1 64.9,354.4 64.6,354.1 64.4,351.6 63.4,349.1Z" fill="#80c443" fill-rule="evenodd"/><path d="M62.1,349.9 61.1,350.1 60.4,351.1 60.4,351.6 59.9,352.4 59.6,354.1 59.4,354.4 59.4,355.6 59.1,355.9 59.1,363.1 59.4,363.4 59.4,364.6 60.4,367.4 61.6,368.4 62.6,367.9 63.4,366.6 63.4,366.1 63.9,365.1 63.9,364.4 64.1,364.1 64.1,363.1 64.4,362.9 64.4,360.9 64.6,360.6 64.6,356.6 64.4,356.4 64.1,353.4 63.9,353.1 63.9,352.4 62.9,350.4Z" fill="#bcd42e" fill-rule="evenodd"/><path d="M61.4,350.9 60.9,351.4 60.1,352.9 59.9,354.4 59.6,354.6 59.6,355.9 59.4,356.1 59.4,362.9 59.6,363.1 59.6,364.1 59.9,364.4 59.9,365.1 60.4,366.4 61.1,367.1 62.1,367.1 62.9,366.4 63.9,363.6 63.9,362.6 64.1,362.4 64.1,360.1 64.4,359.9 64.4,357.6 64.1,357.4 64.1,355.1 63.9,354.9 63.9,353.9 63.6,353.6 63.4,352.4 62.1,350.9Z" fill="#fae515" fill-rule="evenodd"/><path d="M61.9,352.4 61.1,352.6 60.4,354.1 60.4,354.9 59.9,356.1 59.9,358.9 59.6,359.1 59.6,359.9 59.9,360.1 59.9,362.6 60.1,362.9 60.4,364.4 61.1,365.6 62.1,365.6 62.6,365.1 63.4,363.4 63.6,360.4 63.9,360.1 63.9,357.6 63.6,357.4 63.6,355.6 63.4,355.4 63.4,354.6 62.6,352.9Z" fill="#f6a11c" fill-rule="evenodd"/><path d="M62.1,354.1 61.6,354.1 61.1,354.6 60.6,355.9 60.6,356.9 60.4,357.1 60.4,361.9 61.1,363.9 61.6,364.1 62.4,363.6 62.9,362.6 62.9,361.9 63.1,361.6 63.1,359.4 63.4,359.1 63.4,358.6 63.1,358.4 63.1,356.4 62.9,356.1 62.9,355.4Z" fill="#e5262a" fill-rule="evenodd"/></g>
<path d="M78.8,353.4h1.2v1.2h-1.2zM85.9,351.2h1.2v1.2h-1.2zM79.6,354.1h1.2v1.2h-1.2zM74.8,352.3h1.2v1.2h-1.2zM81.4,359.0h1.2v1.2h-1.2zM73.4,347.3h1.2v1.2h-1.2zM73.4,359.4h1.2v1.2h-1.2zM82.4,341.0h1.2v1.2h-1.2zM86.7,363.2h1.2v1.2h-1.2zM81.8,354.8h1.2v1.2h-1.2zM74.4,340.4h1.2v1.2h-1.2zM79.9,341.4h1.2v1.2h-1.2zM74.9,345.8h1.2v1.2h-1.2zM72.5,351.1h1.2v1.2h-1.2zM70.9,360.4h1.2v1.2h-1.2zM71.6,350.5h1.2v1.2h-1.2zM74.0,344.1h1.2v1.2h-1.2zM71.9,360.4h1.2v1.2h-1.2zM70.3,342.7h1.2v1.2h-1.2zM70.5,358.2h1.2v1.2h-1.2zM73.6,347.2h1.2v1.2h-1.2zM70.1,336.0h1.2v1.2h-1.2zM73.8,349.6h1.2v1.2h-1.2zM71.4,338.1h1.2v1.2h-1.2zM70.0,343.8h1.2v1.2h-1.2zM72.2,364.0h1.2v1.2h-1.2zM70.0,343.1h1.2v1.2h-1.2zM70.1,359.1h1.2v1.2h-1.2zM70.1,349.0h1.2v1.2h-1.2zM71.5,339.8h1.2v1.2h-1.2zM70.1,348.2h1.2v1.2h-1.2zM72.5,364.2h1.2v1.2h-1.2zM70.1,361.7h1.2v1.2h-1.2zM71.5,360.8h1.2v1.2h-1.2z" fill="#2d4aab"/>
<rect x="38.7" y="315.9" width="69.2" height="68.8" fill="none" stroke="#000" stroke-width="1.3"/>
<path d="M37.1,315.9h1.6M37.1,318.8h1.6M37.1,321.6h1.6M37.1,324.5h1.6M37.1,327.4h1.6M37.1,330.2h1.6M37.1,333.1h1.6M37.1,336.0h1.6M37.1,338.8h1.6M37.1,341.7h1.6M37.1,344.6h1.6M37.1,347.4h1.6M37.1,350.3h1.6M37.1,353.2h1.6M37.1,356.0h1.6M37.1,358.9h1.6M37.1,361.8h1.6M37.1,364.6h1.6M37.1,367.5h1.6M37.1,370.4h1.6M37.1,373.2h1.6M37.1,376.1h1.6M37.1,379.0h1.6M37.1,381.8h1.6M37.1,384.7h1.6M36.1,318.8h2.6M36.1,340.5h2.6M36.1,362.6h2.6M36.1,384.5h2.6" stroke="#000" stroke-width="0.5" fill="none"/>
<text x="34.4" y="321.07" font-size="6.3" text-anchor="end">60K</text>
<text x="34.4" y="342.77" font-size="6.3" text-anchor="end">40K</text>
<text x="34.4" y="364.87" font-size="6.3" text-anchor="end">20K</text>
<text x="34.4" y="386.77" font-size="6.3" text-anchor="end">0</text>
<path d="M38.7,384.7v1.6M41.8,384.7v1.6M45.0,384.7v1.6M48.1,384.7v1.6M51.3,384.7v1.6M54.4,384.7v1.6M57.6,384.7v1.6M60.7,384.7v1.6M63.9,384.7v1.6M67.0,384.7v1.6M70.2,384.7v1.6M73.3,384.7v1.6M76.4,384.7v1.6M79.6,384.7v1.6M82.7,384.7v1.6M85.9,384.7v1.6M89.0,384.7v1.6M92.2,384.7v1.6M95.3,384.7v1.6M98.5,384.7v1.6M101.6,384.7v1.6M104.8,384.7v1.6M107.9,384.7v1.6M45.3,384.7v2.6M59.3,384.7v2.6M75.2,384.7v2.6M100.6,384.7v2.6" stroke="#000" stroke-width="0.5" fill="none"/>
<rect x="52" y="385" width="7" height="1.4" fill="#000"/>
<text x="45.3" y="394.14" font-size="6.5" text-anchor="middle">−10<tspan font-size="5.1" dy="-2.34">3</tspan></text>
<text x="59.3" y="394.14" font-size="6.5" text-anchor="middle">0</text>
<text x="75.2" y="394.14" font-size="6.5" text-anchor="middle">10<tspan font-size="5.1" dy="-2.34">3</tspan></text>
<text x="100.6" y="394.14" font-size="6.5" text-anchor="middle">10<tspan font-size="5.1" dy="-2.34">4</tspan></text>
<text x="17.2" y="354.12" font-size="10.6" text-anchor="middle" textLength="19.4" lengthAdjust="spacingAndGlyphs" transform="rotate(-90 17.2 350.3)">SSC-A</text>
<text x="73" y="406.07" font-size="10.2" text-anchor="middle" textLength="37.6" lengthAdjust="spacingAndGlyphs">Syndecan-2</text>
<rect x="49.1" y="322.8" width="42.7" height="57.2" fill="none" stroke="#9a9a9a" stroke-width="0.8"/>
<line x1="70.3" y1="322.8" x2="70.3" y2="380" stroke="#222" stroke-width="1" />
<text x="52.6" y="330.69" font-size="7.2" textLength="14.8" lengthAdjust="spacingAndGlyphs">97%</text>
<text x="76.3" y="330.69" font-size="7.2" textLength="10.4" lengthAdjust="spacingAndGlyphs">3%</text>
<polyline points="64.1,322.8 64.1,284.6 139,284.6" fill="none" stroke="#000" stroke-width="1.1"/>
<line x1="130" y1="284.6" x2="139.5" y2="284.6" stroke="#000" stroke-width="1.2" />
<polygon points="138.5,281.6 149.5,284.6 138.5,287.6" fill="#000"/>
<line x1="91.8" y1="378.3" x2="140" y2="378.3" stroke="#000" stroke-width="1.1" />
<line x1="130" y1="378.8" x2="138.2" y2="378.8" stroke="#000" stroke-width="1.2" />
<polygon points="137.2,375.8 148.2,378.8 137.2,381.8" fill="#000"/>
<polyline points="40.5,394 40.5,475.4 139,475.4" fill="none" stroke="#000" stroke-width="1.1"/>
<line x1="130" y1="475.4" x2="138.2" y2="475.4" stroke="#000" stroke-width="1.2" />
<polygon points="137.2,472.4 148.2,475.4 137.2,478.4" fill="#000"/>
<g filter="url(#bl)"><path d="M175.9,286.6 167.9,286.6 167.6,286.4 166.1,286.4 165.9,286.1 164.9,286.1 164.6,285.9 163.6,285.9 163.4,285.6 159.6,285.6 159.4,285.9 158.1,285.9 157.4,286.6 156.9,287.6 156.9,291.1 156.6,291.4 156.6,319.4 156.9,319.6 156.9,322.4 157.1,322.6 157.1,323.9 157.4,324.1 157.4,324.6 158.1,325.1 158.9,325.1 159.1,325.4 162.9,325.4 163.1,325.1 164.4,325.1 164.6,324.9 165.1,324.9 166.6,322.6 167.6,321.6 171.6,320.4 171.9,320.1 178.6,319.4 180.9,317.4 181.6,316.1 181.6,309.1 179.1,304.1 179.1,291.6 178.6,290.4 178.6,289.4 178.1,288.4Z" fill="#2b45a2" fill-rule="evenodd"/><path d="M176.1,287.1 175.6,287.1 175.4,286.9 167.9,286.9 167.6,286.6 166.4,286.6 166.1,286.4 165.1,286.4 164.9,286.1 162.6,285.9 162.4,285.6 158.6,285.9 157.4,286.9 157.4,287.4 156.9,288.4 156.6,316.4 156.9,316.6 157.1,322.9 157.4,323.1 157.4,324.1 157.9,324.9 158.4,324.9 158.6,325.1 160.1,325.1 160.4,325.4 161.9,325.4 162.1,325.1 164.6,324.9 165.6,324.1 166.4,322.6 167.6,321.4 171.6,319.9 178.6,319.1 180.1,317.9 181.4,316.1 181.4,309.4 178.9,304.4 178.9,292.1 178.6,291.9 178.4,289.9 177.9,288.6Z" fill="#3a55aa" fill-rule="evenodd"/><path d="M162.9,286.1 159.6,286.1 159.4,286.4 158.4,286.4 157.4,287.9 157.4,289.9 157.1,290.1 157.1,299.9 156.9,300.1 156.9,317.6 157.1,317.9 157.4,322.6 157.6,322.9 157.6,323.9 158.1,324.6 158.6,324.6 158.9,324.9 160.6,324.9 160.9,325.1 164.6,324.4 165.4,323.6 166.6,321.4 167.6,320.6 167.9,320.1 167.9,318.9 168.1,318.6 168.1,316.6 168.4,316.4 168.6,313.9 169.6,312.6 170.6,312.9 173.9,316.1 176.6,318.1 178.6,318.1 179.9,316.6 179.9,313.6 179.6,313.4 179.4,311.6 179.1,311.4 178.9,310.1 178.4,309.4 178.4,308.9 175.6,303.6 169.9,295.9 168.4,292.6 167.1,287.6 165.9,286.9 164.4,286.6 164.1,286.4 163.1,286.4Z" fill="#3c5db0" fill-rule="evenodd"/><path d="M161.9,286.1 158.9,286.4 157.9,287.1 157.6,288.4 157.4,288.6 157.1,305.6 156.9,305.9 157.1,319.4 157.4,319.6 157.4,321.9 157.6,322.1 157.9,324.1 158.6,324.6 159.9,324.6 160.1,324.9 162.9,324.6 164.9,323.9 166.4,320.6 166.6,317.9 166.9,317.6 166.9,315.9 167.1,315.6 167.1,313.6 167.4,313.4 167.6,311.1 168.6,309.9 169.6,309.9 170.1,310.1 171.1,311.1 171.4,311.1 173.4,313.4 175.4,314.9 176.9,315.1 177.4,314.9 177.9,313.6 177.9,312.6 177.6,312.4 177.4,310.4 177.1,310.1 176.9,308.9 176.1,307.6 176.1,307.1 173.4,302.6 169.4,297.6 167.4,293.6 165.6,287.6 164.1,286.6 162.1,286.4Z" fill="#3e6dbe" fill-rule="evenodd"/><path d="M160.4,286.4 160.1,286.6 158.6,286.6 157.6,288.1 157.6,291.1 157.4,291.4 157.4,297.4 157.1,297.6 157.1,319.1 157.4,319.4 157.4,320.6 157.6,320.9 157.6,322.9 157.9,323.1 157.9,323.9 158.9,324.6 162.1,324.6 162.4,324.4 163.1,324.4 164.4,323.9 164.9,323.1 165.1,321.6 165.4,321.4 165.4,320.4 165.6,320.1 165.6,319.1 165.9,318.9 165.9,317.6 166.1,317.4 166.1,315.6 166.4,315.4 166.6,311.6 166.9,311.4 166.9,310.4 167.6,308.6 168.4,308.1 169.4,308.1 169.9,308.4 174.6,312.6 175.9,312.6 176.1,312.4 176.1,309.9 175.9,309.6 175.6,308.4 174.1,305.4 168.9,298.4 166.1,292.4 166.1,291.9 165.9,291.6 164.6,287.6 163.9,286.9 163.4,286.9 162.4,286.4Z" fill="#3d8ad2" fill-rule="evenodd"/><path d="M159.9,286.6 159.6,286.9 158.6,286.9 157.9,288.1 157.9,289.4 157.6,289.6 157.4,299.4 157.1,299.6 157.1,318.4 157.4,318.6 157.6,322.4 157.9,322.6 158.1,324.1 158.6,324.4 159.9,324.4 160.1,324.6 161.4,324.6 163.4,323.9 164.1,322.6 164.1,321.9 164.6,320.9 164.9,318.9 165.1,318.6 165.4,315.9 165.6,315.6 166.1,309.6 166.4,309.4 166.4,308.6 166.9,307.4 167.9,306.4 169.1,306.1 170.4,306.6 172.4,308.1 173.1,308.4 173.1,307.1 172.1,305.1 169.1,300.6 167.1,296.6 167.1,296.1 166.4,294.9 166.4,294.4 165.9,293.6 165.9,293.1 165.4,292.4 165.4,291.9 164.9,291.1 164.4,289.4 163.6,288.1 163.6,287.6 162.9,286.9 162.4,286.9 162.1,286.6Z" fill="#3aa9e2" fill-rule="evenodd"/><path d="M159.9,286.9 159.6,287.1 158.9,287.1 158.1,288.1 158.1,288.9 157.9,289.1 157.9,291.4 157.6,291.6 157.4,300.6 157.1,300.9 157.1,317.1 157.4,317.4 157.6,321.9 157.9,322.1 158.1,323.9 158.9,324.4 161.6,324.4 162.9,323.4 163.9,320.9 163.9,320.1 164.1,319.9 164.1,319.1 164.6,317.9 164.6,316.9 164.9,316.6 165.1,313.1 165.4,312.9 165.4,310.9 165.6,310.6 165.6,308.9 165.9,308.6 166.1,306.9 166.9,305.6 168.9,303.9 168.9,302.1 168.6,301.9 168.4,300.6 167.9,299.9 167.9,299.4 167.4,298.6 167.4,298.1 165.9,295.1 165.4,293.4 162.9,288.1 162.4,287.4 161.6,286.9Z" fill="#3cbde9" fill-rule="evenodd"/><path d="M159.6,288.6 158.9,289.1 158.4,289.9 158.1,291.6 157.9,291.9 157.9,293.6 157.6,293.9 157.6,296.9 157.4,297.1 157.4,302.6 157.1,302.9 157.1,315.1 157.4,315.4 157.4,319.4 157.6,319.6 157.6,320.9 157.9,321.1 157.9,322.6 158.1,322.9 158.1,323.4 158.6,324.1 160.9,324.1 161.6,323.4 162.1,322.4 162.1,321.9 162.6,321.1 162.6,320.6 163.4,318.9 163.4,318.1 163.9,316.9 163.9,315.9 164.1,315.6 164.1,314.6 164.4,314.4 164.4,312.6 164.6,312.4 164.6,310.1 164.9,309.9 164.9,307.9 165.1,307.6 165.1,306.6 165.4,306.4 165.4,305.6 166.9,302.9 167.1,300.9 166.9,300.6 166.9,299.6 166.6,299.4 166.1,297.4 163.1,290.9 161.1,288.6Z" fill="#58c29c" fill-rule="evenodd"/><path d="M160.9,290.6 159.4,290.6 158.1,292.1 157.9,294.9 157.6,295.1 157.6,297.9 157.4,298.1 157.4,304.6 157.1,304.9 157.4,319.1 157.6,319.4 157.6,320.4 157.9,320.6 157.9,322.4 158.1,322.6 158.1,323.1 158.4,323.6 159.1,324.1 159.9,324.1 160.9,323.4 162.4,319.9 162.4,319.1 162.6,318.9 162.6,318.1 163.1,316.9 163.1,315.9 163.4,315.6 163.4,314.6 163.6,314.4 164.4,306.1 164.6,305.9 164.6,304.9 165.9,301.6 165.9,299.4 165.6,299.1 165.6,298.4 165.4,298.1 165.1,296.9 164.6,296.1 164.6,295.6 162.6,292.1Z" fill="#6ebf47" fill-rule="evenodd"/><path d="M158.9,295.1 158.4,295.4 157.9,296.6 157.9,298.1 157.6,298.4 157.6,301.4 157.4,301.6 157.4,316.4 157.6,316.6 157.6,319.1 158.1,320.4 158.1,321.4 158.9,322.4 159.4,322.4 160.4,321.4 161.4,318.9 161.4,318.1 161.6,317.9 161.6,316.6 161.9,316.4 161.9,315.1 162.1,314.9 162.1,312.4 162.4,312.1 162.4,305.1 162.1,304.9 162.1,302.1 161.9,301.9 161.9,300.4 161.6,300.1 161.6,299.1 161.4,298.9 161.1,297.4 160.4,295.9 159.6,295.1Z" fill="#80c443" fill-rule="evenodd"/><path d="M158.9,296.9 158.1,297.9 158.1,298.4 157.9,298.6 157.9,300.1 157.6,300.4 157.4,311.4 157.6,311.6 157.6,317.6 157.9,317.9 157.9,319.1 158.4,320.4 158.9,320.9 159.4,320.9 160.1,320.1 160.6,319.1 161.1,316.6 161.4,316.4 161.6,312.4 161.9,312.1 161.9,305.9 161.6,305.6 161.6,303.1 161.4,302.9 161.1,300.4 160.1,297.6 159.6,297.1Z" fill="#bcd42e" fill-rule="evenodd"/><path d="M158.9,298.1 158.1,299.1 158.1,299.9 157.9,300.1 157.9,302.1 157.6,302.4 157.6,315.6 157.9,315.9 157.9,317.9 158.1,318.1 158.1,318.9 158.4,319.4 159.1,319.9 159.6,319.6 160.1,318.9 160.9,316.9 161.1,314.4 161.4,314.1 161.6,307.4 161.4,307.1 161.4,304.1 161.1,303.9 161.1,302.6 160.9,302.4 160.6,300.4 159.6,298.4Z" fill="#fae515" fill-rule="evenodd"/><path d="M158.6,300.4 158.4,300.6 158.1,302.4 157.9,302.6 157.9,315.1 158.1,315.4 158.1,316.6 158.4,316.9 158.4,317.4 159.1,317.9 160.1,316.6 160.4,315.1 160.6,314.9 160.6,313.9 160.9,313.6 161.1,307.6 160.9,307.4 160.9,304.9 160.6,304.6 160.6,303.4 160.4,303.1 160.1,301.6 159.4,300.4Z" fill="#f6a11c" fill-rule="evenodd"/><path d="M158.6,302.6 158.4,303.9 158.1,304.1 158.1,313.4 158.4,313.6 158.4,314.6 158.9,315.4 159.4,315.4 159.9,314.6 160.1,312.9 160.4,312.6 160.4,305.9 160.1,305.6 160.1,304.4 159.4,302.6Z" fill="#e5262a" fill-rule="evenodd"/></g>
<path d="M180.2,307.5h1.2v1.2h-1.2zM183.4,303.1h1.2v1.2h-1.2zM180.5,309.6h1.2v1.2h-1.2zM184.7,303.8h1.2v1.2h-1.2zM182.5,298.0h1.2v1.2h-1.2zM179.0,300.8h1.2v1.2h-1.2zM187.9,299.0h1.2v1.2h-1.2zM189.0,301.3h1.2v1.2h-1.2zM186.2,298.6h1.2v1.2h-1.2z" fill="#2d4aab"/>
<g filter="url(#bl)"><path d="M175.9,484.8 167.9,484.8 167.6,484.6 166.1,484.6 165.9,484.3 164.9,484.3 164.6,484.1 163.6,484.1 163.4,483.8 159.6,483.8 159.4,484.1 158.1,484.1 157.4,484.8 156.9,485.8 156.9,489.3 156.6,489.6 156.6,517.6 156.9,517.8 156.9,520.6 157.1,520.8 157.1,522.1 157.4,522.3 157.4,522.8 158.1,523.3 158.9,523.3 159.1,523.6 162.9,523.6 163.1,523.3 164.4,523.3 164.6,523.1 165.1,523.1 166.6,520.8 167.6,519.8 171.6,518.6 171.9,518.3 178.6,517.6 180.9,515.6 181.6,514.3 181.6,507.3 179.1,502.3 179.1,489.8 178.6,488.6 178.6,487.6 178.1,486.6Z" fill="#2b45a2" fill-rule="evenodd"/><path d="M176.1,485.3 175.6,485.3 175.4,485.1 167.9,485.1 167.6,484.8 166.4,484.8 166.1,484.6 165.1,484.6 164.9,484.3 162.6,484.1 162.4,483.8 158.6,484.1 157.4,485.1 157.4,485.6 156.9,486.6 156.6,514.6 156.9,514.8 157.1,521.1 157.4,521.3 157.4,522.3 157.9,523.1 158.4,523.1 158.6,523.3 160.1,523.3 160.4,523.6 161.9,523.6 162.1,523.3 164.6,523.1 165.6,522.3 166.4,520.8 167.6,519.6 171.6,518.1 178.6,517.3 180.1,516.1 181.4,514.3 181.4,507.6 178.9,502.6 178.9,490.3 178.6,490.1 178.4,488.1 177.9,486.8Z" fill="#3a55aa" fill-rule="evenodd"/><path d="M162.9,484.3 159.6,484.3 159.4,484.6 158.4,484.6 157.4,486.1 157.4,488.1 157.1,488.3 157.1,498.1 156.9,498.3 156.9,515.8 157.1,516.1 157.4,520.8 157.6,521.1 157.6,522.1 158.1,522.8 158.6,522.8 158.9,523.1 160.6,523.1 160.9,523.3 164.6,522.6 165.4,521.8 166.6,519.6 167.6,518.8 167.9,518.3 167.9,517.1 168.1,516.8 168.1,514.8 168.4,514.6 168.6,512.1 169.6,510.8 170.6,511.1 173.9,514.3 176.6,516.3 178.6,516.3 179.9,514.8 179.9,511.8 179.6,511.6 179.4,509.8 179.1,509.6 178.9,508.3 178.4,507.6 178.4,507.1 175.6,501.8 169.9,494.1 168.4,490.8 167.1,485.8 165.9,485.1 164.4,484.8 164.1,484.6 163.1,484.6Z" fill="#3c5db0" fill-rule="evenodd"/><path d="M161.9,484.3 158.9,484.6 157.9,485.3 157.6,486.6 157.4,486.8 157.1,503.8 156.9,504.1 157.1,517.6 157.4,517.8 157.4,520.1 157.6,520.3 157.9,522.3 158.6,522.8 159.9,522.8 160.1,523.1 162.9,522.8 164.9,522.1 166.4,518.8 166.6,516.1 166.9,515.8 166.9,514.1 167.1,513.8 167.1,511.8 167.4,511.6 167.6,509.3 168.6,508.1 169.6,508.1 170.1,508.3 171.1,509.3 171.4,509.3 173.4,511.6 175.4,513.1 176.9,513.3 177.4,513.1 177.9,511.8 177.9,510.8 177.6,510.6 177.4,508.6 177.1,508.3 176.9,507.1 176.1,505.8 176.1,505.3 173.4,500.8 169.4,495.8 167.4,491.8 165.6,485.8 164.1,484.8 162.1,484.6Z" fill="#3e6dbe" fill-rule="evenodd"/><path d="M160.4,484.6 160.1,484.8 158.6,484.8 157.6,486.3 157.6,489.3 157.4,489.6 157.4,495.6 157.1,495.8 157.1,517.3 157.4,517.6 157.4,518.8 157.6,519.1 157.6,521.1 157.9,521.3 157.9,522.1 158.9,522.8 162.1,522.8 162.4,522.6 163.1,522.6 164.4,522.1 164.9,521.3 165.1,519.8 165.4,519.6 165.4,518.6 165.6,518.3 165.6,517.3 165.9,517.1 165.9,515.8 166.1,515.6 166.1,513.8 166.4,513.6 166.6,509.8 166.9,509.6 166.9,508.6 167.6,506.8 168.4,506.3 169.4,506.3 169.9,506.6 174.6,510.8 175.9,510.8 176.1,510.6 176.1,508.1 175.9,507.8 175.6,506.6 174.1,503.6 168.9,496.6 166.1,490.6 166.1,490.1 165.9,489.8 164.6,485.8 163.9,485.1 163.4,485.1 162.4,484.6Z" fill="#3d8ad2" fill-rule="evenodd"/><path d="M159.9,484.8 159.6,485.1 158.6,485.1 157.9,486.3 157.9,487.6 157.6,487.8 157.4,497.6 157.1,497.8 157.1,516.6 157.4,516.8 157.6,520.6 157.9,520.8 158.1,522.3 158.6,522.6 159.9,522.6 160.1,522.8 161.4,522.8 163.4,522.1 164.1,520.8 164.1,520.1 164.6,519.1 164.9,517.1 165.1,516.8 165.4,514.1 165.6,513.8 166.1,507.8 166.4,507.6 166.4,506.8 166.9,505.6 167.9,504.6 169.1,504.3 170.4,504.8 172.4,506.3 173.1,506.6 173.1,505.3 172.1,503.3 169.1,498.8 167.1,494.8 167.1,494.3 166.4,493.1 166.4,492.6 165.9,491.8 165.9,491.3 165.4,490.6 165.4,490.1 164.9,489.3 164.4,487.6 163.6,486.3 163.6,485.8 162.9,485.1 162.4,485.1 162.1,484.8Z" fill="#3aa9e2" fill-rule="evenodd"/><path d="M159.9,485.1 159.6,485.3 158.9,485.3 158.1,486.3 158.1,487.1 157.9,487.3 157.9,489.6 157.6,489.8 157.4,498.8 157.1,499.1 157.1,515.3 157.4,515.6 157.6,520.1 157.9,520.3 158.1,522.1 158.9,522.6 161.6,522.6 162.9,521.6 163.9,519.1 163.9,518.3 164.1,518.1 164.1,517.3 164.6,516.1 164.6,515.1 164.9,514.8 165.1,511.3 165.4,511.1 165.4,509.1 165.6,508.8 165.6,507.1 165.9,506.8 166.1,505.1 166.9,503.8 168.9,502.1 168.9,500.3 168.6,500.1 168.4,498.8 167.9,498.1 167.9,497.6 167.4,496.8 167.4,496.3 165.9,493.3 165.4,491.6 162.9,486.3 162.4,485.6 161.6,485.1Z" fill="#3cbde9" fill-rule="evenodd"/><path d="M159.6,486.8 158.9,487.3 158.4,488.1 158.1,489.8 157.9,490.1 157.9,491.8 157.6,492.1 157.6,495.1 157.4,495.3 157.4,500.8 157.1,501.1 157.1,513.3 157.4,513.6 157.4,517.6 157.6,517.8 157.6,519.1 157.9,519.3 157.9,520.8 158.1,521.1 158.1,521.6 158.6,522.3 160.9,522.3 161.6,521.6 162.1,520.6 162.1,520.1 162.6,519.3 162.6,518.8 163.4,517.1 163.4,516.3 163.9,515.1 163.9,514.1 164.1,513.8 164.1,512.8 164.4,512.6 164.4,510.8 164.6,510.6 164.6,508.3 164.9,508.1 164.9,506.1 165.1,505.8 165.1,504.8 165.4,504.6 165.4,503.8 166.9,501.1 167.1,499.1 166.9,498.8 166.9,497.8 166.6,497.6 166.1,495.6 163.1,489.1 161.1,486.8Z" fill="#58c29c" fill-rule="evenodd"/><path d="M160.9,488.8 159.4,488.8 158.1,490.3 157.9,493.1 157.6,493.3 157.6,496.1 157.4,496.3 157.4,502.8 157.1,503.1 157.4,517.3 157.6,517.6 157.6,518.6 157.9,518.8 157.9,520.6 158.1,520.8 158.1,521.3 158.4,521.8 159.1,522.3 159.9,522.3 160.9,521.6 162.4,518.1 162.4,517.3 162.6,517.1 162.6,516.3 163.1,515.1 163.1,514.1 163.4,513.8 163.4,512.8 163.6,512.6 164.4,504.3 164.6,504.1 164.6,503.1 165.9,499.8 165.9,497.6 165.6,497.3 165.6,496.6 165.4,496.3 165.1,495.1 164.6,494.3 164.6,493.8 162.6,490.3Z" fill="#6ebf47" fill-rule="evenodd"/><path d="M158.9,493.3 158.4,493.6 157.9,494.8 157.9,496.3 157.6,496.6 157.6,499.6 157.4,499.8 157.4,514.6 157.6,514.8 157.6,517.3 158.1,518.6 158.1,519.6 158.9,520.6 159.4,520.6 160.4,519.6 161.4,517.1 161.4,516.3 161.6,516.1 161.6,514.8 161.9,514.6 161.9,513.3 162.1,513.1 162.1,510.6 162.4,510.3 162.4,503.3 162.1,503.1 162.1,500.3 161.9,500.1 161.9,498.6 161.6,498.3 161.6,497.3 161.4,497.1 161.1,495.6 160.4,494.1 159.6,493.3Z" fill="#80c443" fill-rule="evenodd"/><path d="M158.9,495.1 158.1,496.1 158.1,496.6 157.9,496.8 157.9,498.3 157.6,498.6 157.4,509.6 157.6,509.8 157.6,515.8 157.9,516.1 157.9,517.3 158.4,518.6 158.9,519.1 159.4,519.1 160.1,518.3 160.6,517.3 161.1,514.8 161.4,514.6 161.6,510.6 161.9,510.3 161.9,504.1 161.6,503.8 161.6,501.3 161.4,501.1 161.1,498.6 160.1,495.8 159.6,495.3Z" fill="#bcd42e" fill-rule="evenodd"/><path d="M158.9,496.3 158.1,497.3 158.1,498.1 157.9,498.3 157.9,500.3 157.6,500.6 157.6,513.8 157.9,514.1 157.9,516.1 158.1,516.3 158.1,517.1 158.4,517.6 159.1,518.1 159.6,517.8 160.1,517.1 160.9,515.1 161.1,512.6 161.4,512.3 161.6,505.6 161.4,505.3 161.4,502.3 161.1,502.1 161.1,500.8 160.9,500.6 160.6,498.6 159.6,496.6Z" fill="#fae515" fill-rule="evenodd"/><path d="M158.6,498.6 158.4,498.8 158.1,500.6 157.9,500.8 157.9,513.3 158.1,513.6 158.1,514.8 158.4,515.1 158.4,515.6 159.1,516.1 160.1,514.8 160.4,513.3 160.6,513.1 160.6,512.1 160.9,511.8 161.1,505.8 160.9,505.6 160.9,503.1 160.6,502.8 160.6,501.6 160.4,501.3 160.1,499.8 159.4,498.6Z" fill="#f6a11c" fill-rule="evenodd"/><path d="M158.6,500.8 158.4,502.1 158.1,502.3 158.1,511.6 158.4,511.8 158.4,512.8 158.9,513.6 159.4,513.6 159.9,512.8 160.1,511.1 160.4,510.8 160.4,504.1 160.1,503.8 160.1,502.6 159.4,500.8Z" fill="#e5262a" fill-rule="evenodd"/></g>
<path d="M185.7,494.1h1.2v1.2h-1.2zM179.2,512.2h1.2v1.2h-1.2zM180.3,493.7h1.2v1.2h-1.2zM183.6,498.5h1.2v1.2h-1.2zM185.2,496.1h1.2v1.2h-1.2zM185.7,497.9h1.2v1.2h-1.2zM188.0,509.2h1.2v1.2h-1.2zM188.4,509.1h1.2v1.2h-1.2zM188.5,496.9h1.2v1.2h-1.2z" fill="#2d4aab"/>
<rect x="136.3" y="267.9" width="69.2" height="69" fill="none" stroke="#000" stroke-width="1.3"/>
<path d="M134.7,267.9h1.6M134.7,270.8h1.6M134.7,273.6h1.6M134.7,276.5h1.6M134.7,279.4h1.6M134.7,282.3h1.6M134.7,285.1h1.6M134.7,288.0h1.6M134.7,290.9h1.6M134.7,293.8h1.6M134.7,296.6h1.6M134.7,299.5h1.6M134.7,302.4h1.6M134.7,305.3h1.6M134.7,308.1h1.6M134.7,311.0h1.6M134.7,313.9h1.6M134.7,316.8h1.6M134.7,319.6h1.6M134.7,322.5h1.6M134.7,325.4h1.6M134.7,328.3h1.6M134.7,331.1h1.6M134.7,334.0h1.6M134.7,336.9h1.6M133.7,270.5h2.6M133.7,292.5h2.6M133.7,314.5h2.6M133.7,336.5h2.6" stroke="#000" stroke-width="0.5" fill="none"/>
<text x="131.7" y="272.77" font-size="6.3" text-anchor="end">60K</text>
<text x="131.7" y="294.77" font-size="6.3" text-anchor="end">40K</text>
<text x="131.7" y="316.77" font-size="6.3" text-anchor="end">20K</text>
<text x="131.7" y="338.77" font-size="6.3" text-anchor="end">0</text>
<text x="111.2" y="306.72" font-size="10.6" text-anchor="middle" textLength="19.8" lengthAdjust="spacingAndGlyphs" transform="rotate(-90 111.2 302.9)">SSC-A</text>
<path d="M136.3,336.9v1.6M139.4,336.9v1.6M142.6,336.9v1.6M145.7,336.9v1.6M148.9,336.9v1.6M152.0,336.9v1.6M155.2,336.9v1.6M158.3,336.9v1.6M161.5,336.9v1.6M164.6,336.9v1.6M167.8,336.9v1.6M170.9,336.9v1.6M174.0,336.9v1.6M177.2,336.9v1.6M180.3,336.9v1.6M183.5,336.9v1.6M186.6,336.9v1.6M189.8,336.9v1.6M192.9,336.9v1.6M196.1,336.9v1.6M199.2,336.9v1.6M202.4,336.9v1.6M205.5,336.9v1.6M142.1,336.9v2.6M159.8,336.9v2.6M177.7,336.9v2.6M190.6,336.9v2.6M201.0,336.9v2.6" stroke="#000" stroke-width="0.5" fill="none"/>
<rect x="155.3" y="337.2" width="7" height="1.4" fill="#000"/>
<text x="142.1" y="346.84" font-size="6.5" text-anchor="middle">−10<tspan font-size="5.1" dy="-2.34">4</tspan></text>
<text x="159.8" y="346.84" font-size="6.5" text-anchor="middle">0</text>
<text x="177.7" y="346.84" font-size="6.5" text-anchor="middle">10<tspan font-size="5.1" dy="-2.34">4</tspan></text>
<text x="190.6" y="346.84" font-size="6.5" text-anchor="middle">10<tspan font-size="5.1" dy="-2.34">5</tspan></text>
<text x="201" y="346.84" font-size="6.5" text-anchor="middle">10<tspan font-size="5.1" dy="-2.34">6</tspan></text>
<text x="170.3" y="357.57" font-size="10.2" text-anchor="middle" textLength="25.5" lengthAdjust="spacingAndGlyphs">Lineage</text>
<rect x="235" y="267.9" width="69.2" height="69" fill="none" stroke="#000" stroke-width="1.3"/>
<path d="M233.4,267.9h1.6M233.4,270.8h1.6M233.4,273.6h1.6M233.4,276.5h1.6M233.4,279.4h1.6M233.4,282.3h1.6M233.4,285.1h1.6M233.4,288.0h1.6M233.4,290.9h1.6M233.4,293.8h1.6M233.4,296.6h1.6M233.4,299.5h1.6M233.4,302.4h1.6M233.4,305.3h1.6M233.4,308.1h1.6M233.4,311.0h1.6M233.4,313.9h1.6M233.4,316.8h1.6M233.4,319.6h1.6M233.4,322.5h1.6M233.4,325.4h1.6M233.4,328.3h1.6M233.4,331.1h1.6M233.4,334.0h1.6M233.4,336.9h1.6M232.4,280.4h2.6M232.4,294.9h2.6M232.4,309.4h2.6M232.4,326.2h2.6" stroke="#000" stroke-width="0.5" fill="none"/>
<text x="230.8" y="282.67" font-size="6.3" text-anchor="end">10<tspan font-size="5.1" dy="-2.27">5</tspan></text>
<text x="230.8" y="297.17" font-size="6.3" text-anchor="end">10<tspan font-size="5.1" dy="-2.27">4</tspan></text>
<text x="230.8" y="311.67" font-size="6.3" text-anchor="end">10<tspan font-size="5.1" dy="-2.27">3</tspan></text>
<text x="230.8" y="328.47" font-size="6.3" text-anchor="end">0</text>
<text x="216" y="306.72" font-size="10.6" text-anchor="middle" textLength="17.2" lengthAdjust="spacingAndGlyphs" transform="rotate(-90 216 302.9)">Sca-1</text>
<path d="M235.0,336.9v1.6M238.1,336.9v1.6M241.3,336.9v1.6M244.4,336.9v1.6M247.6,336.9v1.6M250.7,336.9v1.6M253.9,336.9v1.6M257.0,336.9v1.6M260.2,336.9v1.6M263.3,336.9v1.6M266.5,336.9v1.6M269.6,336.9v1.6M272.7,336.9v1.6M275.9,336.9v1.6M279.0,336.9v1.6M282.2,336.9v1.6M285.3,336.9v1.6M288.5,336.9v1.6M291.6,336.9v1.6M294.8,336.9v1.6M297.9,336.9v1.6M301.1,336.9v1.6M304.2,336.9v1.6M240.2,336.9v2.6M250.0,336.9v2.6M264.5,336.9v2.6M284.0,336.9v2.6M299.2,336.9v2.6" stroke="#000" stroke-width="0.5" fill="none"/>
<rect x="246" y="337.2" width="7" height="1.4" fill="#000"/>
<text x="240.2" y="346.84" font-size="6.5" text-anchor="middle">−10<tspan font-size="5.1" dy="-2.34">3</tspan></text>
<text x="250" y="346.84" font-size="6.5" text-anchor="middle">0</text>
<text x="264.5" y="346.84" font-size="6.5" text-anchor="middle">10<tspan font-size="5.1" dy="-2.34">3</tspan></text>
<text x="284" y="346.84" font-size="6.5" text-anchor="middle">10<tspan font-size="5.1" dy="-2.34">4</tspan></text>
<text x="299.2" y="346.84" font-size="6.5" text-anchor="middle">10<tspan font-size="5.1" dy="-2.34">5</tspan></text>
<text x="269" y="357.57" font-size="10.2" text-anchor="middle" textLength="14.5" lengthAdjust="spacingAndGlyphs">c-Kit</text>
<rect x="337.9" y="267.9" width="69.2" height="69" fill="none" stroke="#000" stroke-width="1.3"/>
<path d="M336.3,267.9h1.6M336.3,270.8h1.6M336.3,273.6h1.6M336.3,276.5h1.6M336.3,279.4h1.6M336.3,282.3h1.6M336.3,285.1h1.6M336.3,288.0h1.6M336.3,290.9h1.6M336.3,293.8h1.6M336.3,296.6h1.6M336.3,299.5h1.6M336.3,302.4h1.6M336.3,305.3h1.6M336.3,308.1h1.6M336.3,311.0h1.6M336.3,313.9h1.6M336.3,316.8h1.6M336.3,319.6h1.6M336.3,322.5h1.6M336.3,325.4h1.6M336.3,328.3h1.6M336.3,331.1h1.6M336.3,334.0h1.6M336.3,336.9h1.6M335.3,270.5h2.6M335.3,292.5h2.6M335.3,314.5h2.6M335.3,336.5h2.6" stroke="#000" stroke-width="0.5" fill="none"/>
<text x="333.3" y="272.77" font-size="6.3" text-anchor="end">60K</text>
<text x="333.3" y="294.77" font-size="6.3" text-anchor="end">40K</text>
<text x="333.3" y="316.77" font-size="6.3" text-anchor="end">20K</text>
<text x="333.3" y="338.77" font-size="6.3" text-anchor="end">0</text>
<text x="314.6" y="306.72" font-size="10.6" text-anchor="middle" textLength="19.8" lengthAdjust="spacingAndGlyphs" transform="rotate(-90 314.6 302.9)">SSC-A</text>
<path d="M337.9,336.9v1.6M341.0,336.9v1.6M344.2,336.9v1.6M347.3,336.9v1.6M350.5,336.9v1.6M353.6,336.9v1.6M356.8,336.9v1.6M359.9,336.9v1.6M363.1,336.9v1.6M366.2,336.9v1.6M369.4,336.9v1.6M372.5,336.9v1.6M375.6,336.9v1.6M378.8,336.9v1.6M381.9,336.9v1.6M385.1,336.9v1.6M388.2,336.9v1.6M391.4,336.9v1.6M394.5,336.9v1.6M397.7,336.9v1.6M400.8,336.9v1.6M404.0,336.9v1.6M407.1,336.9v1.6M348.9,336.9v2.6M360.9,336.9v2.6M372.4,336.9v2.6M387.7,336.9v2.6M400.7,336.9v2.6" stroke="#000" stroke-width="0.5" fill="none"/>
<rect x="357.9" y="337.2" width="7" height="1.4" fill="#000"/>
<text x="348.9" y="346.84" font-size="6.5" text-anchor="middle">−10<tspan font-size="5.1" dy="-2.34">3</tspan></text>
<text x="360.9" y="346.84" font-size="6.5" text-anchor="middle">0</text>
<text x="372.4" y="346.84" font-size="6.5" text-anchor="middle">10<tspan font-size="5.1" dy="-2.34">3</tspan></text>
<text x="387.7" y="346.84" font-size="6.5" text-anchor="middle">10<tspan font-size="5.1" dy="-2.34">4</tspan></text>
<text x="400.7" y="346.84" font-size="6.5" text-anchor="middle">10<tspan font-size="5.1" dy="-2.34">5</tspan></text>
<text x="371.9" y="357.57" font-size="10.2" text-anchor="middle" textLength="18.3" lengthAdjust="spacingAndGlyphs">CD34</text>
<rect x="437" y="267.9" width="69.2" height="69" fill="none" stroke="#000" stroke-width="1.3"/>
<path d="M435.4,267.9h1.6M435.4,270.8h1.6M435.4,273.6h1.6M435.4,276.5h1.6M435.4,279.4h1.6M435.4,282.3h1.6M435.4,285.1h1.6M435.4,288.0h1.6M435.4,290.9h1.6M435.4,293.8h1.6M435.4,296.6h1.6M435.4,299.5h1.6M435.4,302.4h1.6M435.4,305.3h1.6M435.4,308.1h1.6M435.4,311.0h1.6M435.4,313.9h1.6M435.4,316.8h1.6M435.4,319.6h1.6M435.4,322.5h1.6M435.4,325.4h1.6M435.4,328.3h1.6M435.4,331.1h1.6M435.4,334.0h1.6M435.4,336.9h1.6M434.4,275.1h2.6M434.4,291.1h2.6M434.4,309.5h2.6M434.4,323.3h2.6M434.4,335.2h2.6" stroke="#000" stroke-width="0.5" fill="none"/>
<text x="433.6" y="277.37" font-size="6.3" text-anchor="end">10<tspan font-size="5.1" dy="-2.27">5</tspan></text>
<text x="433.6" y="293.37" font-size="6.3" text-anchor="end">10<tspan font-size="5.1" dy="-2.27">4</tspan></text>
<text x="433.6" y="311.77" font-size="6.3" text-anchor="end">10<tspan font-size="5.1" dy="-2.27">3</tspan></text>
<text x="433.6" y="325.57" font-size="6.3" text-anchor="end">0</text>
<text x="433.6" y="337.47" font-size="6.3" text-anchor="end">−10<tspan font-size="5.1" dy="-2.27">3</tspan></text>
<text x="417.6" y="306.72" font-size="10.6" text-anchor="middle" textLength="18.4" lengthAdjust="spacingAndGlyphs" transform="rotate(-90 417.6 302.9)">CD48</text>
<path d="M437.0,336.9v1.6M440.1,336.9v1.6M443.3,336.9v1.6M446.4,336.9v1.6M449.6,336.9v1.6M452.7,336.9v1.6M455.9,336.9v1.6M459.0,336.9v1.6M462.2,336.9v1.6M465.3,336.9v1.6M468.5,336.9v1.6M471.6,336.9v1.6M474.7,336.9v1.6M477.9,336.9v1.6M481.0,336.9v1.6M484.2,336.9v1.6M487.3,336.9v1.6M490.5,336.9v1.6M493.6,336.9v1.6M496.8,336.9v1.6M499.9,336.9v1.6M503.1,336.9v1.6M506.2,336.9v1.6M449.4,336.9v2.6M464.9,336.9v2.6M478.4,336.9v2.6M490.5,336.9v2.6M501.2,336.9v2.6" stroke="#000" stroke-width="0.5" fill="none"/>
<rect x="446" y="337.2" width="7" height="1.4" fill="#000"/>
<text x="449.4" y="346.84" font-size="6.5" text-anchor="middle">0</text>
<text x="464.9" y="346.84" font-size="6.5" text-anchor="middle">10<tspan font-size="5.1" dy="-2.34">3</tspan></text>
<text x="478.4" y="346.84" font-size="6.5" text-anchor="middle">10<tspan font-size="5.1" dy="-2.34">4</tspan></text>
<text x="490.5" y="346.84" font-size="6.5" text-anchor="middle">10<tspan font-size="5.1" dy="-2.34">5</tspan></text>
<text x="501.2" y="346.84" font-size="6.5" text-anchor="middle">10<tspan font-size="5.1" dy="-2.34">6</tspan></text>
<text x="471" y="357.57" font-size="10.2" text-anchor="middle" textLength="22.5" lengthAdjust="spacingAndGlyphs">CD150</text>
<rect x="136.3" y="368.5" width="69.2" height="69" fill="none" stroke="#000" stroke-width="1.3"/>
<path d="M134.7,368.5h1.6M134.7,371.4h1.6M134.7,374.2h1.6M134.7,377.1h1.6M134.7,380.0h1.6M134.7,382.9h1.6M134.7,385.8h1.6M134.7,388.6h1.6M134.7,391.5h1.6M134.7,394.4h1.6M134.7,397.2h1.6M134.7,400.1h1.6M134.7,403.0h1.6M134.7,405.9h1.6M134.7,408.8h1.6M134.7,411.6h1.6M134.7,414.5h1.6M134.7,417.4h1.6M134.7,420.2h1.6M134.7,423.1h1.6M134.7,426.0h1.6M134.7,428.9h1.6M134.7,431.8h1.6M134.7,434.6h1.6M134.7,437.5h1.6M133.7,371.1h2.6M133.7,393.1h2.6M133.7,415.1h2.6M133.7,437.1h2.6" stroke="#000" stroke-width="0.5" fill="none"/>
<text x="131.7" y="373.37" font-size="6.3" text-anchor="end">60K</text>
<text x="131.7" y="395.37" font-size="6.3" text-anchor="end">40K</text>
<text x="131.7" y="417.37" font-size="6.3" text-anchor="end">20K</text>
<text x="131.7" y="439.37" font-size="6.3" text-anchor="end">0</text>
<text x="111.2" y="407.32" font-size="10.6" text-anchor="middle" textLength="19.8" lengthAdjust="spacingAndGlyphs" transform="rotate(-90 111.2 403.5)">SSC-A</text>
<path d="M136.3,437.5v1.6M139.4,437.5v1.6M142.6,437.5v1.6M145.7,437.5v1.6M148.9,437.5v1.6M152.0,437.5v1.6M155.2,437.5v1.6M158.3,437.5v1.6M161.5,437.5v1.6M164.6,437.5v1.6M167.8,437.5v1.6M170.9,437.5v1.6M174.0,437.5v1.6M177.2,437.5v1.6M180.3,437.5v1.6M183.5,437.5v1.6M186.6,437.5v1.6M189.8,437.5v1.6M192.9,437.5v1.6M196.1,437.5v1.6M199.2,437.5v1.6M202.4,437.5v1.6M205.5,437.5v1.6M142.1,437.5v2.6M159.8,437.5v2.6M177.7,437.5v2.6M190.6,437.5v2.6M201.0,437.5v2.6" stroke="#000" stroke-width="0.5" fill="none"/>
<rect x="155.3" y="437.8" width="7" height="1.4" fill="#000"/>
<text x="142.1" y="447.44" font-size="6.5" text-anchor="middle">−10<tspan font-size="5.1" dy="-2.34">4</tspan></text>
<text x="159.8" y="447.44" font-size="6.5" text-anchor="middle">0</text>
<text x="177.7" y="447.44" font-size="6.5" text-anchor="middle">10<tspan font-size="5.1" dy="-2.34">4</tspan></text>
<text x="190.6" y="447.44" font-size="6.5" text-anchor="middle">10<tspan font-size="5.1" dy="-2.34">5</tspan></text>
<text x="201" y="447.44" font-size="6.5" text-anchor="middle">10<tspan font-size="5.1" dy="-2.34">6</tspan></text>
<text x="170.3" y="458.17" font-size="10.2" text-anchor="middle" textLength="25.5" lengthAdjust="spacingAndGlyphs">Lineage</text>
<rect x="235" y="368.5" width="69.2" height="69" fill="none" stroke="#000" stroke-width="1.3"/>
<path d="M233.4,368.5h1.6M233.4,371.4h1.6M233.4,374.2h1.6M233.4,377.1h1.6M233.4,380.0h1.6M233.4,382.9h1.6M233.4,385.8h1.6M233.4,388.6h1.6M233.4,391.5h1.6M233.4,394.4h1.6M233.4,397.2h1.6M233.4,400.1h1.6M233.4,403.0h1.6M233.4,405.9h1.6M233.4,408.8h1.6M233.4,411.6h1.6M233.4,414.5h1.6M233.4,417.4h1.6M233.4,420.2h1.6M233.4,423.1h1.6M233.4,426.0h1.6M233.4,428.9h1.6M233.4,431.8h1.6M233.4,434.6h1.6M233.4,437.5h1.6M232.4,381.0h2.6M232.4,395.5h2.6M232.4,410.0h2.6M232.4,426.8h2.6" stroke="#000" stroke-width="0.5" fill="none"/>
<text x="230.8" y="383.27" font-size="6.3" text-anchor="end">10<tspan font-size="5.1" dy="-2.27">5</tspan></text>
<text x="230.8" y="397.77" font-size="6.3" text-anchor="end">10<tspan font-size="5.1" dy="-2.27">4</tspan></text>
<text x="230.8" y="412.27" font-size="6.3" text-anchor="end">10<tspan font-size="5.1" dy="-2.27">3</tspan></text>
<text x="230.8" y="429.07" font-size="6.3" text-anchor="end">0</text>
<text x="216" y="407.32" font-size="10.6" text-anchor="middle" textLength="17.2" lengthAdjust="spacingAndGlyphs" transform="rotate(-90 216 403.5)">Sca-1</text>
<path d="M235.0,437.5v1.6M238.1,437.5v1.6M241.3,437.5v1.6M244.4,437.5v1.6M247.6,437.5v1.6M250.7,437.5v1.6M253.9,437.5v1.6M257.0,437.5v1.6M260.2,437.5v1.6M263.3,437.5v1.6M266.5,437.5v1.6M269.6,437.5v1.6M272.7,437.5v1.6M275.9,437.5v1.6M279.0,437.5v1.6M282.2,437.5v1.6M285.3,437.5v1.6M288.5,437.5v1.6M291.6,437.5v1.6M294.8,437.5v1.6M297.9,437.5v1.6M301.1,437.5v1.6M304.2,437.5v1.6M240.2,437.5v2.6M250.0,437.5v2.6M264.5,437.5v2.6M284.0,437.5v2.6M299.2,437.5v2.6" stroke="#000" stroke-width="0.5" fill="none"/>
<rect x="246" y="437.8" width="7" height="1.4" fill="#000"/>
<text x="240.2" y="447.44" font-size="6.5" text-anchor="middle">−10<tspan font-size="5.1" dy="-2.34">3</tspan></text>
<text x="250" y="447.44" font-size="6.5" text-anchor="middle">0</text>
<text x="264.5" y="447.44" font-size="6.5" text-anchor="middle">10<tspan font-size="5.1" dy="-2.34">3</tspan></text>
<text x="284" y="447.44" font-size="6.5" text-anchor="middle">10<tspan font-size="5.1" dy="-2.34">4</tspan></text>
<text x="299.2" y="447.44" font-size="6.5" text-anchor="middle">10<tspan font-size="5.1" dy="-2.34">5</tspan></text>
<text x="269" y="458.17" font-size="10.2" text-anchor="middle" textLength="14.5" lengthAdjust="spacingAndGlyphs">c-Kit</text>
<rect x="337.9" y="368.5" width="69.2" height="69" fill="none" stroke="#000" stroke-width="1.3"/>
<path d="M336.3,368.5h1.6M336.3,371.4h1.6M336.3,374.2h1.6M336.3,377.1h1.6M336.3,380.0h1.6M336.3,382.9h1.6M336.3,385.8h1.6M336.3,388.6h1.6M336.3,391.5h1.6M336.3,394.4h1.6M336.3,397.2h1.6M336.3,400.1h1.6M336.3,403.0h1.6M336.3,405.9h1.6M336.3,408.8h1.6M336.3,411.6h1.6M336.3,414.5h1.6M336.3,417.4h1.6M336.3,420.2h1.6M336.3,423.1h1.6M336.3,426.0h1.6M336.3,428.9h1.6M336.3,431.8h1.6M336.3,434.6h1.6M336.3,437.5h1.6M335.3,371.1h2.6M335.3,393.1h2.6M335.3,415.1h2.6M335.3,437.1h2.6" stroke="#000" stroke-width="0.5" fill="none"/>
<text x="333.3" y="373.37" font-size="6.3" text-anchor="end">60K</text>
<text x="333.3" y="395.37" font-size="6.3" text-anchor="end">40K</text>
<text x="333.3" y="417.37" font-size="6.3" text-anchor="end">20K</text>
<text x="333.3" y="439.37" font-size="6.3" text-anchor="end">0</text>
<text x="314.6" y="407.32" font-size="10.6" text-anchor="middle" textLength="19.8" lengthAdjust="spacingAndGlyphs" transform="rotate(-90 314.6 403.5)">SSC-A</text>
<path d="M337.9,437.5v1.6M341.0,437.5v1.6M344.2,437.5v1.6M347.3,437.5v1.6M350.5,437.5v1.6M353.6,437.5v1.6M356.8,437.5v1.6M359.9,437.5v1.6M363.1,437.5v1.6M366.2,437.5v1.6M369.4,437.5v1.6M372.5,437.5v1.6M375.6,437.5v1.6M378.8,437.5v1.6M381.9,437.5v1.6M385.1,437.5v1.6M388.2,437.5v1.6M391.4,437.5v1.6M394.5,437.5v1.6M397.7,437.5v1.6M400.8,437.5v1.6M404.0,437.5v1.6M407.1,437.5v1.6M348.9,437.5v2.6M360.9,437.5v2.6M372.4,437.5v2.6M387.7,437.5v2.6M400.7,437.5v2.6" stroke="#000" stroke-width="0.5" fill="none"/>
<rect x="357.9" y="437.8" width="7" height="1.4" fill="#000"/>
<text x="348.9" y="447.44" font-size="6.5" text-anchor="middle">−10<tspan font-size="5.1" dy="-2.34">3</tspan></text>
<text x="360.9" y="447.44" font-size="6.5" text-anchor="middle">0</text>
<text x="372.4" y="447.44" font-size="6.5" text-anchor="middle">10<tspan font-size="5.1" dy="-2.34">3</tspan></text>
<text x="387.7" y="447.44" font-size="6.5" text-anchor="middle">10<tspan font-size="5.1" dy="-2.34">4</tspan></text>
<text x="400.7" y="447.44" font-size="6.5" text-anchor="middle">10<tspan font-size="5.1" dy="-2.34">5</tspan></text>
<text x="371.9" y="458.17" font-size="10.2" text-anchor="middle" textLength="18.3" lengthAdjust="spacingAndGlyphs">CD34</text>
<rect x="437" y="368.5" width="69.2" height="69" fill="none" stroke="#000" stroke-width="1.3"/>
<path d="M435.4,368.5h1.6M435.4,371.4h1.6M435.4,374.2h1.6M435.4,377.1h1.6M435.4,380.0h1.6M435.4,382.9h1.6M435.4,385.8h1.6M435.4,388.6h1.6M435.4,391.5h1.6M435.4,394.4h1.6M435.4,397.2h1.6M435.4,400.1h1.6M435.4,403.0h1.6M435.4,405.9h1.6M435.4,408.8h1.6M435.4,411.6h1.6M435.4,414.5h1.6M435.4,417.4h1.6M435.4,420.2h1.6M435.4,423.1h1.6M435.4,426.0h1.6M435.4,428.9h1.6M435.4,431.8h1.6M435.4,434.6h1.6M435.4,437.5h1.6M434.4,375.7h2.6M434.4,391.7h2.6M434.4,410.1h2.6M434.4,423.9h2.6M434.4,435.8h2.6" stroke="#000" stroke-width="0.5" fill="none"/>
<text x="433.6" y="377.97" font-size="6.3" text-anchor="end">10<tspan font-size="5.1" dy="-2.27">5</tspan></text>
<text x="433.6" y="393.97" font-size="6.3" text-anchor="end">10<tspan font-size="5.1" dy="-2.27">4</tspan></text>
<text x="433.6" y="412.37" font-size="6.3" text-anchor="end">10<tspan font-size="5.1" dy="-2.27">3</tspan></text>
<text x="433.6" y="426.17" font-size="6.3" text-anchor="end">0</text>
<text x="433.6" y="438.07" font-size="6.3" text-anchor="end">−10<tspan font-size="5.1" dy="-2.27">3</tspan></text>
<text x="417.6" y="407.32" font-size="10.6" text-anchor="middle" textLength="18.4" lengthAdjust="spacingAndGlyphs" transform="rotate(-90 417.6 403.5)">CD48</text>
<path d="M437.0,437.5v1.6M440.1,437.5v1.6M443.3,437.5v1.6M446.4,437.5v1.6M449.6,437.5v1.6M452.7,437.5v1.6M455.9,437.5v1.6M459.0,437.5v1.6M462.2,437.5v1.6M465.3,437.5v1.6M468.5,437.5v1.6M471.6,437.5v1.6M474.7,437.5v1.6M477.9,437.5v1.6M481.0,437.5v1.6M484.2,437.5v1.6M487.3,437.5v1.6M490.5,437.5v1.6M493.6,437.5v1.6M496.8,437.5v1.6M499.9,437.5v1.6M503.1,437.5v1.6M506.2,437.5v1.6M449.4,437.5v2.6M464.9,437.5v2.6M478.4,437.5v2.6M490.5,437.5v2.6M501.2,437.5v2.6" stroke="#000" stroke-width="0.5" fill="none"/>
<rect x="446" y="437.8" width="7" height="1.4" fill="#000"/>
<text x="449.4" y="447.44" font-size="6.5" text-anchor="middle">0</text>
<text x="464.9" y="447.44" font-size="6.5" text-anchor="middle">10<tspan font-size="5.1" dy="-2.34">3</tspan></text>
<text x="478.4" y="447.44" font-size="6.5" text-anchor="middle">10<tspan font-size="5.1" dy="-2.34">4</tspan></text>
<text x="490.5" y="447.44" font-size="6.5" text-anchor="middle">10<tspan font-size="5.1" dy="-2.34">5</tspan></text>
<text x="501.2" y="447.44" font-size="6.5" text-anchor="middle">10<tspan font-size="5.1" dy="-2.34">6</tspan></text>
<text x="471" y="458.17" font-size="10.2" text-anchor="middle" textLength="22.5" lengthAdjust="spacingAndGlyphs">CD150</text>
<rect x="136.3" y="467" width="69.2" height="69" fill="none" stroke="#000" stroke-width="1.3"/>
<path d="M134.7,467.0h1.6M134.7,469.9h1.6M134.7,472.8h1.6M134.7,475.6h1.6M134.7,478.5h1.6M134.7,481.4h1.6M134.7,484.2h1.6M134.7,487.1h1.6M134.7,490.0h1.6M134.7,492.9h1.6M134.7,495.8h1.6M134.7,498.6h1.6M134.7,501.5h1.6M134.7,504.4h1.6M134.7,507.2h1.6M134.7,510.1h1.6M134.7,513.0h1.6M134.7,515.9h1.6M134.7,518.8h1.6M134.7,521.6h1.6M134.7,524.5h1.6M134.7,527.4h1.6M134.7,530.2h1.6M134.7,533.1h1.6M134.7,536.0h1.6M133.7,469.6h2.6M133.7,491.6h2.6M133.7,513.6h2.6M133.7,535.6h2.6" stroke="#000" stroke-width="0.5" fill="none"/>
<text x="131.7" y="471.87" font-size="6.3" text-anchor="end">60K</text>
<text x="131.7" y="493.87" font-size="6.3" text-anchor="end">40K</text>
<text x="131.7" y="515.87" font-size="6.3" text-anchor="end">20K</text>
<text x="131.7" y="537.87" font-size="6.3" text-anchor="end">0</text>
<text x="111.2" y="505.82" font-size="10.6" text-anchor="middle" textLength="19.8" lengthAdjust="spacingAndGlyphs" transform="rotate(-90 111.2 502)">SSC-A</text>
<path d="M136.3,536.0v1.6M139.4,536.0v1.6M142.6,536.0v1.6M145.7,536.0v1.6M148.9,536.0v1.6M152.0,536.0v1.6M155.2,536.0v1.6M158.3,536.0v1.6M161.5,536.0v1.6M164.6,536.0v1.6M167.8,536.0v1.6M170.9,536.0v1.6M174.0,536.0v1.6M177.2,536.0v1.6M180.3,536.0v1.6M183.5,536.0v1.6M186.6,536.0v1.6M189.8,536.0v1.6M192.9,536.0v1.6M196.1,536.0v1.6M199.2,536.0v1.6M202.4,536.0v1.6M205.5,536.0v1.6M142.1,536.0v2.6M159.8,536.0v2.6M177.7,536.0v2.6M190.6,536.0v2.6M201.0,536.0v2.6" stroke="#000" stroke-width="0.5" fill="none"/>
<rect x="155.3" y="536.3" width="7" height="1.4" fill="#000"/>
<text x="142.1" y="545.94" font-size="6.5" text-anchor="middle">−10<tspan font-size="5.1" dy="-2.34">4</tspan></text>
<text x="159.8" y="545.94" font-size="6.5" text-anchor="middle">0</text>
<text x="177.7" y="545.94" font-size="6.5" text-anchor="middle">10<tspan font-size="5.1" dy="-2.34">4</tspan></text>
<text x="190.6" y="545.94" font-size="6.5" text-anchor="middle">10<tspan font-size="5.1" dy="-2.34">5</tspan></text>
<text x="201" y="545.94" font-size="6.5" text-anchor="middle">10<tspan font-size="5.1" dy="-2.34">6</tspan></text>
<text x="170.3" y="556.67" font-size="10.2" text-anchor="middle" textLength="25.5" lengthAdjust="spacingAndGlyphs">Lineage</text>
<rect x="235" y="467" width="69.2" height="69" fill="none" stroke="#000" stroke-width="1.3"/>
<path d="M233.4,467.0h1.6M233.4,469.9h1.6M233.4,472.8h1.6M233.4,475.6h1.6M233.4,478.5h1.6M233.4,481.4h1.6M233.4,484.2h1.6M233.4,487.1h1.6M233.4,490.0h1.6M233.4,492.9h1.6M233.4,495.8h1.6M233.4,498.6h1.6M233.4,501.5h1.6M233.4,504.4h1.6M233.4,507.2h1.6M233.4,510.1h1.6M233.4,513.0h1.6M233.4,515.9h1.6M233.4,518.8h1.6M233.4,521.6h1.6M233.4,524.5h1.6M233.4,527.4h1.6M233.4,530.2h1.6M233.4,533.1h1.6M233.4,536.0h1.6M232.4,479.5h2.6M232.4,494.0h2.6M232.4,508.5h2.6M232.4,525.3h2.6" stroke="#000" stroke-width="0.5" fill="none"/>
<text x="230.8" y="481.77" font-size="6.3" text-anchor="end">10<tspan font-size="5.1" dy="-2.27">5</tspan></text>
<text x="230.8" y="496.27" font-size="6.3" text-anchor="end">10<tspan font-size="5.1" dy="-2.27">4</tspan></text>
<text x="230.8" y="510.77" font-size="6.3" text-anchor="end">10<tspan font-size="5.1" dy="-2.27">3</tspan></text>
<text x="230.8" y="527.57" font-size="6.3" text-anchor="end">0</text>
<text x="216" y="505.82" font-size="10.6" text-anchor="middle" textLength="17.2" lengthAdjust="spacingAndGlyphs" transform="rotate(-90 216 502)">Sca-1</text>
<path d="M235.0,536.0v1.6M238.1,536.0v1.6M241.3,536.0v1.6M244.4,536.0v1.6M247.6,536.0v1.6M250.7,536.0v1.6M253.9,536.0v1.6M257.0,536.0v1.6M260.2,536.0v1.6M263.3,536.0v1.6M266.5,536.0v1.6M269.6,536.0v1.6M272.7,536.0v1.6M275.9,536.0v1.6M279.0,536.0v1.6M282.2,536.0v1.6M285.3,536.0v1.6M288.5,536.0v1.6M291.6,536.0v1.6M294.8,536.0v1.6M297.9,536.0v1.6M301.1,536.0v1.6M304.2,536.0v1.6M240.2,536.0v2.6M250.0,536.0v2.6M264.5,536.0v2.6M284.0,536.0v2.6M299.2,536.0v2.6" stroke="#000" stroke-width="0.5" fill="none"/>
<rect x="246" y="536.3" width="7" height="1.4" fill="#000"/>
<text x="240.2" y="545.94" font-size="6.5" text-anchor="middle">−10<tspan font-size="5.1" dy="-2.34">3</tspan></text>
<text x="250" y="545.94" font-size="6.5" text-anchor="middle">0</text>
<text x="264.5" y="545.94" font-size="6.5" text-anchor="middle">10<tspan font-size="5.1" dy="-2.34">3</tspan></text>
<text x="284" y="545.94" font-size="6.5" text-anchor="middle">10<tspan font-size="5.1" dy="-2.34">4</tspan></text>
<text x="299.2" y="545.94" font-size="6.5" text-anchor="middle">10<tspan font-size="5.1" dy="-2.34">5</tspan></text>
<text x="269" y="556.67" font-size="10.2" text-anchor="middle" textLength="14.5" lengthAdjust="spacingAndGlyphs">c-Kit</text>
<rect x="337.9" y="467" width="69.2" height="69" fill="none" stroke="#000" stroke-width="1.3"/>
<path d="M336.3,467.0h1.6M336.3,469.9h1.6M336.3,472.8h1.6M336.3,475.6h1.6M336.3,478.5h1.6M336.3,481.4h1.6M336.3,484.2h1.6M336.3,487.1h1.6M336.3,490.0h1.6M336.3,492.9h1.6M336.3,495.8h1.6M336.3,498.6h1.6M336.3,501.5h1.6M336.3,504.4h1.6M336.3,507.2h1.6M336.3,510.1h1.6M336.3,513.0h1.6M336.3,515.9h1.6M336.3,518.8h1.6M336.3,521.6h1.6M336.3,524.5h1.6M336.3,527.4h1.6M336.3,530.2h1.6M336.3,533.1h1.6M336.3,536.0h1.6M335.3,469.6h2.6M335.3,491.6h2.6M335.3,513.6h2.6M335.3,535.6h2.6" stroke="#000" stroke-width="0.5" fill="none"/>
<text x="333.3" y="471.87" font-size="6.3" text-anchor="end">60K</text>
<text x="333.3" y="493.87" font-size="6.3" text-anchor="end">40K</text>
<text x="333.3" y="515.87" font-size="6.3" text-anchor="end">20K</text>
<text x="333.3" y="537.87" font-size="6.3" text-anchor="end">0</text>
<text x="314.6" y="505.82" font-size="10.6" text-anchor="middle" textLength="19.8" lengthAdjust="spacingAndGlyphs" transform="rotate(-90 314.6 502)">SSC-A</text>
<path d="M337.9,536.0v1.6M341.0,536.0v1.6M344.2,536.0v1.6M347.3,536.0v1.6M350.5,536.0v1.6M353.6,536.0v1.6M356.8,536.0v1.6M359.9,536.0v1.6M363.1,536.0v1.6M366.2,536.0v1.6M369.4,536.0v1.6M372.5,536.0v1.6M375.6,536.0v1.6M378.8,536.0v1.6M381.9,536.0v1.6M385.1,536.0v1.6M388.2,536.0v1.6M391.4,536.0v1.6M394.5,536.0v1.6M397.7,536.0v1.6M400.8,536.0v1.6M404.0,536.0v1.6M407.1,536.0v1.6M348.9,536.0v2.6M360.9,536.0v2.6M372.4,536.0v2.6M387.7,536.0v2.6M400.7,536.0v2.6" stroke="#000" stroke-width="0.5" fill="none"/>
<rect x="357.9" y="536.3" width="7" height="1.4" fill="#000"/>
<text x="348.9" y="545.94" font-size="6.5" text-anchor="middle">−10<tspan font-size="5.1" dy="-2.34">3</tspan></text>
<text x="360.9" y="545.94" font-size="6.5" text-anchor="middle">0</text>
<text x="372.4" y="545.94" font-size="6.5" text-anchor="middle">10<tspan font-size="5.1" dy="-2.34">3</tspan></text>
<text x="387.7" y="545.94" font-size="6.5" text-anchor="middle">10<tspan font-size="5.1" dy="-2.34">4</tspan></text>
<text x="400.7" y="545.94" font-size="6.5" text-anchor="middle">10<tspan font-size="5.1" dy="-2.34">5</tspan></text>
<text x="371.9" y="556.67" font-size="10.2" text-anchor="middle" textLength="18.3" lengthAdjust="spacingAndGlyphs">CD34</text>
<rect x="437" y="467" width="69.2" height="69" fill="none" stroke="#000" stroke-width="1.3"/>
<path d="M435.4,467.0h1.6M435.4,469.9h1.6M435.4,472.8h1.6M435.4,475.6h1.6M435.4,478.5h1.6M435.4,481.4h1.6M435.4,484.2h1.6M435.4,487.1h1.6M435.4,490.0h1.6M435.4,492.9h1.6M435.4,495.8h1.6M435.4,498.6h1.6M435.4,501.5h1.6M435.4,504.4h1.6M435.4,507.2h1.6M435.4,510.1h1.6M435.4,513.0h1.6M435.4,515.9h1.6M435.4,518.8h1.6M435.4,521.6h1.6M435.4,524.5h1.6M435.4,527.4h1.6M435.4,530.2h1.6M435.4,533.1h1.6M435.4,536.0h1.6M434.4,474.2h2.6M434.4,490.2h2.6M434.4,508.6h2.6M434.4,522.4h2.6M434.4,534.3h2.6" stroke="#000" stroke-width="0.5" fill="none"/>
<text x="433.6" y="476.47" font-size="6.3" text-anchor="end">10<tspan font-size="5.1" dy="-2.27">5</tspan></text>
<text x="433.6" y="492.47" font-size="6.3" text-anchor="end">10<tspan font-size="5.1" dy="-2.27">4</tspan></text>
<text x="433.6" y="510.87" font-size="6.3" text-anchor="end">10<tspan font-size="5.1" dy="-2.27">3</tspan></text>
<text x="433.6" y="524.67" font-size="6.3" text-anchor="end">0</text>
<text x="433.6" y="536.57" font-size="6.3" text-anchor="end">−10<tspan font-size="5.1" dy="-2.27">3</tspan></text>
<text x="417.6" y="505.82" font-size="10.6" text-anchor="middle" textLength="18.4" lengthAdjust="spacingAndGlyphs" transform="rotate(-90 417.6 502)">CD48</text>
<path d="M437.0,536.0v1.6M440.1,536.0v1.6M443.3,536.0v1.6M446.4,536.0v1.6M449.6,536.0v1.6M452.7,536.0v1.6M455.9,536.0v1.6M459.0,536.0v1.6M462.2,536.0v1.6M465.3,536.0v1.6M468.5,536.0v1.6M471.6,536.0v1.6M474.7,536.0v1.6M477.9,536.0v1.6M481.0,536.0v1.6M484.2,536.0v1.6M487.3,536.0v1.6M490.5,536.0v1.6M493.6,536.0v1.6M496.8,536.0v1.6M499.9,536.0v1.6M503.1,536.0v1.6M506.2,536.0v1.6M449.4,536.0v2.6M464.9,536.0v2.6M478.4,536.0v2.6M490.5,536.0v2.6M501.2,536.0v2.6" stroke="#000" stroke-width="0.5" fill="none"/>
<rect x="446" y="536.3" width="7" height="1.4" fill="#000"/>
<text x="449.4" y="545.94" font-size="6.5" text-anchor="middle">0</text>
<text x="464.9" y="545.94" font-size="6.5" text-anchor="middle">10<tspan font-size="5.1" dy="-2.34">3</tspan></text>
<text x="478.4" y="545.94" font-size="6.5" text-anchor="middle">10<tspan font-size="5.1" dy="-2.34">4</tspan></text>
<text x="490.5" y="545.94" font-size="6.5" text-anchor="middle">10<tspan font-size="5.1" dy="-2.34">5</tspan></text>
<text x="501.2" y="545.94" font-size="6.5" text-anchor="middle">10<tspan font-size="5.1" dy="-2.34">6</tspan></text>
<text x="471" y="556.67" font-size="10.2" text-anchor="middle" textLength="22.5" lengthAdjust="spacingAndGlyphs">CD150</text>
<g filter="url(#bl)"><path d="M244.1,293.6 242.4,297.1 242.6,328.1 244.9,331.6 246.6,332.4 250.4,333.1 255.1,330.9 255.6,330.4 256.9,329.9 258.1,328.9 262.1,326.6 283.4,326.1 285.4,325.1 285.6,323.9 285.9,323.6 285.9,322.9 284.9,321.9 282.9,320.9 265.4,320.6 264.9,320.4 263.1,318.4 263.1,309.9 263.9,308.6 265.4,307.1 265.4,306.9 266.4,306.1 278.4,305.9 281.1,304.9 281.9,304.1 283.1,301.1 283.1,299.9 282.6,298.9 282.6,298.1 282.1,297.1 281.4,296.4 279.1,294.9 256.6,294.6 256.4,294.4 255.9,294.4 254.6,293.4 253.1,292.6 251.6,292.4 251.4,292.1 250.4,292.1 250.1,291.9 248.4,291.9 248.1,292.1 246.4,292.4 246.1,292.6 244.9,292.9Z" fill="#2b45a2" fill-rule="evenodd"/><path d="M244.4,293.6 242.6,297.1 242.6,312.9 242.9,313.1 242.9,328.1 244.9,331.4 245.6,331.9 247.1,332.1 248.1,332.6 250.6,332.9 252.4,331.9 252.9,331.9 253.9,331.4 259.1,327.9 260.4,327.4 261.9,326.4 282.9,325.9 283.1,325.6 284.4,325.4 285.1,324.9 285.4,324.4 285.4,322.9 284.6,322.1 282.6,321.1 265.1,320.9 264.6,320.6 262.9,318.6 262.9,309.6 263.6,308.4 266.1,305.9 278.4,305.6 281.1,304.6 281.6,304.1 282.9,301.1 282.9,299.9 282.4,298.9 282.4,298.1 281.6,296.9 278.9,295.1 256.6,294.9 256.4,294.6 255.9,294.6 253.4,292.9 252.9,292.9 251.9,292.4 250.9,292.4 250.6,292.1 248.1,292.1 247.9,292.4 245.4,292.9Z" fill="#3a55aa" fill-rule="evenodd"/><path d="M280.6,297.6 279.4,297.1 257.9,296.9 257.6,296.6 256.1,296.6 255.6,295.4 253.9,293.6 252.4,292.9 250.1,292.6 249.9,292.4 248.6,292.4 248.4,292.6 246.6,292.9 245.1,293.6 244.1,295.4 243.9,297.1 243.6,297.4 243.6,304.9 243.9,305.1 243.9,321.4 243.6,321.6 243.6,327.4 243.9,327.6 243.9,328.6 244.9,330.6 246.1,331.6 246.6,331.6 247.6,332.1 248.4,332.1 248.6,332.4 249.4,332.4 249.6,332.6 250.4,332.6 253.9,330.9 254.9,330.1 255.4,329.4 255.4,328.9 255.6,328.6 255.6,304.6 256.1,303.4 266.1,303.4 266.4,303.6 277.6,303.6 277.9,303.9 279.4,303.9 280.6,303.4 281.4,302.6 282.1,300.9 282.1,300.1 281.9,299.9 281.6,298.6Z" fill="#3c5db0" fill-rule="evenodd"/><path d="M279.9,299.4 279.4,299.1 270.6,299.1 270.4,298.9 259.4,298.9 259.1,298.6 256.9,298.6 254.9,297.9 254.9,295.9 254.4,294.6 253.4,293.6 252.4,293.1 250.6,292.9 250.4,292.6 248.4,292.6 248.1,292.9 246.1,293.4 245.1,294.4 244.9,296.1 244.6,296.4 244.6,297.9 244.4,298.1 244.4,303.1 244.6,303.4 244.6,305.4 244.9,305.6 244.9,319.9 244.6,320.1 244.6,321.9 244.4,322.1 244.4,326.9 244.6,327.1 244.6,328.9 244.9,329.1 245.1,330.4 246.1,331.4 246.6,331.4 248.4,332.1 249.1,332.1 249.4,332.4 250.4,332.4 253.4,330.9 254.4,329.9 254.4,328.1 254.6,327.9 254.6,324.6 254.9,324.4 254.6,324.1 254.6,319.9 254.4,319.6 254.4,317.6 254.6,317.4 254.6,305.1 254.9,304.9 254.9,302.6 255.4,302.1 257.1,301.4 275.9,301.6 276.1,301.9 279.4,301.9 279.9,301.6 280.4,300.9 280.4,300.1Z" fill="#3e6dbe" fill-rule="evenodd"/><path d="M248.9,292.6 248.6,292.9 247.4,293.1 245.9,294.1 245.4,295.1 245.1,297.6 244.9,297.9 244.9,303.4 245.1,303.6 245.1,305.1 245.4,305.4 245.4,319.9 245.1,320.1 244.9,322.6 244.6,322.9 244.6,326.1 244.9,326.4 245.4,329.9 245.9,330.9 247.9,331.9 248.6,331.9 248.9,332.1 250.6,332.1 252.6,331.1 253.6,330.1 253.9,329.6 253.9,328.1 254.1,327.9 254.1,326.4 254.4,326.1 254.4,322.4 254.1,322.1 254.1,320.6 253.9,320.4 253.9,307.4 254.1,307.1 254.1,304.9 254.4,304.6 254.9,299.6 254.6,299.4 254.1,295.1 253.6,294.1 252.6,293.4 252.1,293.4 251.1,292.9Z" fill="#3d8ad2" fill-rule="evenodd"/><path d="M248.6,292.9 246.9,293.6 246.1,294.6 245.9,296.1 245.6,296.4 245.6,297.4 245.4,297.6 245.4,298.6 245.1,298.9 245.1,302.4 245.4,302.6 245.4,303.9 245.6,304.1 245.9,306.9 246.1,307.1 246.1,318.4 245.9,318.6 245.9,319.6 245.6,319.9 245.6,320.6 245.1,321.9 245.1,322.9 244.9,323.1 244.9,325.9 245.1,326.1 245.1,327.1 245.4,327.4 245.4,328.1 245.6,328.4 246.1,330.4 247.1,331.4 250.1,332.1 251.4,331.6 252.9,330.6 253.4,329.4 253.6,327.4 253.9,327.1 253.9,325.9 254.1,325.6 254.1,322.9 253.9,322.6 253.9,321.6 253.6,321.4 253.6,320.4 253.4,320.1 253.4,306.6 253.6,306.4 253.6,305.1 253.9,304.9 253.9,303.6 254.1,303.4 254.4,299.9 254.1,299.6 253.9,296.1 253.6,295.9 253.6,295.1 252.9,293.9 251.4,293.1Z" fill="#3aa9e2" fill-rule="evenodd"/><path d="M248.6,293.1 247.1,293.9 246.1,295.6 245.9,297.6 245.6,297.9 245.6,298.9 245.4,299.1 245.4,302.1 245.6,302.4 245.6,303.6 246.1,304.9 246.4,307.6 246.6,307.9 246.6,317.6 246.4,317.9 246.4,319.1 246.1,319.4 246.1,319.9 245.4,321.6 245.4,322.4 245.1,322.6 245.1,326.1 245.4,326.4 245.4,327.1 245.6,327.4 246.4,330.1 247.6,331.4 249.1,331.6 249.4,331.9 250.4,331.9 252.6,330.4 253.1,329.1 253.6,326.4 253.9,326.1 253.9,322.6 253.6,322.4 253.6,321.6 253.4,321.4 253.4,320.6 252.9,319.4 252.9,307.1 253.1,306.9 253.1,305.6 253.4,305.4 253.6,303.4 253.9,303.1 253.9,300.9 254.1,300.4 253.9,300.1 253.6,296.6 253.4,296.4 253.1,294.9 252.6,294.1 250.6,293.1Z" fill="#3cbde9" fill-rule="evenodd"/><path d="M249.4,293.4 248.1,293.9 246.9,295.1 246.9,295.6 246.4,296.4 246.1,298.1 245.9,298.4 245.9,300.1 245.6,300.4 245.9,302.9 246.1,303.1 246.4,304.9 246.9,305.9 247.1,308.4 247.4,308.6 247.4,316.9 247.1,317.1 247.1,318.4 246.9,318.6 246.9,319.1 246.1,320.4 246.1,320.9 245.6,321.6 245.6,322.4 245.4,322.6 245.4,326.1 245.6,326.4 245.9,327.9 246.9,329.9 248.1,331.1 248.6,331.1 248.9,331.4 250.4,331.4 251.4,330.9 252.1,330.1 253.6,326.1 253.6,322.6 253.4,322.4 253.4,321.6 253.1,321.4 252.9,320.1 252.1,318.6 252.1,307.9 252.4,307.6 252.4,306.6 252.6,306.4 252.6,305.6 253.1,304.6 253.4,302.6 253.6,302.4 253.6,298.9 253.4,298.6 253.4,297.6 253.1,297.4 252.9,295.6 252.1,294.4 250.9,293.6Z" fill="#58c29c" fill-rule="evenodd"/><path d="M249.1,293.9 248.1,294.4 247.4,295.1 246.1,298.4 246.1,300.1 245.9,300.4 246.4,303.9 247.6,306.6 247.9,308.6 248.1,308.9 248.1,316.9 247.9,317.1 247.9,317.9 246.1,320.9 246.1,321.4 245.6,322.4 245.6,323.4 245.4,323.6 245.4,325.1 245.6,325.4 245.6,326.6 245.9,326.9 245.9,327.4 246.9,329.4 248.1,330.6 248.6,330.6 248.9,330.9 250.4,330.9 252.1,329.4 253.4,326.4 253.4,324.9 253.6,324.6 253.6,324.1 253.4,323.9 253.4,322.4 253.1,322.1 252.9,320.9 251.4,317.9 251.4,308.4 251.6,308.1 251.6,307.4 253.1,303.4 253.1,302.4 253.4,302.1 253.4,298.9 253.1,298.6 253.1,297.6 252.1,295.1 251.4,294.4 250.4,293.9Z" fill="#6ebf47" fill-rule="evenodd"/><path d="M248.9,319.4 248.6,319.6 248.1,319.6 246.6,321.4 246.1,322.6 246.1,323.9 245.9,324.1 245.9,324.6 246.1,324.9 246.1,326.1 246.9,327.9 248.6,329.4 250.4,329.4 250.9,329.1 252.4,327.4 252.4,326.9 252.9,325.9 252.9,322.9 252.6,322.6 252.4,321.4 251.1,319.9 250.1,319.4ZM249.4,296.1 248.4,296.6 247.4,298.1 247.1,299.6 246.9,299.9 246.9,301.4 247.1,301.6 247.4,303.1 248.4,304.6 248.9,304.9 250.6,304.9 251.6,303.9 252.4,302.1 252.4,299.1 251.6,297.4 250.6,296.4Z" fill="#80c443" fill-rule="evenodd"/><path d="M248.6,320.1 247.4,321.1 246.6,322.4 246.6,323.1 246.4,323.4 246.4,325.4 247.1,327.4 248.1,328.4 248.6,328.6 250.4,328.6 250.9,328.4 252.1,326.9 252.4,325.4 252.6,325.1 252.6,323.6 252.4,323.4 252.4,322.6 251.6,321.1 251.1,320.6 250.1,320.1ZM249.9,297.9 248.9,298.1 248.4,298.6 247.9,299.9 247.9,301.4 248.1,301.6 248.1,302.1 248.9,303.1 249.4,303.1 249.6,303.4 249.9,303.1 250.4,303.1 251.4,301.9 251.4,299.4 250.9,298.4Z" fill="#bcd42e" fill-rule="evenodd"/><path d="M248.9,320.6 247.9,321.1 247.1,322.1 246.6,324.6 246.9,324.9 247.1,326.6 247.6,327.4 248.6,328.1 250.1,328.1 251.1,327.6 252.1,325.9 252.1,323.1 251.6,321.9 250.6,320.9 250.1,320.6Z" fill="#fae515" fill-rule="evenodd"/><path d="M249.4,321.4 249.1,321.6 248.6,321.6 247.9,322.4 247.4,323.6 247.4,325.1 247.9,326.4 248.6,327.1 249.9,327.4 251.1,326.4 251.6,325.1 251.6,323.9 251.4,323.6 251.1,322.4 250.4,321.6Z" fill="#f6a11c" fill-rule="evenodd"/><path d="M249.1,322.9 248.6,323.4 248.6,325.4 249.1,325.9 249.9,325.9 250.4,325.4 250.4,323.4 249.9,322.9Z" fill="#e5262a" fill-rule="evenodd"/></g>
<path d="M264.3,310.1h1.2v1.2h-1.2zM272.2,315.8h1.2v1.2h-1.2zM266.9,310.1h1.2v1.2h-1.2zM268.9,316.6h1.2v1.2h-1.2zM267.1,316.4h1.2v1.2h-1.2zM277.9,310.4h1.2v1.2h-1.2zM275.2,313.5h1.2v1.2h-1.2zM272.7,319.0h1.2v1.2h-1.2zM266.0,309.2h1.2v1.2h-1.2zM291.5,308.9h1.2v1.2h-1.2zM284.8,306.6h1.2v1.2h-1.2zM286.3,326.6h1.2v1.2h-1.2zM284.9,302.9h1.2v1.2h-1.2zM288.3,313.5h1.2v1.2h-1.2z" fill="#2d4aab"/>
<g filter="url(#bl)"><path d="M243.8,492.4 242.1,495.9 242.3,526.7 243.6,528.9 244.8,530.4 247.6,531.4 250.1,531.9 254.6,529.7 257.8,527.4 261.8,525.2 283.1,524.9 285.1,523.9 285.3,522.7 285.6,522.4 285.6,521.4 284.8,520.7 282.8,519.7 265.1,519.4 263.8,518.4 262.8,516.9 262.8,508.7 263.6,507.4 265.1,505.9 265.1,505.7 266.1,504.9 278.1,504.7 280.8,503.7 281.6,502.9 282.8,499.9 282.8,498.7 282.3,497.7 282.3,496.9 281.8,495.9 281.1,495.2 278.8,493.7 256.3,493.4 256.1,493.2 255.6,493.2 254.3,492.2 252.8,491.4 251.3,491.2 251.1,490.9 250.1,490.9 249.8,490.7 248.1,490.7 247.8,490.9 246.1,491.2 245.8,491.4 244.6,491.7Z" fill="#2b45a2" fill-rule="evenodd"/><path d="M244.1,492.4 242.3,495.9 242.6,526.7 243.8,528.9 244.8,530.2 248.1,531.4 250.3,531.7 253.3,530.2 258.8,526.4 260.1,525.9 261.6,524.9 282.6,524.7 282.8,524.4 284.1,524.2 284.8,523.7 285.1,523.2 285.1,521.4 284.6,520.9 282.3,519.9 264.8,519.7 263.6,518.7 262.6,517.2 262.6,508.4 263.3,507.2 265.8,504.7 278.1,504.4 280.8,503.4 281.3,502.9 282.6,499.9 282.6,498.7 282.1,497.7 282.1,496.9 281.3,495.7 278.6,493.9 256.3,493.7 256.1,493.4 255.6,493.4 253.1,491.7 252.6,491.7 251.6,491.2 250.6,491.2 250.3,490.9 247.8,490.9 247.6,491.2 245.1,491.7Z" fill="#3a55aa" fill-rule="evenodd"/><path d="M280.3,496.4 279.1,495.9 257.6,495.7 257.3,495.4 255.8,495.4 255.3,494.2 253.6,492.4 252.1,491.7 249.8,491.4 249.6,491.2 248.3,491.2 248.1,491.4 246.3,491.7 244.8,492.4 243.8,494.2 243.6,495.9 243.3,496.2 243.3,503.7 243.6,503.9 243.6,520.2 243.3,520.4 243.3,526.2 243.6,526.4 243.6,527.2 244.6,529.2 245.3,529.9 246.3,530.4 246.8,530.4 247.6,530.9 250.1,531.4 252.6,530.2 254.1,529.2 255.1,528.2 255.1,527.4 255.3,527.2 255.3,503.4 255.8,502.2 265.8,502.2 266.1,502.4 277.3,502.4 277.6,502.7 279.1,502.7 280.3,502.2 281.1,501.4 281.8,499.7 281.8,498.9 281.6,498.7 281.3,497.4Z" fill="#3c5db0" fill-rule="evenodd"/><path d="M279.6,498.2 279.1,497.9 270.3,497.9 270.1,497.7 259.1,497.7 258.8,497.4 256.6,497.4 254.6,496.7 254.6,494.7 254.1,493.4 253.1,492.4 252.1,491.9 250.3,491.7 250.1,491.4 248.1,491.4 247.8,491.7 245.8,492.2 244.8,493.2 244.6,494.9 244.3,495.2 244.3,496.7 244.1,496.9 244.1,501.9 244.3,502.2 244.3,504.2 244.6,504.4 244.6,518.7 244.3,518.9 244.3,520.7 244.1,520.9 244.1,525.7 244.3,525.9 244.6,528.4 245.3,529.7 249.1,531.2 250.1,531.2 251.3,530.7 251.8,530.2 253.3,529.4 254.1,528.4 254.1,526.9 254.3,526.7 254.3,523.4 254.6,523.2 254.3,522.9 254.3,518.7 254.1,518.4 254.1,516.4 254.3,516.2 254.3,503.9 254.6,503.7 254.6,501.4 255.1,500.9 256.8,500.2 275.6,500.4 275.8,500.7 279.1,500.7 279.6,500.4 280.1,499.7 280.1,498.9Z" fill="#3e6dbe" fill-rule="evenodd"/><path d="M248.6,491.4 248.3,491.7 247.1,491.9 245.6,492.9 245.1,493.9 244.8,496.4 244.6,496.7 244.6,502.2 244.8,502.4 244.8,503.9 245.1,504.2 245.1,518.7 244.8,518.9 244.6,521.4 244.3,521.7 244.3,524.9 244.6,525.2 244.8,527.7 245.1,527.9 245.3,529.2 246.1,529.9 247.1,530.2 247.8,530.7 250.3,530.9 251.8,530.2 253.3,528.9 253.6,528.4 253.6,526.9 253.8,526.7 253.8,525.2 254.1,524.9 254.1,521.2 253.8,520.9 253.8,519.4 253.6,519.2 253.6,506.2 253.8,505.9 253.8,503.7 254.1,503.4 254.6,498.4 254.3,498.2 253.8,493.9 253.3,492.9 252.3,492.2 251.8,492.2 250.8,491.7Z" fill="#3d8ad2" fill-rule="evenodd"/><path d="M248.3,491.7 246.6,492.4 245.8,493.4 245.6,494.9 245.3,495.2 245.3,496.2 245.1,496.4 245.1,497.4 244.8,497.7 244.8,501.2 245.1,501.4 245.1,502.7 245.3,502.9 245.6,505.7 245.8,505.9 245.8,517.2 245.6,517.4 245.6,518.4 245.3,518.7 245.3,519.4 244.8,520.7 244.8,521.7 244.6,521.9 244.6,524.7 244.8,524.9 244.8,525.9 245.1,526.2 245.1,526.9 245.3,527.2 245.8,529.2 247.1,530.2 249.8,530.9 251.1,530.4 252.8,528.9 253.1,527.4 253.3,527.2 253.3,526.2 253.6,525.9 253.6,524.7 253.8,524.4 253.8,521.7 253.6,521.4 253.6,520.4 253.3,520.2 253.3,519.2 253.1,518.9 253.1,505.4 253.3,505.2 253.3,503.9 253.6,503.7 253.6,502.4 253.8,502.2 254.1,498.7 253.8,498.4 253.6,494.9 253.3,494.7 253.3,493.9 252.6,492.7 251.1,491.9Z" fill="#3aa9e2" fill-rule="evenodd"/><path d="M248.3,491.9 246.8,492.7 245.8,494.4 245.6,496.4 245.3,496.7 245.3,497.7 245.1,497.9 245.1,500.9 245.3,501.2 245.3,502.4 245.8,503.7 246.1,506.4 246.3,506.7 246.3,516.4 246.1,516.7 246.1,517.9 245.8,518.2 245.8,518.7 245.1,520.4 245.1,521.2 244.8,521.4 244.8,524.9 245.1,525.2 245.1,525.9 245.3,526.2 246.1,528.9 247.1,529.9 248.1,530.4 250.1,530.7 251.8,529.7 252.6,528.7 253.1,526.2 253.3,525.9 253.3,525.2 253.6,524.9 253.6,521.4 253.3,521.2 253.3,520.4 253.1,520.2 253.1,519.4 252.6,518.2 252.6,505.9 252.8,505.7 252.8,504.4 253.1,504.2 253.3,502.2 253.6,501.9 253.6,499.7 253.8,499.2 253.6,498.9 253.3,495.4 253.1,495.2 252.8,493.7 252.3,492.9 250.3,491.9Z" fill="#3cbde9" fill-rule="evenodd"/><path d="M249.1,492.2 247.8,492.7 246.6,493.9 246.6,494.4 246.1,495.2 245.8,496.9 245.6,497.2 245.6,498.9 245.3,499.2 245.6,501.7 245.8,501.9 246.1,503.7 246.6,504.7 246.8,507.2 247.1,507.4 247.1,515.7 246.8,515.9 246.8,517.2 246.6,517.4 246.6,517.9 245.8,519.2 245.8,519.7 245.3,520.4 245.3,521.2 245.1,521.4 245.1,524.9 245.3,525.2 245.6,526.7 246.6,528.7 247.8,529.9 248.3,529.9 248.6,530.2 250.1,530.2 251.1,529.7 251.8,528.9 253.3,524.9 253.3,521.4 253.1,521.2 253.1,520.4 252.8,520.2 252.6,518.9 251.8,517.4 251.8,506.7 252.1,506.4 252.1,505.4 252.3,505.2 252.3,504.4 252.8,503.4 253.1,501.4 253.3,501.2 253.3,497.7 253.1,497.4 253.1,496.4 252.8,496.2 252.6,494.4 251.8,493.2 250.6,492.4Z" fill="#58c29c" fill-rule="evenodd"/><path d="M248.8,492.7 247.8,493.2 247.1,493.9 245.8,497.2 245.8,498.9 245.6,499.2 246.1,502.7 247.3,505.4 247.6,507.4 247.8,507.7 247.8,515.7 247.6,515.9 247.6,516.7 245.8,519.7 245.8,520.2 245.3,521.2 245.3,522.2 245.1,522.4 245.1,523.9 245.3,524.2 245.3,525.4 245.6,525.7 245.6,526.2 246.6,528.2 247.8,529.4 248.3,529.4 248.6,529.7 250.1,529.7 251.8,528.2 253.1,525.2 253.1,523.7 253.3,523.4 253.3,522.9 253.1,522.7 253.1,521.2 252.8,520.9 252.6,519.7 251.1,516.7 251.1,507.2 251.3,506.9 251.3,506.2 252.8,502.2 252.8,501.2 253.1,500.9 253.1,497.7 252.8,497.4 252.8,496.4 251.8,493.9 251.1,493.2 250.1,492.7Z" fill="#6ebf47" fill-rule="evenodd"/><path d="M248.6,518.2 248.3,518.4 247.8,518.4 246.3,520.2 245.8,521.4 245.8,522.7 245.6,522.9 245.6,523.4 245.8,523.7 245.8,524.9 246.6,526.7 248.3,528.2 250.1,528.2 250.6,527.9 252.1,526.2 252.1,525.7 252.6,524.7 252.6,521.7 252.3,521.4 252.1,520.2 250.8,518.7 249.8,518.2ZM249.1,494.9 248.1,495.4 247.1,496.9 246.8,498.4 246.6,498.7 246.6,500.2 246.8,500.4 247.1,501.9 248.1,503.4 248.6,503.7 250.3,503.7 251.3,502.7 252.1,500.9 252.1,497.9 251.3,496.2 250.3,495.2Z" fill="#80c443" fill-rule="evenodd"/><path d="M248.3,518.9 247.1,519.9 246.3,521.2 246.3,521.9 246.1,522.2 246.1,524.2 246.8,526.2 247.8,527.2 248.3,527.4 250.1,527.4 250.6,527.2 251.8,525.7 252.1,524.2 252.3,523.9 252.3,522.4 252.1,522.2 252.1,521.4 251.3,519.9 250.8,519.4 249.8,518.9ZM249.6,496.7 248.6,496.9 248.1,497.4 247.6,498.7 247.6,500.2 247.8,500.4 247.8,500.9 248.6,501.9 249.1,501.9 249.3,502.2 249.6,501.9 250.1,501.9 251.1,500.7 251.1,498.2 250.6,497.2Z" fill="#bcd42e" fill-rule="evenodd"/><path d="M248.6,519.4 247.6,519.9 246.8,520.9 246.3,523.4 246.6,523.7 246.8,525.4 247.3,526.2 248.3,526.9 249.8,526.9 250.8,526.4 251.8,524.7 251.8,521.9 251.3,520.7 250.3,519.7 249.8,519.4Z" fill="#fae515" fill-rule="evenodd"/><path d="M249.1,520.2 248.8,520.4 248.3,520.4 247.6,521.2 247.1,522.4 247.1,523.9 247.6,525.2 248.3,525.9 249.6,526.2 250.8,525.2 251.3,523.9 251.3,522.7 251.1,522.4 250.8,521.2 250.1,520.4Z" fill="#f6a11c" fill-rule="evenodd"/><path d="M248.8,521.7 248.3,522.2 248.3,524.2 248.8,524.7 249.6,524.7 250.1,524.2 250.1,522.2 249.6,521.7Z" fill="#e5262a" fill-rule="evenodd"/></g>
<path d="M265.3,509.9h1.2v1.2h-1.2zM270.1,516.8h1.2v1.2h-1.2zM274.1,515.0h1.2v1.2h-1.2zM265.8,512.9h1.2v1.2h-1.2zM281.4,513.0h1.2v1.2h-1.2zM283.5,516.6h1.2v1.2h-1.2zM271.5,507.8h1.2v1.2h-1.2zM289.5,498.8h1.2v1.2h-1.2zM282.8,518.2h1.2v1.2h-1.2zM290.3,521.6h1.2v1.2h-1.2zM291.3,501.3h1.2v1.2h-1.2z" fill="#2d4aab"/>
<g filter="url(#bl)"><path d="M373.9,289.4 365.9,289.4 363.9,290.1 362.1,290.4 361.1,291.4 359.6,294.1 359.6,295.4 359.4,295.6 359.4,298.1 359.1,298.4 359.1,301.1 358.9,301.4 358.9,303.6 358.6,303.9 358.6,305.4 358.4,305.6 358.4,308.9 358.6,309.1 358.6,315.1 358.9,315.4 358.9,318.1 359.1,318.4 359.1,318.9 360.9,321.4 361.9,322.1 362.9,322.1 363.1,322.4 365.4,322.4 365.6,322.6 367.6,322.6 369.1,321.9 371.1,321.4 372.6,320.6 373.6,319.6 374.1,318.6 376.4,315.6 376.9,313.1 377.1,312.9 377.1,312.1 377.6,311.1 377.6,310.1 377.9,309.9 378.1,296.4 377.9,296.1 377.9,294.6 377.6,294.4 377.6,292.6 377.4,292.4 377.4,291.9 375.4,290.1Z" fill="#2b45a2" fill-rule="evenodd"/><path d="M373.6,289.6 366.4,289.6 366.1,289.9 364.4,290.1 363.4,290.6 362.6,290.6 361.4,291.6 360.1,293.9 360.1,294.4 359.9,294.6 359.9,295.9 359.6,296.1 359.6,298.6 359.4,298.9 359.1,303.6 358.9,303.9 358.9,305.1 358.6,305.4 358.9,315.4 359.1,315.6 359.1,318.1 359.4,318.4 359.4,318.9 361.4,321.6 361.9,321.9 362.6,321.9 362.9,322.1 364.9,322.1 365.1,322.4 367.9,322.4 368.6,321.9 369.1,321.9 369.4,321.6 370.6,321.4 371.9,320.6 372.4,320.6 374.1,318.6 376.4,315.1 376.4,314.4 376.6,314.1 376.6,313.4 376.9,313.1 376.9,312.4 377.4,311.1 377.4,310.1 377.6,309.9 377.9,296.9 377.6,296.6 377.6,295.1 377.4,294.9 377.4,293.1 377.1,292.9 377.1,292.1 375.1,290.4Z" fill="#3a55aa" fill-rule="evenodd"/><path d="M373.1,294.1 371.6,294.1 370.4,294.6 369.4,295.6 368.9,297.4 368.1,298.4 366.4,298.4 366.1,298.6 365.4,298.6 363.4,299.6 361.4,301.4 360.1,303.1 360.1,303.6 359.4,305.4 359.4,307.4 359.1,307.6 359.1,308.9 359.4,309.1 359.4,315.4 359.6,315.6 359.6,317.9 360.9,320.1 362.1,321.4 363.6,321.6 363.9,321.9 367.4,322.1 368.9,321.4 370.9,320.9 372.4,320.1 372.9,319.6 375.6,315.6 375.6,315.1 376.1,314.1 376.6,310.6 376.9,310.4 376.9,307.9 376.6,307.6 376.6,306.6 376.4,306.4 376.1,305.1 374.4,302.1 374.4,301.4 375.6,298.4 375.6,296.6 375.4,296.4 375.4,295.9 374.1,294.6Z" fill="#3c5db0" fill-rule="evenodd"/><path d="M373.6,295.1 373.1,295.1 372.9,294.9 371.6,294.9 370.6,295.4 369.9,296.4 369.9,296.9 369.4,297.6 368.6,300.1 368.4,300.4 366.4,300.4 366.1,300.6 364.9,300.9 364.4,301.4 363.6,301.6 361.9,303.4 361.1,304.9 360.6,305.4 360.6,305.9 360.1,306.6 359.9,308.4 359.6,308.6 359.6,314.4 359.9,314.6 360.1,317.1 361.6,320.1 362.4,320.9 363.4,321.4 365.9,321.6 366.1,321.9 367.4,321.9 371.9,320.1 373.1,318.9 375.4,315.1 375.4,314.6 375.6,314.4 375.6,313.1 375.9,312.9 375.9,309.9 375.6,309.6 375.6,308.4 375.4,308.1 374.9,306.1 374.1,304.6 373.1,303.4 373.4,301.9 373.9,301.1 374.4,299.1 374.9,298.4 374.9,296.6Z" fill="#3e6dbe" fill-rule="evenodd"/><path d="M372.9,295.4 371.6,295.4 370.4,296.4 369.4,299.6 368.4,301.6 368.1,301.4 367.1,301.4 366.9,301.6 365.9,301.6 364.4,302.4 362.9,303.6 361.1,306.4 361.1,306.9 360.4,308.6 360.4,309.6 360.1,309.9 360.1,314.1 360.4,314.4 360.4,315.4 361.6,318.6 362.9,320.4 363.9,321.1 365.6,321.4 365.9,321.6 367.6,321.6 369.1,320.9 370.4,320.6 371.9,319.9 372.6,319.1 374.6,315.9 374.6,315.4 374.9,315.1 374.9,313.9 375.1,313.6 375.1,310.1 374.9,309.9 374.9,308.9 374.6,308.6 374.4,307.1 373.4,305.1 372.4,303.9 372.9,301.9 373.4,301.1 373.9,299.1 374.4,298.4 374.4,296.6Z" fill="#3d8ad2" fill-rule="evenodd"/><path d="M372.9,295.9 371.9,295.9 370.9,296.6 368.9,302.4 368.6,302.6 366.4,302.6 364.6,303.4 362.4,305.9 361.1,308.9 361.1,309.9 360.9,310.1 360.9,313.9 361.1,314.1 361.1,315.1 361.4,315.4 361.6,316.6 362.9,318.9 364.6,320.6 365.9,321.1 366.6,321.1 366.9,321.4 367.1,321.1 368.1,321.1 371.1,319.9 371.9,319.4 372.6,318.4 373.9,315.9 374.1,313.9 374.4,313.6 374.4,310.4 374.1,310.1 374.1,309.1 373.9,308.9 373.6,307.4 372.9,305.9 371.6,304.4 371.6,303.9 372.4,302.4 373.1,299.6 373.9,298.1 373.9,296.9Z" fill="#3aa9e2" fill-rule="evenodd"/><path d="M372.6,296.4 372.1,296.4 371.4,296.9 370.9,298.6 370.4,299.4 369.9,301.4 369.4,302.1 369.1,303.4 368.9,303.6 368.6,303.4 366.6,303.4 364.9,304.1 363.1,305.9 362.9,306.6 362.4,307.1 362.4,307.6 361.9,308.4 361.9,309.1 361.6,309.4 361.4,313.1 361.6,313.4 361.6,314.6 361.9,314.9 361.9,315.6 362.4,316.4 362.4,316.9 362.9,317.4 363.1,318.1 364.9,319.9 366.6,320.6 368.4,320.6 368.6,320.4 369.9,320.1 370.6,319.6 372.4,317.6 373.6,314.6 373.9,311.4 373.6,311.1 373.4,308.6 372.4,306.4 370.9,304.6 371.4,302.9 371.9,302.1 372.4,300.1 372.9,299.4 372.9,298.9 373.4,297.9 373.4,297.1Z" fill="#3cbde9" fill-rule="evenodd"/><path d="M366.4,304.6 365.4,305.1 363.6,306.9 362.9,308.4 362.6,309.9 362.4,310.1 362.4,314.4 363.4,316.9 364.9,318.6 365.6,319.1 367.9,319.6 368.1,319.4 369.6,319.1 370.4,318.6 372.1,316.6 372.9,314.9 372.9,313.9 373.1,313.6 373.1,311.6 372.9,311.4 372.9,310.1 372.6,309.9 372.4,308.4 371.4,306.6 369.4,304.9 368.9,304.9 368.6,304.6Z" fill="#58c29c" fill-rule="evenodd"/><path d="M366.9,305.6 365.6,306.1 364.4,307.4 363.4,309.1 363.1,310.6 362.9,310.9 362.9,314.1 363.1,314.4 363.1,315.1 364.6,317.6 366.1,318.6 368.4,318.9 370.1,318.1 372.1,315.9 372.1,315.4 372.6,314.4 372.6,311.4 372.4,311.1 372.1,309.6 370.9,307.4 369.1,305.9 368.6,305.9 368.4,305.6Z" fill="#6ebf47" fill-rule="evenodd"/><path d="M367.1,308.6 365.9,309.1 364.6,310.4 363.9,312.4 363.9,313.9 364.6,315.9 365.9,317.1 367.1,317.6 368.6,317.6 368.9,317.4 369.4,317.4 370.9,316.1 371.6,314.6 371.9,312.9 371.6,312.6 371.6,311.6 370.9,310.1 370.1,309.4 368.6,308.6Z" fill="#80c443" fill-rule="evenodd"/><path d="M366.9,309.4 365.6,310.1 364.9,311.1 364.6,312.4 364.4,312.6 364.4,313.9 365.1,315.6 366.1,316.6 367.4,317.1 368.4,317.1 369.6,316.6 370.6,315.6 371.1,314.6 371.4,312.9 371.1,312.6 371.1,311.6 370.1,310.1 368.9,309.4Z" fill="#bcd42e" fill-rule="evenodd"/><path d="M366.9,309.9 365.1,311.4 365.1,311.9 364.9,312.1 364.9,314.4 365.4,315.4 366.4,316.4 366.9,316.4 367.1,316.6 368.6,316.6 369.6,316.1 370.4,315.4 370.9,314.4 370.9,312.1 370.4,311.1 369.4,310.1 368.9,309.9Z" fill="#fae515" fill-rule="evenodd"/><path d="M367.4,310.4 365.9,311.4 365.4,312.4 365.4,314.1 366.4,315.6 368.1,316.1 369.6,315.4 370.1,314.6 370.1,314.1 370.4,313.9 370.4,312.4 369.4,310.9 368.4,310.4Z" fill="#f6a11c" fill-rule="evenodd"/><path d="M367.4,311.1 366.9,311.4 366.1,312.4 366.1,314.1 366.9,315.1 368.1,315.4 368.4,315.1 368.9,315.1 369.6,314.1 369.6,312.4 368.9,311.4 368.4,311.1Z" fill="#e5262a" fill-rule="evenodd"/></g>
<path d="M375.0,289.1h1.2v1.2h-1.2zM373.3,295.2h1.2v1.2h-1.2zM376.6,293.2h1.2v1.2h-1.2zM376.4,290.5h1.2v1.2h-1.2zM377.9,292.2h1.2v1.2h-1.2z" fill="#2d4aab"/>
<g filter="url(#bl)"><path d="M374.1,487.0 366.1,487.0 364.1,487.7 362.3,488.0 361.3,489.0 359.8,491.7 359.8,493.0 359.6,493.2 359.6,495.7 359.3,496.0 359.3,498.7 359.1,499.0 359.1,501.2 358.8,501.5 358.8,503.0 358.6,503.2 358.6,506.5 358.8,506.7 358.8,512.7 359.1,513.0 359.1,515.7 359.3,516.0 359.3,516.5 361.1,519.0 362.1,519.7 363.1,519.7 363.3,520.0 365.6,520.0 365.8,520.2 367.8,520.2 369.3,519.5 371.3,519.0 372.8,518.2 373.8,517.2 374.3,516.2 376.6,513.2 377.1,510.7 377.3,510.5 377.3,509.7 377.8,508.7 377.8,507.7 378.1,507.5 378.3,494.0 378.1,493.7 378.1,492.2 377.8,492.0 377.8,490.2 377.6,490.0 377.6,489.5 375.6,487.7Z" fill="#2b45a2" fill-rule="evenodd"/><path d="M373.8,487.2 366.6,487.2 366.3,487.5 364.6,487.7 363.6,488.2 362.8,488.2 361.6,489.2 360.3,491.5 360.3,492.0 360.1,492.2 360.1,493.5 359.8,493.7 359.8,496.2 359.6,496.5 359.3,501.2 359.1,501.5 359.1,502.7 358.8,503.0 359.1,513.0 359.3,513.2 359.3,515.7 359.6,516.0 359.6,516.5 361.6,519.2 362.1,519.5 362.8,519.5 363.1,519.7 365.1,519.7 365.3,520.0 368.1,520.0 368.8,519.5 369.3,519.5 369.6,519.2 370.8,519.0 372.1,518.2 372.6,518.2 374.3,516.2 376.6,512.7 376.6,512.0 376.8,511.7 376.8,511.0 377.1,510.7 377.1,510.0 377.6,508.7 377.6,507.7 377.8,507.5 378.1,494.5 377.8,494.2 377.8,492.7 377.6,492.5 377.6,490.7 377.3,490.5 377.3,489.7 375.3,488.0Z" fill="#3a55aa" fill-rule="evenodd"/><path d="M373.3,491.7 371.8,491.7 370.6,492.2 369.6,493.2 369.1,495.0 368.3,496.0 366.6,496.0 366.3,496.2 365.6,496.2 363.6,497.2 361.6,499.0 360.3,500.7 360.3,501.2 359.6,503.0 359.6,505.0 359.3,505.2 359.3,506.5 359.6,506.7 359.6,513.0 359.8,513.2 359.8,515.5 361.1,517.7 362.3,519.0 363.8,519.2 364.1,519.5 367.6,519.7 369.1,519.0 371.1,518.5 372.6,517.7 373.1,517.2 375.8,513.2 375.8,512.7 376.3,511.7 376.8,508.2 377.1,508.0 377.1,505.5 376.8,505.2 376.8,504.2 376.6,504.0 376.3,502.7 374.6,499.7 374.6,499.0 375.8,496.0 375.8,494.2 375.6,494.0 375.6,493.5 374.3,492.2Z" fill="#3c5db0" fill-rule="evenodd"/><path d="M373.8,492.7 373.3,492.7 373.1,492.5 371.8,492.5 370.8,493.0 370.1,494.0 370.1,494.5 369.6,495.2 368.8,497.7 368.6,498.0 366.6,498.0 366.3,498.2 365.1,498.5 364.6,499.0 363.8,499.2 362.1,501.0 361.3,502.5 360.8,503.0 360.8,503.5 360.3,504.2 360.1,506.0 359.8,506.2 359.8,512.0 360.1,512.2 360.3,514.7 361.8,517.7 362.6,518.5 363.6,519.0 366.1,519.2 366.3,519.5 367.6,519.5 372.1,517.7 373.3,516.5 375.6,512.7 375.6,512.2 375.8,512.0 375.8,510.7 376.1,510.5 376.1,507.5 375.8,507.2 375.8,506.0 375.6,505.7 375.1,503.7 374.3,502.2 373.3,501.0 373.6,499.5 374.1,498.7 374.6,496.7 375.1,496.0 375.1,494.2Z" fill="#3e6dbe" fill-rule="evenodd"/><path d="M373.1,493.0 371.8,493.0 370.6,494.0 369.6,497.2 368.6,499.2 368.3,499.0 367.3,499.0 367.1,499.2 366.1,499.2 364.6,500.0 363.1,501.2 361.3,504.0 361.3,504.5 360.6,506.2 360.6,507.2 360.3,507.5 360.3,511.7 360.6,512.0 360.6,513.0 361.8,516.2 363.1,518.0 364.1,518.7 365.8,519.0 366.1,519.2 367.8,519.2 369.3,518.5 370.6,518.2 372.1,517.5 372.8,516.7 374.8,513.5 374.8,513.0 375.1,512.7 375.1,511.5 375.3,511.2 375.3,507.7 375.1,507.5 375.1,506.5 374.8,506.2 374.6,504.7 373.6,502.7 372.6,501.5 373.1,499.5 373.6,498.7 374.1,496.7 374.6,496.0 374.6,494.2Z" fill="#3d8ad2" fill-rule="evenodd"/><path d="M373.1,493.5 372.1,493.5 371.1,494.2 369.1,500.0 368.8,500.2 366.6,500.2 364.8,501.0 362.6,503.5 361.3,506.5 361.3,507.5 361.1,507.7 361.1,511.5 361.3,511.7 361.3,512.7 361.6,513.0 361.8,514.2 363.1,516.5 364.8,518.2 366.1,518.7 366.8,518.7 367.1,519.0 367.3,518.7 368.3,518.7 371.3,517.5 372.1,517.0 372.8,516.0 374.1,513.5 374.3,511.5 374.6,511.2 374.6,508.0 374.3,507.7 374.3,506.7 374.1,506.5 373.8,505.0 373.1,503.5 371.8,502.0 371.8,501.5 372.6,500.0 373.3,497.2 374.1,495.7 374.1,494.5Z" fill="#3aa9e2" fill-rule="evenodd"/><path d="M372.8,494.0 372.3,494.0 371.6,494.5 371.1,496.2 370.6,497.0 370.1,499.0 369.6,499.7 369.3,501.0 369.1,501.2 368.8,501.0 366.8,501.0 365.1,501.7 363.3,503.5 363.1,504.2 362.6,504.7 362.6,505.2 362.1,506.0 362.1,506.7 361.8,507.0 361.6,510.7 361.8,511.0 361.8,512.2 362.1,512.5 362.1,513.2 362.6,514.0 362.6,514.5 363.1,515.0 363.3,515.7 365.1,517.5 366.8,518.2 368.6,518.2 368.8,518.0 370.1,517.7 370.8,517.2 372.6,515.2 373.8,512.2 374.1,509.0 373.8,508.7 373.6,506.2 372.6,504.0 371.1,502.2 371.6,500.5 372.1,499.7 372.6,497.7 373.1,497.0 373.1,496.5 373.6,495.5 373.6,494.7Z" fill="#3cbde9" fill-rule="evenodd"/><path d="M366.6,502.2 365.6,502.7 363.8,504.5 363.1,506.0 362.8,507.5 362.6,507.7 362.6,512.0 363.6,514.5 365.1,516.2 365.8,516.7 368.1,517.2 368.3,517.0 369.8,516.7 370.6,516.2 372.3,514.2 373.1,512.5 373.1,511.5 373.3,511.2 373.3,509.2 373.1,509.0 373.1,507.7 372.8,507.5 372.6,506.0 371.6,504.2 369.6,502.5 369.1,502.5 368.8,502.2Z" fill="#58c29c" fill-rule="evenodd"/><path d="M367.1,503.2 365.8,503.7 364.6,505.0 363.6,506.7 363.3,508.2 363.1,508.5 363.1,511.7 363.3,512.0 363.3,512.7 364.8,515.2 366.3,516.2 368.6,516.5 370.3,515.7 372.3,513.5 372.3,513.0 372.8,512.0 372.8,509.0 372.6,508.7 372.3,507.2 371.1,505.0 369.3,503.5 368.8,503.5 368.6,503.2Z" fill="#6ebf47" fill-rule="evenodd"/><path d="M367.3,506.2 366.1,506.7 364.8,508.0 364.1,510.0 364.1,511.5 364.8,513.5 366.1,514.7 367.3,515.2 368.8,515.2 369.1,515.0 369.6,515.0 371.1,513.7 371.8,512.2 372.1,510.5 371.8,510.2 371.8,509.2 371.1,507.7 370.3,507.0 368.8,506.2Z" fill="#80c443" fill-rule="evenodd"/><path d="M367.1,507.0 365.8,507.7 365.1,508.7 364.8,510.0 364.6,510.2 364.6,511.5 365.3,513.2 366.3,514.2 367.6,514.7 368.6,514.7 369.8,514.2 370.8,513.2 371.3,512.2 371.6,510.5 371.3,510.2 371.3,509.2 370.3,507.7 369.1,507.0Z" fill="#bcd42e" fill-rule="evenodd"/><path d="M367.1,507.5 365.3,509.0 365.3,509.5 365.1,509.7 365.1,512.0 365.6,513.0 366.6,514.0 367.1,514.0 367.3,514.2 368.8,514.2 369.8,513.7 370.6,513.0 371.1,512.0 371.1,509.7 370.6,508.7 369.6,507.7 369.1,507.5Z" fill="#fae515" fill-rule="evenodd"/><path d="M367.6,508.0 366.1,509.0 365.6,510.0 365.6,511.7 366.6,513.2 368.3,513.7 369.8,513.0 370.3,512.2 370.3,511.7 370.6,511.5 370.6,510.0 369.6,508.5 368.6,508.0Z" fill="#f6a11c" fill-rule="evenodd"/><path d="M367.6,508.7 367.1,509.0 366.3,510.0 366.3,511.7 367.1,512.7 368.3,513.0 368.6,512.7 369.1,512.7 369.8,511.7 369.8,510.0 369.1,509.0 368.6,508.7Z" fill="#e5262a" fill-rule="evenodd"/></g>
<path d="M377.3,484.8h1.2v1.2h-1.2zM374.4,486.6h1.2v1.2h-1.2zM378.1,490.7h1.2v1.2h-1.2zM379.3,485.4h1.2v1.2h-1.2z" fill="#2d4aab"/>
<g filter="url(#bl)"><path d="M446.9,290.6 446.4,291.1 444.6,295.1 444.6,302.6 444.4,302.9 444.6,313.6 444.4,313.9 444.4,315.9 444.6,316.1 444.6,321.9 444.9,322.4 445.9,323.4 445.9,323.6 447.9,325.4 458.6,325.6 458.9,325.4 467.1,325.1 467.4,324.9 468.9,324.9 470.9,323.9 472.9,322.1 472.9,319.4 472.6,319.1 472.6,318.6 471.9,317.6 471.6,317.6 469.9,315.9 469.6,315.9 467.4,313.9 466.4,312.4 465.9,311.1 465.4,310.6 465.4,309.1 465.9,308.1 466.1,306.4 466.9,304.4 466.6,300.4 466.4,300.1 466.4,298.6 466.1,298.4 466.1,297.9 464.9,296.6 461.9,294.4 461.4,294.4 461.1,294.1 459.9,294.1 459.6,293.9 457.9,293.9 457.6,293.6 456.6,293.6 456.1,293.4 455.4,292.6 454.6,290.6 453.4,289.6 450.4,288.9ZM455.9,308.9 456.6,308.9 457.1,309.4 457.6,310.6 457.6,312.1 457.4,312.4 457.4,312.9 456.4,313.9 455.6,313.6 454.9,312.4 454.9,310.4Z" fill="#2b45a2" fill-rule="evenodd"/><path d="M447.1,290.6 446.6,291.1 444.9,294.9 444.9,302.1 444.6,302.4 444.6,309.6 444.9,309.9 444.6,316.4 444.9,316.6 444.9,322.1 447.1,324.6 447.9,325.1 449.4,325.1 449.6,325.4 450.4,325.4 450.6,325.1 452.4,325.1 452.6,325.4 459.1,325.4 459.4,325.1 467.4,324.9 467.6,324.6 469.1,324.6 470.9,323.6 472.6,322.1 472.6,319.1 471.9,317.9 471.6,317.9 469.6,315.9 468.4,315.1 467.1,313.9 465.1,310.6 465.1,308.9 465.4,308.6 465.4,308.1 465.9,307.1 465.9,306.4 466.4,305.4 466.4,304.6 466.6,304.4 466.4,300.4 466.1,300.1 466.1,298.6 465.9,298.4 465.9,297.9 461.9,294.6 460.1,294.4 459.9,294.1 457.9,294.1 457.6,293.9 456.6,293.9 456.1,293.6 455.1,292.6 454.4,290.6 453.6,289.9 453.1,289.9 452.1,289.4 451.4,289.4 451.1,289.1 450.1,289.1ZM456.1,308.4 457.1,308.9 457.9,310.6 457.9,312.1 457.6,312.4 457.6,312.9 456.6,314.1 455.9,314.1 455.1,313.4 454.6,312.1 454.9,309.9Z" fill="#3a55aa" fill-rule="evenodd"/><path d="M447.1,291.1 445.6,294.1 445.6,294.6 445.4,294.9 445.4,296.9 445.1,297.1 445.1,307.4 445.4,307.6 445.4,309.6 445.6,309.9 445.6,310.6 446.4,312.1 445.6,312.9 445.4,314.4 445.1,314.6 445.1,321.4 445.4,321.6 445.4,322.1 447.9,324.6 448.4,324.9 453.9,324.9 454.1,324.6 455.6,324.6 455.9,324.9 458.6,324.9 458.9,324.6 467.9,324.4 468.1,324.1 469.1,324.1 470.4,323.4 472.1,321.4 472.1,319.4 471.9,319.1 471.9,318.6 468.6,315.6 466.1,314.1 457.6,314.1 456.1,314.9 455.9,314.6 455.4,314.6 454.6,313.9 453.9,312.4 454.1,312.1 454.4,309.9 454.9,308.6 457.4,306.4 458.1,306.1 459.6,306.9 461.4,307.1 463.1,306.4 463.6,305.9 464.9,303.6 464.9,302.9 465.1,302.6 465.1,299.6 464.9,299.4 464.6,298.1 462.6,296.1 461.4,295.4 457.6,295.6 456.6,294.6 455.1,293.6 454.1,291.6 454.1,291.1 453.4,290.4 452.4,289.9 449.9,289.6Z" fill="#3c5db0" fill-rule="evenodd"/><path d="M460.6,298.4 459.4,299.4 458.9,300.6 458.9,301.4 459.4,302.6 460.1,303.4 461.1,303.6 462.1,303.1 462.6,302.1 462.6,299.9 462.1,298.9 461.1,298.4ZM447.6,291.1 446.6,292.4 446.6,292.9 445.6,294.9 445.6,296.6 445.4,296.9 445.4,305.6 445.6,305.9 445.6,307.4 446.9,310.6 448.1,312.1 446.1,313.9 445.4,315.4 445.4,321.4 445.6,321.6 445.6,322.1 448.1,324.6 467.9,324.1 469.9,323.4 471.4,321.6 471.4,321.1 471.6,320.9 471.6,319.1 470.9,317.9 468.6,315.9 467.1,315.1 461.1,315.1 460.9,314.9 455.1,315.1 454.6,314.9 454.1,314.1 452.4,312.6 452.4,312.1 453.1,311.4 453.4,310.6 454.1,309.6 454.1,309.1 454.9,307.9 455.1,306.6 455.6,305.9 455.6,305.4 456.4,303.6 456.4,302.9 456.9,301.6 456.6,298.9 456.1,297.9 456.1,297.1 455.9,296.9 455.4,294.9 454.4,293.1 454.4,292.6 453.6,291.1 452.9,290.4 452.4,290.4 451.4,289.9 449.9,289.9Z" fill="#3e6dbe" fill-rule="evenodd"/><path d="M447.9,291.1 447.4,291.6 446.4,293.6 446.4,294.1 445.9,295.1 445.9,296.1 445.6,296.4 445.6,304.6 445.9,304.9 446.1,307.1 446.9,308.6 446.9,309.1 447.4,309.6 447.6,310.4 448.9,311.6 448.9,312.6 446.9,313.9 446.1,314.9 445.6,316.1 445.6,321.6 445.9,322.1 448.1,324.4 448.9,324.4 449.1,324.6 452.4,324.4 453.1,323.9 467.9,323.9 468.1,323.6 468.9,323.6 469.6,323.1 470.9,321.6 470.9,321.1 471.1,320.9 471.1,318.9 470.4,317.6 468.6,316.1 467.6,315.6 461.4,315.6 461.1,315.4 456.9,315.4 456.6,315.6 455.9,315.6 455.6,315.4 454.1,315.4 453.1,313.9 452.1,313.1 452.1,311.1 453.1,309.9 454.4,307.4 454.4,306.9 455.1,305.1 455.1,304.4 455.4,304.1 455.4,303.1 455.6,302.9 455.6,298.4 455.4,298.1 455.4,297.1 455.1,296.9 455.1,296.1 454.9,295.9 454.1,293.1 453.1,291.1 452.6,290.6 451.4,290.1 449.9,290.1Z" fill="#3d8ad2" fill-rule="evenodd"/><path d="M448.9,290.9 447.6,291.9 446.6,293.9 446.6,294.4 446.1,295.4 446.1,296.4 445.9,296.6 445.9,303.1 446.1,303.4 446.4,305.9 447.9,309.4 449.1,310.6 449.1,313.1 448.6,313.6 447.9,313.9 446.6,315.1 445.9,316.6 445.9,318.6 445.6,319.1 445.9,319.4 445.9,321.1 446.1,321.4 446.1,321.9 447.9,323.9 448.9,324.4 451.1,324.4 452.4,323.9 452.9,323.4 463.9,323.4 464.1,323.6 467.1,323.6 467.4,323.4 468.4,323.4 469.9,322.4 470.6,321.1 470.6,318.6 468.9,316.6 467.9,316.1 463.6,316.1 463.4,315.9 453.9,315.9 453.4,315.1 451.6,313.6 451.6,310.4 452.9,308.9 453.9,306.9 453.9,306.4 454.4,305.4 454.4,304.6 454.6,304.4 454.6,303.6 454.9,303.4 454.9,301.6 455.1,301.4 454.9,297.6 454.6,297.4 454.6,296.4 454.1,295.4 454.1,294.6 452.6,291.6 451.6,290.6 451.1,290.6 450.9,290.4 449.9,290.4Z" fill="#3aa9e2" fill-rule="evenodd"/><path d="M449.1,291.1 447.9,292.1 446.9,293.9 446.9,294.4 446.4,295.4 446.4,296.1 446.1,296.4 446.1,298.4 445.9,298.6 445.9,299.6 446.1,299.9 446.1,302.4 446.4,302.6 446.6,305.1 447.6,307.9 448.1,308.6 449.6,309.9 449.6,313.6 447.6,314.6 446.6,315.9 446.1,317.1 446.1,318.6 445.9,319.1 446.1,319.4 446.1,320.9 446.4,321.1 446.4,321.6 448.4,323.9 448.9,323.9 449.1,324.1 450.9,324.1 451.1,323.9 451.6,323.9 452.6,323.1 468.1,323.1 469.4,322.4 470.1,321.4 470.1,320.9 470.4,320.6 470.4,318.9 469.9,317.9 468.4,316.6 467.9,316.6 467.6,316.4 453.6,316.4 452.9,315.1 451.4,313.9 451.4,312.6 451.1,312.4 451.1,309.9 452.9,307.9 454.1,304.6 454.4,302.1 454.6,301.9 454.6,298.6 454.4,298.4 454.1,295.9 452.6,292.4 451.6,291.4 450.6,290.9Z" fill="#3cbde9" fill-rule="evenodd"/><path d="M446.6,317.4 446.6,320.6 447.4,322.1 448.9,323.4 451.1,323.4 452.1,322.6 467.9,322.6 468.9,322.1 469.9,320.6 469.9,319.1 469.6,318.9 469.6,318.4 468.6,317.4 467.6,316.9 453.1,316.9 452.6,315.9 451.1,314.6 448.9,314.6 447.4,315.9ZM449.6,291.6 449.4,291.9 448.9,291.9 447.9,292.9 446.9,294.6 446.6,296.1 446.4,296.4 446.1,299.6 446.4,299.9 446.6,302.9 446.9,303.1 446.9,303.9 447.1,304.1 447.6,306.1 448.9,308.1 449.6,308.6 450.6,308.6 452.4,307.1 452.9,306.1 452.9,305.6 453.4,304.9 453.4,304.1 453.9,302.9 453.9,301.9 454.1,301.6 454.1,297.6 453.9,297.4 453.9,296.4 453.6,296.1 453.4,294.6 452.4,292.9 451.6,292.1 450.6,291.6Z" fill="#58c29c" fill-rule="evenodd"/><path d="M447.1,317.6 447.1,320.4 447.4,320.6 447.4,321.1 448.4,322.4 449.4,322.9 450.6,322.9 451.9,322.1 467.9,322.1 468.4,321.9 469.4,320.6 469.4,318.9 468.6,317.9 467.6,317.4 457.1,317.4 456.9,317.1 452.9,317.1 451.6,315.6 450.6,315.1 449.4,315.1 447.9,316.1ZM449.4,292.1 447.6,293.6 446.9,295.1 446.6,297.1 446.4,297.4 446.4,300.4 446.6,300.6 446.6,301.6 446.9,301.9 446.9,302.6 447.1,302.9 447.4,304.1 448.4,306.1 449.1,307.1 449.6,307.4 450.9,307.4 452.1,306.1 453.6,302.4 453.6,301.4 453.9,301.1 453.9,297.4 453.6,297.1 453.6,296.1 453.4,295.9 453.1,294.6 452.4,293.4 450.9,292.1Z" fill="#6ebf47" fill-rule="evenodd"/><path d="M449.4,293.1 448.9,293.4 447.6,294.9 447.6,295.4 447.1,296.4 447.1,297.4 446.9,297.6 446.9,299.9 447.1,300.1 447.1,301.1 447.9,302.9 449.1,304.1 449.9,304.1 450.1,304.4 451.4,303.9 452.1,303.1 452.9,301.6 452.9,300.9 453.1,300.6 453.1,296.6 452.4,294.6 451.1,293.4 450.6,293.1Z" fill="#80c443" fill-rule="evenodd"/><path d="M449.9,293.6 449.6,293.9 449.1,293.9 448.1,294.9 447.6,295.9 447.6,296.4 447.4,296.6 447.4,300.4 447.6,300.6 447.9,301.9 448.6,302.9 449.4,303.4 450.6,303.4 451.1,303.1 452.4,301.6 452.6,300.1 452.9,299.9 452.9,297.4 452.6,297.1 452.4,295.6 451.6,294.4 450.4,293.6Z" fill="#bcd42e" fill-rule="evenodd"/><path d="M449.6,294.1 448.4,295.1 447.9,296.1 447.9,296.6 447.6,296.9 447.6,300.1 448.4,301.9 449.1,302.6 450.4,302.9 451.6,302.1 452.4,300.6 452.4,299.9 452.6,299.6 452.6,297.6 452.4,297.4 452.4,296.6 451.9,295.4 450.9,294.4Z" fill="#fae515" fill-rule="evenodd"/><path d="M449.9,294.9 448.6,295.9 448.1,296.9 448.1,300.1 448.6,301.1 449.4,301.9 450.6,301.9 451.4,301.4 451.9,300.4 451.9,299.9 452.1,299.6 452.1,297.6 451.4,295.6 450.9,295.1Z" fill="#f6a11c" fill-rule="evenodd"/><path d="M449.6,295.9 448.6,297.4 448.6,299.9 449.6,301.1 450.4,301.1 451.4,300.1 451.4,299.6 451.6,299.4 451.6,297.9 451.1,296.6 450.4,295.9Z" fill="#e5262a" fill-rule="evenodd"/></g>
<path d="M442.2,309.1h1.2v1.2h-1.2zM441.8,319.9h1.2v1.2h-1.2zM442.2,310.8h1.2v1.2h-1.2zM445.6,305.5h1.2v1.2h-1.2zM445.8,316.9h1.2v1.2h-1.2zM466.4,295.8h1.2v1.2h-1.2zM466.7,294.2h1.2v1.2h-1.2zM470.0,294.4h1.2v1.2h-1.2zM469.9,297.1h1.2v1.2h-1.2z" fill="#2d4aab"/>
<g filter="url(#bl)"><path d="M447.2,488.6 446.7,489.1 444.9,493.1 444.9,500.6 444.7,500.9 444.9,511.6 444.7,511.9 444.7,513.9 444.9,514.1 444.9,519.9 445.2,520.4 446.2,521.4 446.2,521.6 448.2,523.4 458.9,523.6 459.2,523.4 467.4,523.1 467.7,522.9 469.2,522.9 471.2,521.9 473.2,520.1 473.2,517.4 472.9,517.1 472.9,516.6 472.2,515.6 471.9,515.6 470.2,513.9 469.9,513.9 467.7,511.9 466.7,510.4 466.2,509.1 465.7,508.6 465.7,507.1 466.2,506.1 466.4,504.4 467.2,502.4 466.9,498.4 466.7,498.1 466.7,496.6 466.4,496.4 466.4,495.9 465.2,494.6 462.2,492.4 461.7,492.4 461.4,492.1 460.2,492.1 459.9,491.9 458.2,491.9 457.9,491.6 456.9,491.6 456.4,491.4 455.7,490.6 454.9,488.6 453.7,487.6 450.7,486.9ZM456.2,506.9 456.9,506.9 457.4,507.4 457.9,508.6 457.9,510.1 457.7,510.4 457.7,510.9 456.7,511.9 455.9,511.6 455.2,510.4 455.2,508.4Z" fill="#2b45a2" fill-rule="evenodd"/><path d="M447.4,488.6 446.9,489.1 445.2,492.9 445.2,500.1 444.9,500.4 444.9,507.6 445.2,507.9 444.9,514.4 445.2,514.6 445.2,520.1 447.4,522.6 448.2,523.1 449.7,523.1 449.9,523.4 450.7,523.4 450.9,523.1 452.7,523.1 452.9,523.4 459.4,523.4 459.7,523.1 467.7,522.9 467.9,522.6 469.4,522.6 471.2,521.6 472.9,520.1 472.9,517.1 472.2,515.9 471.9,515.9 469.9,513.9 468.7,513.1 467.4,511.9 465.4,508.6 465.4,506.9 465.7,506.6 465.7,506.1 466.2,505.1 466.2,504.4 466.7,503.4 466.7,502.6 466.9,502.4 466.7,498.4 466.4,498.1 466.4,496.6 466.2,496.4 466.2,495.9 462.2,492.6 460.4,492.4 460.2,492.1 458.2,492.1 457.9,491.9 456.9,491.9 456.4,491.6 455.4,490.6 454.7,488.6 453.9,487.9 453.4,487.9 452.4,487.4 451.7,487.4 451.4,487.1 450.4,487.1ZM456.4,506.4 457.4,506.9 458.2,508.6 458.2,510.1 457.9,510.4 457.9,510.9 456.9,512.1 456.2,512.1 455.4,511.4 454.9,510.1 455.2,507.9Z" fill="#3a55aa" fill-rule="evenodd"/><path d="M447.4,489.1 445.9,492.1 445.9,492.6 445.7,492.9 445.7,494.9 445.4,495.1 445.4,505.4 445.7,505.6 445.7,507.6 445.9,507.9 445.9,508.6 446.7,510.1 445.9,510.9 445.7,512.4 445.4,512.6 445.4,519.4 445.7,519.6 445.7,520.1 448.2,522.6 448.7,522.9 454.2,522.9 454.4,522.6 455.9,522.6 456.2,522.9 458.9,522.9 459.2,522.6 468.2,522.4 468.4,522.1 469.4,522.1 470.7,521.4 472.4,519.4 472.4,517.4 472.2,517.1 472.2,516.6 468.9,513.6 466.4,512.1 457.9,512.1 456.4,512.9 456.2,512.6 455.7,512.6 454.9,511.9 454.2,510.4 454.4,510.1 454.7,507.9 455.2,506.6 457.7,504.4 458.4,504.1 459.9,504.9 461.7,505.1 463.4,504.4 463.9,503.9 465.2,501.6 465.2,500.9 465.4,500.6 465.4,497.6 465.2,497.4 464.9,496.1 462.9,494.1 461.7,493.4 457.9,493.6 456.9,492.6 455.4,491.6 454.4,489.6 454.4,489.1 453.7,488.4 452.7,487.9 450.2,487.6Z" fill="#3c5db0" fill-rule="evenodd"/><path d="M460.9,496.4 459.7,497.4 459.2,498.6 459.2,499.4 459.7,500.6 460.4,501.4 461.4,501.6 462.4,501.1 462.9,500.1 462.9,497.9 462.4,496.9 461.4,496.4ZM447.9,489.1 446.9,490.4 446.9,490.9 445.9,492.9 445.9,494.6 445.7,494.9 445.7,503.6 445.9,503.9 445.9,505.4 447.2,508.6 448.4,510.1 446.4,511.9 445.7,513.4 445.7,519.4 445.9,519.6 445.9,520.1 448.4,522.6 468.2,522.1 470.2,521.4 471.7,519.6 471.7,519.1 471.9,518.9 471.9,517.1 471.2,515.9 468.9,513.9 467.4,513.1 461.4,513.1 461.2,512.9 455.4,513.1 454.9,512.9 454.4,512.1 452.7,510.6 452.7,510.1 453.4,509.4 453.7,508.6 454.4,507.6 454.4,507.1 455.2,505.9 455.4,504.6 455.9,503.9 455.9,503.4 456.7,501.6 456.7,500.9 457.2,499.6 456.9,496.9 456.4,495.9 456.4,495.1 456.2,494.9 455.7,492.9 454.7,491.1 454.7,490.6 453.9,489.1 453.2,488.4 452.7,488.4 451.7,487.9 450.2,487.9Z" fill="#3e6dbe" fill-rule="evenodd"/><path d="M448.2,489.1 447.7,489.6 446.7,491.6 446.7,492.1 446.2,493.1 446.2,494.1 445.9,494.4 445.9,502.6 446.2,502.9 446.4,505.1 447.2,506.6 447.2,507.1 447.7,507.6 447.9,508.4 449.2,509.6 449.2,510.6 447.2,511.9 446.4,512.9 445.9,514.1 445.9,519.6 446.2,520.1 448.4,522.4 449.2,522.4 449.4,522.6 452.7,522.4 453.4,521.9 468.2,521.9 468.4,521.6 469.2,521.6 469.9,521.1 471.2,519.6 471.2,519.1 471.4,518.9 471.4,516.9 470.7,515.6 468.9,514.1 467.9,513.6 461.7,513.6 461.4,513.4 457.2,513.4 456.9,513.6 456.2,513.6 455.9,513.4 454.4,513.4 453.4,511.9 452.4,511.1 452.4,509.1 453.4,507.9 454.7,505.4 454.7,504.9 455.4,503.1 455.4,502.4 455.7,502.1 455.7,501.1 455.9,500.9 455.9,496.4 455.7,496.1 455.7,495.1 455.4,494.9 455.4,494.1 455.2,493.9 454.4,491.1 453.4,489.1 452.9,488.6 451.7,488.1 450.2,488.1Z" fill="#3d8ad2" fill-rule="evenodd"/><path d="M449.2,488.9 447.9,489.9 446.9,491.9 446.9,492.4 446.4,493.4 446.4,494.4 446.2,494.6 446.2,501.1 446.4,501.4 446.7,503.9 448.2,507.4 449.4,508.6 449.4,511.1 448.9,511.6 448.2,511.9 446.9,513.1 446.2,514.6 446.2,516.6 445.9,517.1 446.2,517.4 446.2,519.1 446.4,519.4 446.4,519.9 448.2,521.9 449.2,522.4 451.4,522.4 452.7,521.9 453.2,521.4 464.2,521.4 464.4,521.6 467.4,521.6 467.7,521.4 468.7,521.4 470.2,520.4 470.9,519.1 470.9,516.6 469.2,514.6 468.2,514.1 463.9,514.1 463.7,513.9 454.2,513.9 453.7,513.1 451.9,511.6 451.9,508.4 453.2,506.9 454.2,504.9 454.2,504.4 454.7,503.4 454.7,502.6 454.9,502.4 454.9,501.6 455.2,501.4 455.2,499.6 455.4,499.4 455.2,495.6 454.9,495.4 454.9,494.4 454.4,493.4 454.4,492.6 452.9,489.6 451.9,488.6 451.4,488.6 451.2,488.4 450.2,488.4Z" fill="#3aa9e2" fill-rule="evenodd"/><path d="M449.4,489.1 448.2,490.1 447.2,491.9 447.2,492.4 446.7,493.4 446.7,494.1 446.4,494.4 446.4,496.4 446.2,496.6 446.2,497.6 446.4,497.9 446.4,500.4 446.7,500.6 446.9,503.1 447.9,505.9 448.4,506.6 449.9,507.9 449.9,511.6 447.9,512.6 446.9,513.9 446.4,515.1 446.4,516.6 446.2,517.1 446.4,517.4 446.4,518.9 446.7,519.1 446.7,519.6 448.7,521.9 449.2,521.9 449.4,522.1 451.2,522.1 451.4,521.9 451.9,521.9 452.9,521.1 468.4,521.1 469.7,520.4 470.4,519.4 470.4,518.9 470.7,518.6 470.7,516.9 470.2,515.9 468.7,514.6 468.2,514.6 467.9,514.4 453.9,514.4 453.2,513.1 451.7,511.9 451.7,510.6 451.4,510.4 451.4,507.9 453.2,505.9 454.4,502.6 454.7,500.1 454.9,499.9 454.9,496.6 454.7,496.4 454.4,493.9 452.9,490.4 451.9,489.4 450.9,488.9Z" fill="#3cbde9" fill-rule="evenodd"/><path d="M446.9,515.4 446.9,518.6 447.7,520.1 449.2,521.4 451.4,521.4 452.4,520.6 468.2,520.6 469.2,520.1 470.2,518.6 470.2,517.1 469.9,516.9 469.9,516.4 468.9,515.4 467.9,514.9 453.4,514.9 452.9,513.9 451.4,512.6 449.2,512.6 447.7,513.9ZM449.9,489.6 449.7,489.9 449.2,489.9 448.2,490.9 447.2,492.6 446.9,494.1 446.7,494.4 446.4,497.6 446.7,497.9 446.9,500.9 447.2,501.1 447.2,501.9 447.4,502.1 447.9,504.1 449.2,506.1 449.9,506.6 450.9,506.6 452.7,505.1 453.2,504.1 453.2,503.6 453.7,502.9 453.7,502.1 454.2,500.9 454.2,499.9 454.4,499.6 454.4,495.6 454.2,495.4 454.2,494.4 453.9,494.1 453.7,492.6 452.7,490.9 451.9,490.1 450.9,489.6Z" fill="#58c29c" fill-rule="evenodd"/><path d="M447.4,515.6 447.4,518.4 447.7,518.6 447.7,519.1 448.7,520.4 449.7,520.9 450.9,520.9 452.2,520.1 468.2,520.1 468.7,519.9 469.7,518.6 469.7,516.9 468.9,515.9 467.9,515.4 457.4,515.4 457.2,515.1 453.2,515.1 451.9,513.6 450.9,513.1 449.7,513.1 448.2,514.1ZM449.7,490.1 447.9,491.6 447.2,493.1 446.9,495.1 446.7,495.4 446.7,498.4 446.9,498.6 446.9,499.6 447.2,499.9 447.2,500.6 447.4,500.9 447.7,502.1 448.7,504.1 449.4,505.1 449.9,505.4 451.2,505.4 452.4,504.1 453.9,500.4 453.9,499.4 454.2,499.1 454.2,495.4 453.9,495.1 453.9,494.1 453.7,493.9 453.4,492.6 452.7,491.4 451.2,490.1Z" fill="#6ebf47" fill-rule="evenodd"/><path d="M449.7,491.1 449.2,491.4 447.9,492.9 447.9,493.4 447.4,494.4 447.4,495.4 447.2,495.6 447.2,497.9 447.4,498.1 447.4,499.1 448.2,500.9 449.4,502.1 450.2,502.1 450.4,502.4 451.7,501.9 452.4,501.1 453.2,499.6 453.2,498.9 453.4,498.6 453.4,494.6 452.7,492.6 451.4,491.4 450.9,491.1Z" fill="#80c443" fill-rule="evenodd"/><path d="M450.2,491.6 449.9,491.9 449.4,491.9 448.4,492.9 447.9,493.9 447.9,494.4 447.7,494.6 447.7,498.4 447.9,498.6 448.2,499.9 448.9,500.9 449.7,501.4 450.9,501.4 451.4,501.1 452.7,499.6 452.9,498.1 453.2,497.9 453.2,495.4 452.9,495.1 452.7,493.6 451.9,492.4 450.7,491.6Z" fill="#bcd42e" fill-rule="evenodd"/><path d="M449.9,492.1 448.7,493.1 448.2,494.1 448.2,494.6 447.9,494.9 447.9,498.1 448.7,499.9 449.4,500.6 450.7,500.9 451.9,500.1 452.7,498.6 452.7,497.9 452.9,497.6 452.9,495.6 452.7,495.4 452.7,494.6 452.2,493.4 451.2,492.4Z" fill="#fae515" fill-rule="evenodd"/><path d="M450.2,492.9 448.9,493.9 448.4,494.9 448.4,498.1 448.9,499.1 449.7,499.9 450.9,499.9 451.7,499.4 452.2,498.4 452.2,497.9 452.4,497.6 452.4,495.6 451.7,493.6 451.2,493.1Z" fill="#f6a11c" fill-rule="evenodd"/><path d="M449.9,493.9 448.9,495.4 448.9,497.9 449.9,499.1 450.7,499.1 451.7,498.1 451.7,497.6 451.9,497.4 451.9,495.9 451.4,494.6 450.7,493.9Z" fill="#e5262a" fill-rule="evenodd"/></g>
<path d="M446.2,491.9h1.2v1.2h-1.2zM444.9,506.5h1.2v1.2h-1.2zM446.0,503.8h1.2v1.2h-1.2zM445.9,495.4h1.2v1.2h-1.2zM446.3,504.0h1.2v1.2h-1.2zM463.8,492.1h1.2v1.2h-1.2zM467.3,490.2h1.2v1.2h-1.2zM465.4,490.1h1.2v1.2h-1.2zM462.9,491.0h1.2v1.2h-1.2z" fill="#2d4aab"/>
<g filter="url(#bl)"><path d="M190.9,398.9 190.6,399.1 190.1,399.1 189.6,399.6 189.9,400.4 190.6,401.1 190.6,401.9 190.1,402.6 190.1,403.1 189.6,404.1 189.6,407.9 190.4,409.9 191.4,410.9 192.4,410.9 193.1,410.1 193.6,409.1 193.9,406.9 194.1,406.6 194.1,405.4 193.9,405.1 193.6,402.9 192.1,400.6 192.4,399.6 191.9,399.1ZM176.9,386.1 175.1,386.1 174.9,385.9 170.9,385.9 170.6,385.6 168.9,385.6 168.6,385.4 165.9,385.4 165.6,385.1 163.6,385.1 163.4,384.9 161.1,384.9 160.9,385.1 159.9,385.1 159.6,385.4 157.9,385.6 156.9,386.1 156.4,387.1 156.4,387.6 155.9,388.4 155.9,388.9 155.4,389.9 155.4,390.6 154.9,391.9 154.9,392.9 154.6,393.1 154.6,394.1 154.4,394.4 154.4,395.9 154.1,396.1 154.1,398.4 153.9,398.6 153.9,400.9 153.6,401.1 153.6,403.4 153.4,403.6 153.4,406.6 153.1,406.9 153.1,409.9 152.9,410.1 152.9,413.6 152.6,413.9 152.6,414.9 152.9,415.1 152.9,415.9 153.9,418.6 153.9,419.4 155.1,422.4 159.4,425.1 159.9,425.1 160.1,425.4 161.6,425.4 161.9,425.1 163.9,425.1 164.1,424.9 164.9,424.9 166.9,423.4 168.6,421.6 170.4,421.1 171.1,420.6 173.9,419.9 175.9,418.9 176.4,418.9 179.9,416.6 180.4,415.9 182.1,409.9 182.6,409.1 182.6,408.6 183.1,407.9 183.1,407.4 183.9,406.1 183.9,405.6 184.9,403.6 185.1,402.4 185.6,401.6 185.6,401.1 186.1,400.1 186.1,399.1 182.6,394.4 180.4,390.1Z" fill="#2b45a2" fill-rule="evenodd"/><path d="M190.4,399.4 190.1,399.6 190.1,400.1 190.9,400.6 191.1,401.6 190.4,402.9 190.1,404.4 189.9,404.6 189.9,407.4 190.1,407.6 190.4,409.1 191.1,410.4 192.1,410.6 193.1,409.4 193.9,405.9 193.6,405.6 193.6,404.4 193.4,404.1 193.1,402.6 191.9,400.9 191.9,399.6 191.6,399.4ZM176.6,386.4 174.9,386.4 174.6,386.1 171.1,386.1 170.9,385.9 166.1,385.6 165.9,385.4 164.1,385.4 163.9,385.1 160.9,385.1 160.6,385.4 159.6,385.4 159.4,385.6 157.6,385.9 156.6,386.9 156.4,388.1 155.6,389.6 155.6,390.4 155.1,391.6 155.1,392.6 154.9,392.9 154.9,393.9 154.6,394.1 154.6,395.4 154.4,395.6 154.4,397.9 154.1,398.1 153.9,403.1 153.6,403.4 153.6,406.1 153.4,406.4 153.4,409.6 153.1,409.9 153.1,413.4 152.9,413.6 152.9,415.1 153.1,415.4 153.1,416.1 153.4,416.4 153.4,416.9 153.9,417.9 153.9,418.6 154.1,418.9 155.1,422.1 159.9,425.1 162.4,425.1 162.6,424.9 164.1,424.9 164.4,424.6 164.9,424.6 166.9,422.9 167.1,422.9 168.6,421.4 169.6,421.1 170.9,420.4 171.4,420.4 171.6,420.1 173.6,419.6 174.4,419.1 175.6,418.9 177.6,417.9 178.4,417.1 179.4,416.6 180.1,415.6 181.9,409.6 182.4,408.9 182.9,407.1 183.6,405.9 183.6,405.4 184.6,403.4 185.9,399.4 182.4,394.6 180.4,390.6 178.9,388.6 177.1,386.9 177.1,386.6Z" fill="#3a55aa" fill-rule="evenodd"/><path d="M162.9,385.4 161.6,385.4 161.4,385.6 160.4,385.6 160.1,385.9 158.1,386.1 157.6,386.4 156.9,387.4 156.6,388.6 155.9,390.1 155.6,392.1 155.4,392.4 155.4,393.4 155.1,393.6 155.1,394.6 154.9,394.9 154.6,398.9 154.4,399.1 154.4,401.4 154.1,401.6 154.1,403.9 153.9,404.1 153.9,407.4 153.6,407.6 153.6,413.6 153.4,413.9 153.4,414.9 153.6,415.1 153.6,415.9 154.1,416.9 154.1,417.6 154.6,418.6 154.6,419.4 154.9,419.6 155.1,420.9 156.1,422.4 158.4,423.9 159.1,424.1 159.6,424.6 160.1,424.6 160.4,424.9 163.4,424.6 163.6,424.4 164.9,424.1 168.1,420.6 169.4,416.6 169.6,416.4 169.6,415.9 170.1,415.1 170.1,414.6 171.4,412.1 173.1,409.9 174.9,406.9 174.9,406.4 175.4,405.6 175.4,404.9 175.6,404.6 175.9,401.9 176.1,401.6 176.1,398.4 175.9,398.1 175.6,395.4 175.4,395.1 174.9,393.1 173.1,390.4 171.1,388.6 170.9,388.6 169.1,386.9 168.1,386.4 165.9,386.1 164.6,385.6 163.1,385.6Z" fill="#3c5db0" fill-rule="evenodd"/><path d="M162.9,385.6 161.4,385.6 161.1,385.9 160.1,385.9 159.9,386.1 158.1,386.4 157.4,387.1 156.9,388.1 156.9,388.6 156.1,390.1 155.9,392.1 155.6,392.4 155.6,393.4 155.4,393.6 155.4,394.6 155.1,394.9 154.9,398.6 154.6,398.9 154.6,401.1 154.4,401.4 154.4,403.9 154.1,404.1 153.9,414.1 154.1,414.4 154.1,415.6 154.4,415.9 154.9,418.6 155.4,419.6 155.4,420.4 156.4,422.1 158.9,423.9 160.4,424.6 163.9,424.1 164.9,423.6 165.9,422.1 165.9,421.6 166.4,420.9 166.4,420.4 167.4,417.9 167.4,417.1 167.9,416.1 167.9,415.4 168.4,414.4 168.4,413.6 168.9,412.6 168.9,411.9 169.4,410.9 169.4,410.1 169.9,409.1 169.9,408.4 170.4,407.4 170.4,406.6 170.9,405.6 170.9,404.9 171.1,404.6 171.4,402.9 171.6,402.6 171.6,398.4 171.4,398.1 171.4,397.4 171.1,397.1 170.9,395.9 170.1,394.6 170.1,394.1 168.6,391.1 168.1,390.6 166.6,387.4 165.6,386.4 164.4,386.1 164.1,385.9 163.1,385.9Z" fill="#3e6dbe" fill-rule="evenodd"/><path d="M162.9,385.9 159.9,386.1 157.9,386.9 157.4,387.6 157.4,388.1 156.9,388.9 156.9,389.4 156.1,391.1 155.9,393.1 155.6,393.4 155.6,394.4 155.4,394.6 155.1,398.1 154.9,398.4 154.9,400.6 154.6,400.9 154.6,403.6 154.4,403.9 154.4,412.6 154.6,412.9 154.6,414.4 154.9,414.6 154.9,415.9 155.1,416.1 155.6,418.9 156.6,421.6 158.1,423.1 160.4,424.4 161.4,424.4 161.6,424.1 163.4,423.9 164.1,423.1 165.6,420.1 165.6,419.6 166.9,416.4 166.9,415.6 167.4,414.6 167.4,413.9 167.6,413.6 167.6,412.9 167.9,412.6 167.9,411.9 168.1,411.6 168.1,410.9 168.6,409.6 168.6,408.6 168.9,408.4 168.9,407.4 169.1,407.1 169.1,406.1 169.4,405.9 169.4,404.6 169.6,404.4 169.6,398.4 169.4,398.1 169.4,397.1 168.9,396.1 168.6,394.6 165.6,388.1 164.6,386.6Z" fill="#3d8ad2" fill-rule="evenodd"/><path d="M162.1,386.4 160.6,386.4 160.4,386.6 159.1,386.9 158.1,387.9 156.9,390.4 156.9,390.9 156.4,391.9 156.4,392.6 156.1,392.9 156.1,393.6 155.9,393.9 155.6,396.4 155.4,396.6 155.1,400.9 154.9,401.1 154.9,404.4 154.6,404.6 154.9,411.1 155.1,411.4 155.4,414.6 155.6,414.9 155.6,415.9 156.4,417.9 156.4,418.6 158.1,422.1 159.1,423.1 160.1,423.6 161.4,423.6 162.4,423.1 163.1,422.4 164.9,419.4 164.9,418.9 165.4,418.1 165.4,417.6 166.4,415.1 166.4,414.4 166.6,414.1 166.6,413.4 166.9,413.1 166.9,412.4 167.1,412.1 167.1,411.4 167.6,410.1 167.9,407.6 168.1,407.4 168.1,406.1 168.4,405.9 168.4,403.6 168.6,403.4 168.4,398.4 168.1,398.1 168.1,397.1 167.9,396.9 167.9,396.1 167.6,395.9 166.9,393.1 166.1,391.9 166.1,391.4 165.6,390.4 165.1,389.9 164.4,388.4Z" fill="#3aa9e2" fill-rule="evenodd"/><path d="M160.4,387.6 159.4,388.1 158.1,389.6 156.9,392.4 156.4,394.9 156.1,395.1 156.1,395.9 155.9,396.1 155.6,399.4 155.4,399.6 155.4,402.4 155.1,402.6 155.1,408.9 155.4,409.1 155.6,413.6 155.9,413.9 155.9,414.9 156.1,415.1 156.1,415.9 156.4,416.1 156.4,416.9 156.6,417.1 157.1,419.1 158.1,420.9 159.1,421.9 159.6,422.1 161.4,422.1 163.4,420.4 165.6,415.4 165.6,414.6 166.1,413.6 166.1,412.9 166.4,412.6 166.4,411.9 166.9,410.6 166.9,409.6 167.1,409.4 167.1,408.4 167.4,408.1 167.4,406.9 167.6,406.6 167.6,404.6 167.9,404.4 167.9,400.4 167.6,400.1 167.6,398.4 167.4,398.1 167.4,397.1 166.9,396.1 166.9,395.4 166.6,395.1 166.4,393.9 164.6,390.4 162.6,388.1 161.6,387.6Z" fill="#3cbde9" fill-rule="evenodd"/><path d="M161.1,389.6 160.9,389.9 160.1,389.9 158.6,391.4 157.6,393.4 157.6,393.9 156.9,395.6 156.9,396.4 156.6,396.6 156.6,397.6 156.4,397.9 156.1,400.9 155.9,401.1 155.9,403.4 155.6,403.6 155.6,410.1 155.9,410.4 156.1,414.1 156.4,414.4 156.4,415.1 156.6,415.4 156.6,416.1 156.9,416.4 157.4,418.4 158.1,419.6 159.4,420.6 160.6,420.6 161.1,420.4 163.4,417.9 165.4,413.1 165.4,412.4 165.6,412.1 165.6,411.4 166.1,410.1 166.1,409.1 166.4,408.9 166.4,407.9 166.6,407.6 166.6,406.1 166.9,405.9 166.9,399.9 166.6,399.6 166.4,397.1 166.1,396.9 165.6,394.9 164.1,391.9 162.4,390.1Z" fill="#58c29c" fill-rule="evenodd"/><path d="M161.9,391.6 160.6,391.6 160.1,391.9 158.9,393.1 157.9,395.1 157.9,395.6 157.4,396.4 157.4,397.1 156.9,398.1 156.9,398.9 156.6,399.1 156.4,401.6 156.1,401.9 156.1,404.1 155.9,404.4 155.9,410.4 156.1,410.6 156.4,414.1 156.6,414.4 156.9,416.1 157.6,417.6 157.6,418.1 158.1,418.9 159.4,419.9 160.6,419.6 161.6,418.6 162.6,417.1 164.4,413.6 164.4,413.1 164.9,412.1 164.9,411.4 165.1,411.1 165.4,409.4 165.6,409.1 165.6,408.1 165.9,407.9 165.9,406.6 166.1,406.4 166.1,399.6 165.9,399.4 165.6,397.4 164.1,393.9 163.6,393.1Z" fill="#6ebf47" fill-rule="evenodd"/><path d="M159.6,397.6 158.6,398.1 157.6,399.9 157.6,400.4 157.1,401.4 157.1,402.4 156.9,402.6 156.9,403.9 156.6,404.1 156.6,407.1 156.4,407.4 156.4,408.6 156.6,408.9 156.6,411.9 156.9,412.1 156.9,413.4 157.1,413.6 157.4,415.4 158.4,417.4 159.1,417.9 160.4,417.6 161.1,416.6 161.9,414.6 162.1,412.6 162.4,412.4 162.4,411.1 162.6,410.9 162.6,403.9 162.4,403.6 162.4,402.4 162.1,402.1 161.9,400.4 160.6,398.1Z" fill="#80c443" fill-rule="evenodd"/><path d="M158.9,399.4 157.9,400.9 157.9,401.4 157.4,402.4 157.4,403.4 157.1,403.6 157.1,404.9 156.9,405.1 156.9,410.9 157.1,411.1 157.1,412.6 157.4,412.9 157.6,414.6 158.4,416.1 158.9,416.6 159.6,416.9 160.1,416.6 160.9,415.6 161.4,414.4 161.6,412.6 161.9,412.4 161.9,410.6 162.1,410.4 162.1,405.4 161.9,405.1 161.9,403.6 161.6,403.4 161.6,402.6 161.4,402.4 161.4,401.6 160.9,400.9 160.9,400.4 159.9,399.4Z" fill="#bcd42e" fill-rule="evenodd"/><path d="M158.9,400.4 158.1,401.4 158.1,401.9 157.6,402.9 157.6,403.6 157.4,403.9 157.4,405.1 157.1,405.4 157.1,410.6 157.4,410.9 157.6,413.4 158.6,415.6 158.9,415.9 159.9,415.9 160.6,415.1 161.4,413.1 161.4,412.1 161.6,411.9 161.6,409.9 161.9,409.6 161.9,406.6 161.6,406.4 161.6,404.4 161.4,404.1 161.4,403.1 161.1,402.9 160.9,401.6 159.9,400.4Z" fill="#fae515" fill-rule="evenodd"/><path d="M159.4,401.6 158.9,401.9 158.4,402.6 158.4,403.1 157.9,404.1 157.9,405.1 157.6,405.4 157.6,410.9 157.9,411.1 157.9,412.1 158.1,412.4 158.4,413.6 158.9,414.4 159.6,414.6 160.4,413.9 160.9,412.6 160.9,411.9 161.1,411.6 161.1,410.1 161.4,409.9 161.4,406.4 161.1,406.1 160.9,403.6 160.1,402.1Z" fill="#f6a11c" fill-rule="evenodd"/><path d="M159.1,403.4 158.4,404.6 158.4,405.4 158.1,405.6 158.1,410.4 158.4,410.6 158.6,412.1 159.1,412.9 159.6,412.9 160.1,412.4 160.6,411.1 160.6,410.1 160.9,409.9 160.9,406.6 160.6,406.4 160.6,405.1 160.1,403.9 159.6,403.4Z" fill="#e5262a" fill-rule="evenodd"/></g>
<path d="M189.4,406.1h1.2v1.2h-1.2zM192.9,401.4h1.2v1.2h-1.2zM187.5,408.9h1.2v1.2h-1.2zM189.3,402.2h1.2v1.2h-1.2zM188.5,401.6h1.2v1.2h-1.2zM185.8,407.6h1.2v1.2h-1.2zM193.8,408.8h1.2v1.2h-1.2zM191.0,401.8h1.2v1.2h-1.2zM188.8,397.9h1.2v1.2h-1.2zM192.0,400.9h1.2v1.2h-1.2zM187.2,414.6h1.2v1.2h-1.2zM187.7,414.6h1.2v1.2h-1.2zM190.8,410.2h1.2v1.2h-1.2zM190.9,398.6h1.2v1.2h-1.2zM154.9,401.5h1.2v1.2h-1.2zM153.6,398.3h1.2v1.2h-1.2zM152.2,404.2h1.2v1.2h-1.2z" fill="#2d4aab"/>
<g filter="url(#bl)"><path d="M243.4,391.9 241.6,395.9 241.6,424.6 241.9,424.9 242.9,428.4 243.6,429.1 245.4,429.9 245.9,430.4 247.1,430.9 250.6,430.9 250.9,431.1 259.9,430.9 260.1,430.6 268.9,430.6 269.1,430.4 273.6,430.4 274.4,429.9 275.1,429.9 276.6,429.1 277.1,429.1 278.1,428.1 280.1,424.1 281.4,422.9 281.9,422.9 282.1,422.6 283.9,422.6 284.1,422.4 285.9,422.4 286.1,422.1 287.6,422.1 287.9,421.9 291.1,421.6 292.4,421.1 294.4,420.9 295.1,420.4 296.1,417.9 296.1,416.4 294.6,413.4 293.6,412.4 292.9,412.4 292.6,412.1 292.1,412.1 291.1,411.6 290.4,411.6 289.4,411.1 288.6,411.1 288.4,410.9 286.1,411.1 285.9,411.4 284.9,411.4 284.6,411.6 283.6,411.6 283.4,411.9 282.1,411.9 281.9,412.1 280.9,412.1 280.6,412.4 279.4,412.4 277.6,413.9 277.1,414.9 275.4,416.6 273.4,417.6 271.6,418.9 269.9,419.6 268.1,419.6 267.9,419.9 263.9,419.9 263.6,420.1 262.6,420.1 261.1,419.4 259.6,417.9 259.1,411.9 260.1,409.1 260.4,407.6 261.9,405.6 262.4,405.4 265.9,405.4 266.1,405.1 274.1,404.9 274.4,404.6 283.4,404.6 285.9,403.4 286.6,401.6 286.9,399.6 287.1,399.4 286.9,397.9 286.6,397.6 285.6,394.1 282.4,391.4 281.9,391.1 259.6,391.1 259.4,390.9 258.4,390.9 258.1,390.6 257.1,390.6 256.9,390.4 251.9,390.1 251.6,389.9 247.1,389.9 245.1,390.9 244.6,390.9ZM247.1,372.6 245.4,373.6 244.6,374.4 244.6,377.4 246.9,379.4 248.4,381.9 249.6,383.1 250.4,383.1 251.1,381.9 252.9,380.1 255.4,378.4 255.9,377.1 255.9,375.1 255.1,374.4 252.9,373.1Z" fill="#2b45a2" fill-rule="evenodd"/><path d="M243.6,391.9 241.9,395.9 241.9,424.6 242.1,424.9 243.1,428.4 244.9,429.6 247.6,430.9 255.4,430.9 255.6,430.6 259.6,430.6 259.9,430.4 268.9,430.4 269.1,430.1 273.6,430.1 273.9,429.9 277.1,428.9 278.1,427.9 279.4,424.9 281.1,422.6 281.6,422.6 281.9,422.4 283.4,422.4 283.6,422.1 287.1,421.9 287.4,421.6 290.6,421.4 291.9,420.9 293.9,420.6 294.9,420.1 295.9,417.6 295.9,416.6 294.4,413.6 293.1,412.6 292.6,412.6 291.6,412.1 290.9,412.1 289.9,411.6 289.1,411.6 288.9,411.4 286.6,411.4 286.4,411.6 285.4,411.6 285.1,411.9 284.1,411.9 283.9,412.1 282.6,412.1 282.4,412.4 281.4,412.4 281.1,412.6 279.9,412.6 279.6,412.9 279.1,412.9 277.9,414.1 277.4,415.1 275.6,416.9 271.9,418.9 271.4,419.4 270.9,419.4 270.1,419.9 262.6,420.4 260.6,419.4 259.4,418.1 259.4,417.1 259.1,416.9 259.1,414.1 258.9,413.9 258.9,411.6 259.9,408.9 260.1,407.4 261.9,405.4 262.4,405.1 265.6,405.1 265.9,404.9 270.9,404.9 271.1,404.6 274.1,404.6 274.4,404.4 283.4,404.4 285.4,403.4 285.9,402.9 286.1,401.6 286.4,401.4 286.4,400.6 286.6,400.4 286.6,399.6 286.9,399.4 286.6,398.1 286.4,397.9 286.4,397.1 285.4,394.4 282.1,391.6 281.6,391.6 281.4,391.4 259.1,391.4 257.9,390.9 254.9,390.6 254.6,390.4 252.1,390.4 251.9,390.1 246.9,390.1 245.6,390.9 244.6,391.1ZM247.6,372.9 246.4,373.4 245.1,374.4 244.9,374.9 244.9,376.9 245.1,377.4 247.1,379.1 248.6,381.6 249.6,382.6 250.4,382.6 250.9,381.6 252.6,379.9 255.1,378.1 255.4,376.9 255.6,376.6 255.6,375.4 254.9,374.6 252.6,373.4 251.4,373.4 251.1,373.1 248.4,373.1 248.1,372.9Z" fill="#3a55aa" fill-rule="evenodd"/><path d="M244.9,391.6 244.1,392.4 243.1,394.9 243.1,425.9 243.4,426.1 243.4,427.1 243.9,428.4 247.1,430.4 250.6,430.4 250.9,430.6 252.9,430.6 253.1,430.4 254.1,430.4 254.4,430.1 254.9,430.1 255.6,429.4 273.9,429.4 274.1,429.1 275.1,429.1 277.1,428.4 277.9,427.6 279.6,423.6 279.4,422.6 277.9,421.4 277.4,421.4 277.1,421.1 270.1,421.1 269.9,420.9 268.4,420.9 268.1,421.1 266.9,421.1 266.6,420.9 262.1,421.1 261.9,420.9 256.1,420.9 255.9,420.6 255.9,403.9 256.1,403.6 264.4,403.6 264.6,403.9 281.9,403.9 282.1,403.6 282.9,403.6 283.9,403.1 284.6,402.4 285.4,400.9 285.6,399.1 285.4,398.9 285.1,397.4 284.6,396.6 283.1,395.4 281.9,395.1 281.6,394.9 256.4,394.6 255.9,394.1 255.4,392.1 254.4,391.1 253.9,391.1 253.6,390.9 252.4,390.9 251.1,390.4 247.6,390.4Z" fill="#3c5db0" fill-rule="evenodd"/><path d="M245.6,391.6 244.9,392.4 244.4,393.4 244.4,394.1 244.1,394.4 244.1,397.9 243.9,398.1 243.9,401.1 244.1,401.4 244.1,427.4 244.4,427.6 244.4,428.1 246.1,429.6 247.9,430.4 252.9,430.4 253.1,430.1 253.6,430.1 254.6,428.6 261.9,428.6 262.1,428.9 273.6,428.9 273.9,428.6 275.9,428.6 277.1,428.1 277.6,427.6 278.6,425.6 279.1,423.6 278.4,422.6 276.9,421.9 270.1,421.9 269.9,421.6 255.1,421.6 254.9,421.4 254.9,404.1 255.4,402.9 282.1,403.1 283.1,402.6 284.1,401.6 284.6,400.6 284.6,398.4 284.1,397.4 283.1,396.4 282.1,395.9 280.1,395.9 279.9,395.6 255.6,395.4 254.9,394.9 254.9,394.1 254.6,393.9 254.4,392.6 253.9,391.9 252.9,391.1 251.4,390.9 251.1,390.6 247.6,390.6Z" fill="#3e6dbe" fill-rule="evenodd"/><path d="M246.6,391.4 245.1,393.1 244.9,394.6 244.6,394.9 244.6,396.9 244.4,397.1 244.4,402.1 244.6,402.4 244.6,404.4 244.9,404.6 244.9,427.9 245.1,428.4 246.1,429.4 247.4,430.1 252.6,430.1 253.6,429.4 254.1,428.1 259.1,428.1 259.4,428.4 262.1,428.4 262.4,428.6 271.9,428.6 272.1,428.4 275.9,428.4 277.1,427.9 277.6,427.4 278.6,425.1 278.6,423.6 277.1,422.4 276.1,422.4 275.9,422.1 255.4,422.1 254.1,421.6 254.1,405.9 254.4,405.6 254.6,403.1 255.6,402.4 279.4,402.6 279.6,402.9 281.4,402.9 283.1,402.1 284.1,400.6 284.4,399.1 283.6,397.4 283.1,396.9 281.4,396.1 256.1,395.9 255.9,395.6 254.9,395.6 254.6,395.4 253.9,392.9 252.9,391.6 251.9,391.1 251.4,391.1 251.1,390.9 247.6,390.9Z" fill="#3d8ad2" fill-rule="evenodd"/><path d="M247.1,391.6 245.9,392.9 245.4,393.9 245.4,394.4 245.1,394.6 245.1,395.9 244.9,396.1 244.9,397.9 244.6,398.1 244.6,401.1 244.9,401.4 244.9,403.1 245.1,403.4 245.1,404.6 245.4,404.9 245.4,427.4 245.6,427.6 245.6,428.4 247.4,429.9 248.1,429.9 248.4,430.1 251.4,430.1 251.6,429.9 252.4,429.9 252.9,429.4 253.6,427.6 256.9,427.6 257.1,427.9 259.6,427.9 259.9,428.1 261.6,428.1 261.9,428.4 265.1,428.4 265.4,428.6 274.9,428.1 275.1,427.9 276.6,427.9 277.1,427.6 278.1,426.1 278.1,425.6 278.4,425.4 278.4,424.1 277.6,423.1 276.6,422.6 269.4,422.6 269.1,422.4 253.9,422.4 253.6,422.1 253.6,405.9 253.9,405.6 254.4,402.9 254.9,402.4 256.1,401.9 281.6,402.4 282.6,401.9 283.4,401.1 283.9,400.1 283.9,398.9 283.4,397.9 282.6,397.1 281.6,396.6 257.9,396.4 257.6,396.1 255.4,396.1 255.1,395.9 254.6,395.9 254.1,395.4 254.1,394.6 253.6,393.9 253.6,393.4 253.1,392.6 251.6,391.4 251.1,391.4 250.9,391.1 248.1,391.1Z" fill="#3aa9e2" fill-rule="evenodd"/><path d="M247.4,391.9 246.1,393.1 245.6,394.1 245.6,394.9 245.1,396.1 245.1,397.6 244.9,397.9 244.9,401.4 245.1,401.6 245.1,402.9 245.4,403.1 245.4,404.1 245.6,404.4 245.6,405.4 245.9,405.6 245.9,427.4 246.1,427.6 246.1,428.4 246.6,429.1 247.9,429.9 251.4,429.9 252.6,428.9 252.9,427.6 253.1,427.4 257.4,427.4 257.6,427.6 259.1,427.6 259.4,427.9 260.9,427.9 261.1,428.1 263.1,428.1 263.4,428.4 270.4,428.4 270.6,428.1 274.9,427.9 275.1,427.6 276.6,427.6 277.1,427.4 278.1,425.6 278.1,424.1 277.4,423.4 276.1,422.9 270.1,422.9 269.9,422.6 261.1,422.6 260.9,422.9 256.4,422.9 256.1,422.6 253.4,422.6 253.1,422.4 253.1,406.4 253.6,405.4 254.1,402.9 255.1,401.9 255.6,401.9 255.9,401.6 281.9,401.9 282.4,401.6 283.4,400.4 283.4,398.6 283.1,398.1 281.9,397.1 280.4,397.1 280.1,396.9 256.1,396.6 255.9,396.4 254.6,396.1 253.9,395.4 253.4,393.6 252.9,392.9 251.4,391.6 250.9,391.6 250.6,391.4 248.6,391.4Z" fill="#3cbde9" fill-rule="evenodd"/><path d="M247.6,392.4 246.4,393.6 245.9,394.6 245.6,396.1 245.4,396.4 245.4,397.6 245.1,397.9 245.1,401.4 245.4,401.6 245.4,402.6 245.6,402.9 245.9,404.6 246.6,406.6 246.6,421.9 246.4,422.1 246.4,425.9 246.6,426.1 246.6,427.6 247.1,428.6 247.9,429.4 248.4,429.4 248.6,429.6 250.4,429.6 250.6,429.4 251.1,429.4 251.9,428.6 252.6,426.9 256.4,426.9 256.6,427.1 257.9,427.1 258.1,427.4 260.6,427.6 260.9,427.9 262.1,427.9 262.4,428.1 265.6,428.1 265.9,428.4 267.6,428.4 267.9,428.1 271.1,428.1 271.4,427.9 272.9,427.9 273.1,427.6 274.4,427.6 274.6,427.4 276.1,427.4 276.4,427.1 276.9,427.1 277.9,425.6 277.9,424.9 276.9,423.6 276.4,423.6 276.1,423.4 273.1,423.4 272.9,423.1 270.1,423.1 269.9,422.9 253.1,423.1 252.6,422.6 252.6,422.1 252.4,421.9 252.4,407.4 252.6,407.1 252.6,406.4 253.1,405.6 254.1,402.4 254.9,401.6 255.9,401.1 281.9,401.4 282.9,400.4 282.9,398.6 281.9,397.6 278.9,397.6 278.6,397.4 264.9,397.4 264.6,397.1 256.1,397.1 254.9,396.6 253.9,395.9 253.1,393.9 251.6,392.4 250.6,391.9 248.6,391.9Z" fill="#58c29c" fill-rule="evenodd"/><path d="M247.1,393.1 246.1,394.6 245.6,397.1 245.4,397.4 245.4,401.6 245.6,401.9 245.9,403.9 246.4,404.6 246.4,405.1 247.4,407.6 247.4,420.6 246.6,422.6 246.6,425.4 247.6,428.1 248.4,428.9 248.9,428.9 249.1,429.1 250.6,428.9 251.4,428.1 251.9,426.9 252.6,426.4 255.6,426.4 255.9,426.6 256.9,426.6 257.1,426.9 257.9,426.9 258.1,427.1 258.9,427.1 260.1,427.6 263.1,427.9 263.4,428.1 269.9,428.1 270.1,427.9 271.9,427.9 272.1,427.6 273.4,427.6 273.6,427.4 274.6,427.4 274.9,427.1 276.6,426.9 277.4,426.1 277.4,424.6 276.4,423.9 275.1,423.9 274.9,423.6 273.1,423.6 272.9,423.4 271.1,423.4 270.9,423.1 261.9,423.1 261.6,423.4 259.4,423.4 259.1,423.6 253.4,423.6 252.9,423.4 252.1,422.4 251.9,420.9 251.6,420.6 251.6,407.9 253.1,404.9 253.9,402.4 254.9,401.4 256.1,400.6 281.6,400.9 282.4,400.1 282.4,398.9 281.6,398.1 277.9,398.1 277.6,397.9 263.9,397.9 263.6,397.6 256.4,397.6 254.1,396.4 253.6,395.9 253.4,394.9 252.6,393.6 251.1,392.4 250.6,392.4 250.4,392.1 249.1,392.1Z" fill="#6ebf47" fill-rule="evenodd"/><path d="M258.1,425.6 258.6,426.4 259.6,426.9 261.1,427.1 261.4,427.4 262.4,427.4 262.6,427.6 264.6,427.6 264.9,427.9 268.6,427.9 268.9,427.6 270.9,427.6 271.1,427.4 272.1,427.4 274.6,426.4 275.1,425.6 274.6,424.9 273.6,424.4 273.1,424.4 272.1,423.9 268.6,423.6 268.4,423.4 264.6,423.4 264.4,423.6 262.4,423.6 262.1,423.9 261.1,423.9 260.9,424.1 260.1,424.1 258.9,424.6ZM249.4,421.6 249.1,421.9 248.6,421.9 247.9,422.6 247.6,423.1 247.6,424.9 248.6,426.1 249.6,426.4 249.9,426.1 250.4,426.1 251.4,425.4 251.6,424.9 251.6,423.9 251.1,422.6 250.4,421.9ZM248.9,393.4 247.9,393.9 247.1,394.6 246.4,396.1 246.4,396.9 245.9,398.1 245.9,400.9 246.1,401.1 246.1,402.1 246.4,402.4 246.6,403.6 247.4,404.9 248.9,406.1 250.6,406.1 251.1,405.9 252.6,404.1 253.1,403.1 253.4,401.9 254.6,400.4 254.9,398.9 254.4,397.6 253.1,396.4 252.4,394.6 251.6,393.9 250.6,393.4Z" fill="#80c443" fill-rule="evenodd"/><path d="M259.4,425.6 259.9,426.4 260.9,426.9 262.6,427.1 262.9,427.4 264.6,427.4 264.9,427.6 268.4,427.6 268.6,427.4 270.4,427.4 270.6,427.1 272.4,426.9 273.9,425.9 273.6,425.1 272.9,424.6 272.4,424.6 271.4,424.1 270.4,424.1 270.1,423.9 267.9,423.9 267.6,423.6 262.9,423.9 262.6,424.1 260.9,424.4 259.9,424.9ZM249.4,422.6 248.4,423.4 248.4,424.6 248.9,425.1 249.6,425.4 250.6,424.6 250.6,423.4 250.1,422.9ZM248.9,394.1 247.4,395.4 246.6,396.9 246.6,397.6 246.4,397.9 246.4,401.4 247.4,403.9 248.4,404.9 248.9,405.1 250.6,405.1 252.1,403.9 253.1,401.4 253.9,400.6 253.9,400.1 254.1,399.9 254.1,398.6 253.4,397.1 252.6,396.6 252.4,395.6 251.1,394.4 250.6,394.1Z" fill="#bcd42e" fill-rule="evenodd"/><path d="M260.4,425.4 260.4,426.1 261.1,426.6 262.6,426.9 262.9,427.1 264.4,427.1 264.6,427.4 268.6,427.4 268.9,427.1 270.4,427.1 270.6,426.9 272.1,426.6 272.9,426.1 272.9,425.4 271.9,424.6 270.4,424.4 270.1,424.1 268.4,424.1 268.1,423.9 263.1,424.1 262.9,424.4 261.4,424.6ZM249.1,394.6 248.1,395.1 247.1,396.6 246.9,398.1 246.6,398.4 246.6,400.9 246.9,401.1 247.1,402.6 247.6,403.4 249.1,404.6 250.4,404.6 251.4,404.1 252.1,403.1 252.6,401.4 253.6,400.1 253.6,398.4 252.4,396.9 251.9,395.6 251.1,394.9 250.6,394.6Z" fill="#fae515" fill-rule="evenodd"/><path d="M261.6,425.6 261.9,426.1 263.1,426.6 263.9,426.6 264.1,426.9 269.1,426.9 269.4,426.6 270.4,426.6 271.6,425.9 271.1,425.1 270.1,424.6 269.1,424.6 268.9,424.4 264.4,424.4 264.1,424.6 262.4,424.9ZM249.1,395.6 248.1,396.4 247.4,397.9 247.4,401.4 248.1,402.9 249.1,403.6 250.4,403.6 251.6,402.6 252.1,400.9 252.9,400.1 252.9,398.6 251.9,397.4 251.6,396.6 250.6,395.6Z" fill="#f6a11c" fill-rule="evenodd"/><path d="M263.6,425.4 263.6,425.9 264.1,425.9 264.4,426.1 269.1,426.1 269.6,425.9 269.1,425.1 268.4,425.1 268.1,424.9 265.1,424.9 264.9,425.1ZM249.4,396.6 248.6,397.1 248.1,398.1 248.1,399.4 247.9,399.6 248.1,399.9 248.1,401.1 248.4,401.6 249.1,402.4 250.1,402.6 250.9,402.1 251.4,401.1 251.4,399.6 251.9,399.4 251.9,398.9 251.4,398.6 251.4,398.1 250.6,396.9Z" fill="#e5262a" fill-rule="evenodd"/></g>
<path d="M265.5,414.2h1.2v1.2h-1.2zM261.1,417.8h1.2v1.2h-1.2zM272.5,418.0h1.2v1.2h-1.2zM264.7,410.0h1.2v1.2h-1.2zM261.8,409.9h1.2v1.2h-1.2zM261.3,414.9h1.2v1.2h-1.2zM270.6,378.5h1.2v1.2h-1.2zM273.3,374.8h1.2v1.2h-1.2z" fill="#2d4aab"/>
<g filter="url(#bl)"><path d="M374.9,389.1 374.4,389.1 374.1,388.9 372.1,388.9 371.9,388.6 368.1,388.6 367.9,388.4 366.1,388.4 365.9,388.6 365.1,388.6 364.9,388.9 363.4,389.1 360.9,390.1 358.9,392.4 358.4,393.4 358.1,395.6 357.9,395.9 357.9,397.1 357.6,397.4 357.6,398.9 357.4,399.1 357.4,413.6 357.6,413.9 357.6,415.6 357.9,415.9 357.9,417.1 358.1,417.4 358.1,418.9 358.4,419.1 358.4,419.6 359.9,421.1 362.1,422.6 368.4,422.6 369.9,421.9 371.1,420.9 371.9,420.6 373.1,419.6 373.9,419.4 375.6,417.1 375.9,416.4 377.6,413.9 378.6,411.9 378.6,411.1 378.9,410.9 378.9,410.1 379.1,409.9 379.1,409.1 379.4,408.9 379.4,408.1 379.9,406.9 379.9,405.9 380.1,405.6 380.1,396.1 379.9,395.9 379.1,392.1 378.6,391.1Z" fill="#2b45a2" fill-rule="evenodd"/><path d="M374.9,389.4 374.4,389.4 374.1,389.1 372.4,389.1 372.1,388.9 365.9,388.6 365.6,388.9 364.1,389.1 360.9,390.4 358.6,393.4 358.6,393.9 358.4,394.1 358.4,395.4 358.1,395.6 358.1,396.9 357.9,397.1 357.9,398.4 357.6,398.6 357.6,400.1 357.4,400.4 357.4,412.6 357.6,412.9 357.6,414.6 357.9,414.9 357.9,416.4 358.1,416.6 358.4,419.1 359.9,420.9 361.9,422.4 362.4,422.4 362.6,422.6 367.9,422.6 369.1,422.1 370.4,421.1 371.1,420.9 372.4,419.9 373.9,419.1 374.6,418.4 374.9,417.6 375.9,416.4 376.1,415.6 376.6,415.1 376.9,414.4 378.4,412.1 378.4,411.4 378.6,411.1 378.6,410.4 378.9,410.1 378.9,409.4 379.1,409.1 379.1,408.4 379.4,408.1 379.4,407.4 379.9,406.1 379.9,404.9 380.1,404.6 380.1,402.6 379.9,402.4 379.9,395.9 379.6,395.6 379.4,393.9 378.9,392.9 378.9,392.1 378.4,391.1Z" fill="#3a55aa" fill-rule="evenodd"/><path d="M374.4,389.9 371.9,389.6 371.6,389.4 368.1,389.4 367.9,389.1 365.4,389.4 365.1,389.6 363.1,390.1 361.4,391.1 361.1,391.9 362.6,391.9 363.6,393.1 362.6,394.4 361.9,394.9 360.9,394.9 360.1,393.9 360.1,392.9 359.1,394.1 358.6,396.6 358.4,396.9 358.1,399.1 357.9,399.4 357.6,412.4 357.9,412.6 357.9,414.1 358.1,414.4 358.1,415.6 358.4,415.9 358.4,417.1 358.6,417.4 358.6,418.6 358.9,418.9 358.9,419.4 361.4,421.6 362.4,422.1 368.4,422.1 370.6,420.6 371.4,420.4 372.6,419.4 373.4,419.1 374.4,418.1 377.9,412.4 377.9,411.9 378.4,410.9 378.4,410.1 378.6,409.9 378.6,409.1 378.9,408.9 378.9,407.9 379.1,407.6 379.4,405.9 379.6,405.6 379.6,398.9 379.4,398.6 379.4,396.1 379.1,395.9 379.1,395.1 377.9,391.9 377.4,391.4Z" fill="#3c5db0" fill-rule="evenodd"/><path d="M371.4,390.4 370.4,390.4 370.1,390.1 366.6,390.1 365.6,390.9 365.6,394.1 365.1,395.1 364.1,396.1 362.6,396.9 360.4,396.9 359.4,396.4 358.9,396.9 358.4,398.1 358.4,399.4 358.1,399.6 358.1,403.1 357.9,403.4 357.9,412.9 358.1,413.1 358.1,414.9 358.4,415.1 358.4,416.4 358.6,416.6 358.6,417.6 358.9,417.9 358.9,418.9 359.1,419.4 362.1,421.9 363.1,421.9 363.4,422.1 367.9,422.1 373.4,418.9 374.9,417.1 375.1,416.4 377.1,413.4 378.1,411.1 378.1,410.4 378.6,409.1 378.6,408.1 379.1,406.9 379.1,405.9 379.4,405.6 379.4,400.1 379.1,399.9 379.1,397.6 378.9,397.4 378.9,396.6 377.9,394.9 375.6,392.6 374.1,391.6Z" fill="#3e6dbe" fill-rule="evenodd"/><path d="M371.1,392.1 370.4,392.1 370.1,391.9 367.9,391.9 367.4,392.1 366.9,392.9 366.4,394.9 364.4,397.1 362.4,397.9 360.1,397.9 359.9,397.6 359.4,397.6 358.6,398.6 358.4,401.1 358.1,401.4 358.1,408.4 357.9,408.6 357.9,412.4 358.1,412.6 358.4,415.6 358.6,415.9 358.9,418.1 359.4,419.4 361.4,421.1 362.6,421.9 368.1,421.9 369.6,420.9 370.9,420.4 372.1,419.4 372.9,419.1 373.9,418.4 375.4,416.1 375.6,415.4 376.1,414.9 376.6,413.6 377.1,413.1 377.9,411.6 377.9,410.9 378.4,409.6 378.4,408.6 378.9,407.4 378.9,406.4 379.1,406.1 379.1,400.9 378.9,400.6 378.9,399.4 377.1,396.4 374.9,394.1 373.4,393.1Z" fill="#3d8ad2" fill-rule="evenodd"/><path d="M371.1,393.9 370.4,393.9 370.1,393.6 368.4,393.6 367.4,394.6 366.9,395.6 364.9,397.6 363.4,398.4 359.9,398.9 359.1,399.4 358.6,400.4 358.6,401.6 358.4,401.9 358.4,405.6 358.1,405.9 358.1,413.1 358.4,413.4 358.6,416.4 358.9,416.6 358.9,417.4 359.1,417.6 359.4,418.9 361.1,420.6 362.1,421.4 362.6,421.4 362.9,421.6 366.1,421.6 366.4,421.9 368.4,421.6 370.6,420.1 371.4,419.9 372.6,418.9 373.4,418.6 374.9,416.6 375.1,415.9 377.1,412.9 377.9,410.9 378.1,408.9 378.4,408.6 378.4,407.6 378.6,407.4 378.6,406.4 378.9,406.1 378.9,403.1 378.6,402.9 378.4,401.4 376.6,398.1 373.9,395.4Z" fill="#3aa9e2" fill-rule="evenodd"/><path d="M370.6,395.1 368.9,394.9 367.9,395.4 367.1,396.4 365.1,398.1 363.6,398.9 361.1,399.4 360.1,399.9 358.9,402.1 358.9,402.9 358.6,403.1 358.6,404.9 358.4,405.1 358.4,408.1 358.1,408.4 358.1,412.6 358.4,412.9 358.6,415.9 359.1,416.9 359.4,418.4 359.9,419.1 361.6,420.6 363.1,421.4 367.9,421.6 369.4,420.9 369.9,420.4 371.1,419.9 372.4,418.9 373.1,418.6 374.9,416.4 375.1,415.6 376.4,413.9 377.6,411.1 377.9,409.1 378.1,408.9 378.1,407.6 378.4,407.4 378.4,404.6 378.1,404.4 378.1,403.6 377.4,402.1 377.4,401.6 376.1,399.4 373.9,396.9 372.9,396.1Z" fill="#3cbde9" fill-rule="evenodd"/><path d="M369.9,396.9 368.4,396.9 366.6,397.9 365.9,398.6 361.9,400.4 360.6,401.9 358.9,405.4 358.6,407.4 358.4,407.6 358.4,413.6 358.6,413.9 358.6,415.1 358.9,415.4 359.1,416.9 360.1,418.6 360.9,419.4 362.6,420.4 363.4,420.4 363.6,420.6 366.6,420.6 366.9,420.9 368.1,420.9 371.4,419.4 372.9,418.4 373.9,417.4 376.9,412.1 377.1,409.6 377.4,409.4 377.4,407.9 377.1,407.6 377.1,405.9 376.9,405.6 376.9,404.9 376.6,404.6 376.6,403.9 376.1,403.1 376.1,402.6 374.6,400.1 372.6,398.1 371.9,397.9 371.4,397.4 370.9,397.4Z" fill="#58c29c" fill-rule="evenodd"/><path d="M370.6,398.9 370.1,398.9 369.9,398.6 367.6,398.6 362.9,401.1 360.4,403.9 358.9,406.6 358.6,408.9 358.4,409.1 358.4,412.9 358.6,413.1 358.9,415.6 360.1,418.1 361.1,419.1 362.6,419.9 365.1,419.9 365.4,419.6 366.1,419.6 367.4,419.1 369.4,419.1 369.6,418.9 370.9,418.6 372.1,417.9 373.6,416.4 375.1,413.9 375.1,413.4 375.6,412.4 375.6,411.6 375.9,411.4 375.9,406.4 375.6,406.1 375.4,404.4 374.1,401.9 373.4,400.9 371.6,399.4Z" fill="#6ebf47" fill-rule="evenodd"/><path d="M363.1,404.4 362.9,404.6 362.1,404.6 360.4,406.1 359.1,408.9 359.1,409.9 358.9,410.1 358.9,412.9 359.1,413.1 359.1,414.1 360.1,416.6 361.6,418.1 362.9,418.6 363.9,418.6 365.1,418.1 366.4,416.9 367.1,415.6 367.1,415.1 367.6,414.1 367.6,413.1 367.9,412.9 367.9,410.4 367.6,410.1 367.4,408.1 366.4,406.1 365.1,404.9Z" fill="#80c443" fill-rule="evenodd"/><path d="M363.1,405.4 362.9,405.6 362.1,405.6 361.4,406.1 359.9,408.4 359.6,409.9 359.4,410.1 359.4,413.1 359.6,413.4 359.9,414.9 360.9,416.6 361.4,417.1 363.4,417.9 363.6,417.6 364.4,417.6 365.1,417.1 366.1,415.9 366.6,414.9 366.9,413.1 367.1,412.9 367.1,410.6 366.9,410.4 366.6,408.6 365.4,406.4 364.1,405.6Z" fill="#bcd42e" fill-rule="evenodd"/><path d="M362.6,406.1 361.6,406.6 360.9,407.4 359.9,409.6 359.9,411.4 359.6,411.6 359.9,411.9 359.9,413.6 360.9,415.9 361.6,416.6 362.6,417.1 363.9,417.1 364.9,416.6 366.1,414.9 366.4,413.4 366.6,413.1 366.6,410.4 365.6,407.6 364.4,406.4 363.9,406.1Z" fill="#fae515" fill-rule="evenodd"/><path d="M362.9,407.1 362.6,407.4 362.1,407.4 360.9,408.9 360.6,410.4 360.4,410.6 360.4,412.6 361.4,415.1 362.6,416.1 363.9,416.1 365.1,415.1 365.6,414.1 365.6,413.6 365.9,413.4 365.9,410.1 365.1,408.4 364.1,407.4Z" fill="#f6a11c" fill-rule="evenodd"/><path d="M362.6,408.4 361.4,409.9 361.4,411.1 361.1,411.6 361.4,411.9 361.4,412.9 361.9,414.1 362.9,414.9 363.9,414.9 365.1,413.4 365.4,411.4 365.1,411.1 365.1,410.1 364.6,409.1 363.9,408.4Z" fill="#e5262a" fill-rule="evenodd"/></g>
<path d="M394.6,404.0h1.2v1.2h-1.2zM395.7,402.5h1.2v1.2h-1.2zM401.5,397.5h1.2v1.2h-1.2zM393.5,410.8h1.2v1.2h-1.2zM396.7,413.9h1.2v1.2h-1.2zM390.1,401.9h1.2v1.2h-1.2zM390.4,396.9h1.2v1.2h-1.2zM385.6,405.3h1.2v1.2h-1.2zM390.3,406.8h1.2v1.2h-1.2zM404.2,415.9h1.2v1.2h-1.2zM400.4,401.3h1.2v1.2h-1.2zM392.1,413.8h1.2v1.2h-1.2zM388.9,412.1h1.2v1.2h-1.2zM389.2,403.9h1.2v1.2h-1.2zM395.7,415.1h1.2v1.2h-1.2zM399.4,412.5h1.2v1.2h-1.2zM352.4,403.0h1.2v1.2h-1.2zM356.1,407.7h1.2v1.2h-1.2zM355.0,398.0h1.2v1.2h-1.2zM350.4,404.5h1.2v1.2h-1.2zM352.1,401.3h1.2v1.2h-1.2z" fill="#2d4aab"/>
<circle cx="396.9" cy="402.5" r="1.8" fill="#2a4cb0"/><circle cx="398" cy="408.7" r="1.8" fill="#2a4cb0"/>
<g filter="url(#bl)"><path d="M457.9,405.6 458.6,407.1 459.4,407.6 464.9,407.6 466.1,406.1 465.9,405.1 464.9,404.1 459.4,404.1 458.9,404.4ZM459.6,399.1 458.9,399.9 458.9,400.9 459.9,401.6 461.1,401.4 461.4,400.9 461.4,399.9 461.1,399.4 460.6,399.1ZM462.1,396.9 462.1,398.1 463.6,399.4 465.4,399.4 466.4,398.9 466.9,398.1 466.9,396.9 466.6,396.4 465.4,395.6 463.6,395.6ZM449.4,392.6 448.1,394.4 448.1,395.9 448.4,396.1 448.4,399.4 448.6,399.6 448.6,400.6 450.1,404.4 450.1,410.9 448.1,414.4 448.1,414.9 446.9,418.1 447.1,422.9 448.4,424.6 449.9,426.1 450.4,426.1 450.6,426.4 455.1,426.4 455.4,426.6 466.6,426.6 466.9,426.4 472.1,426.4 475.1,424.4 476.4,423.1 476.4,422.4 476.6,422.1 476.6,420.1 476.9,419.9 476.9,417.6 475.4,413.6 472.1,410.6 468.1,410.6 467.9,410.4 461.1,410.4 460.9,410.6 459.6,410.6 459.4,410.9 457.9,410.9 455.9,409.6 455.1,408.6 455.1,407.9 455.4,407.6 455.4,405.4 455.6,405.1 455.6,404.1 455.9,403.9 455.9,403.1 456.9,400.4 456.9,395.4 455.4,393.6 453.9,392.6 452.4,392.6 452.1,392.4 449.9,392.4Z" fill="#2b45a2" fill-rule="evenodd"/><path d="M458.4,405.4 458.4,406.1 458.9,406.9 459.6,407.4 464.6,407.4 465.1,407.1 465.6,406.4 465.6,405.4 464.4,404.4 459.9,404.4 459.6,404.6 459.1,404.6ZM459.9,399.4 459.1,400.4 459.6,401.1 460.9,401.1 461.1,400.6 460.9,399.6ZM462.4,397.1 462.6,398.4 464.1,399.1 465.9,398.9 466.6,397.9 466.4,396.6 465.9,396.1 465.4,396.1 465.1,395.9 463.4,396.1ZM449.9,392.6 448.4,394.4 448.4,395.9 448.6,396.1 448.6,399.6 448.9,399.9 448.9,400.6 449.1,400.9 449.4,402.1 450.4,404.1 450.4,411.1 448.4,414.4 448.4,414.9 447.9,415.6 447.9,416.1 447.1,417.9 447.1,420.9 447.4,421.1 447.4,422.9 447.6,423.4 449.6,425.6 450.6,426.1 459.9,426.4 460.1,426.6 465.4,426.6 465.6,426.4 472.1,426.1 474.9,424.4 476.4,422.6 476.6,418.9 476.9,418.6 476.4,416.6 475.9,415.9 475.9,415.4 475.1,413.6 472.1,410.9 468.4,410.9 468.1,410.6 460.9,410.6 460.6,410.9 459.6,410.9 459.4,411.1 457.9,411.1 455.4,409.6 454.9,408.9 454.9,407.4 455.1,407.1 455.1,405.1 455.4,404.9 455.4,403.9 455.6,403.6 455.9,402.1 456.6,400.1 456.6,395.6 456.4,395.1 453.9,392.9Z" fill="#3a55aa" fill-rule="evenodd"/><path d="M447.6,418.1 447.6,420.9 447.9,421.1 447.9,422.6 448.1,423.1 450.4,425.4 450.9,425.4 451.1,425.6 454.1,425.6 454.4,425.9 455.6,425.9 455.9,426.1 466.4,426.1 466.6,425.9 471.6,425.9 473.9,424.6 475.9,422.9 475.9,422.1 476.1,421.9 476.1,419.9 476.4,419.6 476.4,417.9 476.1,417.6 475.9,416.4 475.1,415.1 475.1,414.6 474.1,413.4 471.6,411.9 467.4,411.6 467.1,411.4 461.1,411.4 460.9,411.6 459.4,411.6 459.1,411.9 455.9,411.9 455.6,412.1 454.9,412.1 454.6,412.4 453.9,412.4 453.6,412.6 451.6,413.1 449.4,414.4 448.1,416.6 448.1,417.1ZM451.4,394.6 450.9,394.9 449.6,396.4 449.6,396.9 449.4,397.1 449.4,400.1 450.6,402.9 451.4,403.4 452.6,403.4 454.1,402.1 454.6,401.1 454.6,400.6 454.9,400.4 454.9,397.6 454.1,395.9 453.1,394.9 452.6,394.6Z" fill="#3c5db0" fill-rule="evenodd"/><path d="M448.1,418.4 448.1,421.1 448.4,421.4 448.4,422.1 450.4,424.4 451.9,425.1 452.6,425.1 452.9,425.4 454.6,425.4 454.9,425.6 455.9,425.6 456.1,425.9 466.9,425.9 467.1,425.6 471.6,425.6 473.9,424.4 475.6,422.9 475.9,421.1 476.1,420.9 476.1,417.6 475.6,416.9 475.6,416.4 474.4,414.4 472.9,413.6 472.1,413.6 471.9,413.4 471.1,413.4 469.9,412.9 465.9,412.6 465.6,412.4 459.4,412.6 459.1,412.9 456.6,413.1 456.4,413.4 455.6,413.4 455.4,413.6 453.4,414.1 452.6,414.6 451.6,414.9 449.4,416.4ZM451.4,396.1 450.4,397.1 450.4,397.6 450.1,397.9 450.1,400.1 450.6,401.1 451.4,401.9 452.6,401.9 453.6,400.9 453.6,400.4 453.9,400.1 453.9,397.9 453.6,397.6 453.6,397.1 452.6,396.1Z" fill="#3e6dbe" fill-rule="evenodd"/><path d="M449.1,419.1 449.1,420.9 449.9,422.4 451.9,424.1 453.4,424.9 455.9,425.4 456.1,425.6 459.4,425.6 459.6,425.9 465.9,425.9 466.1,425.6 471.6,425.4 473.9,424.1 474.9,423.4 475.6,422.4 475.6,421.6 475.9,421.4 475.9,419.1 476.1,418.9 476.1,418.4 474.9,415.6 473.1,414.6 472.6,414.6 471.6,414.1 470.9,414.1 470.6,413.9 469.9,413.9 469.6,413.6 468.4,413.6 468.1,413.4 466.1,413.4 465.9,413.1 461.6,413.1 461.4,413.4 459.4,413.4 459.1,413.6 456.9,413.9 456.6,414.1 455.9,414.1 454.4,414.9 453.9,414.9 450.9,416.6 449.9,417.6ZM451.9,396.9 451.1,397.4 450.6,398.6 450.6,399.4 451.1,400.6 452.1,401.1 452.9,400.6 453.4,399.4 453.4,398.6 452.9,397.4Z" fill="#3d8ad2" fill-rule="evenodd"/><path d="M450.6,419.1 450.6,420.9 451.1,421.9 452.6,423.4 454.9,424.6 455.4,424.6 456.4,425.1 457.1,425.1 457.4,425.4 459.4,425.4 459.6,425.6 466.1,425.6 466.4,425.4 469.4,425.4 469.6,425.1 471.1,425.1 472.9,424.4 474.4,423.4 475.4,422.4 475.9,418.4 475.1,416.9 474.6,416.4 470.6,414.6 468.6,414.4 468.4,414.1 466.6,414.1 466.4,413.9 461.1,413.9 460.9,414.1 458.1,414.4 457.9,414.6 457.1,414.6 456.9,414.9 454.9,415.4 452.6,416.6 451.1,418.1ZM451.9,398.1 451.6,398.4 451.6,399.6 452.1,399.9 452.4,399.6 452.4,398.4Z" fill="#3aa9e2" fill-rule="evenodd"/><path d="M451.6,419.9 452.1,421.6 454.4,423.6 457.6,424.9 460.1,425.1 460.4,425.4 466.6,425.4 466.9,425.1 469.1,425.1 469.4,424.9 470.4,424.9 470.6,424.6 471.9,424.4 474.4,422.9 475.4,421.4 475.4,418.4 474.9,417.6 473.6,416.6 470.1,415.1 468.1,414.9 467.9,414.6 466.1,414.6 465.9,414.4 461.6,414.4 461.4,414.6 458.6,414.9 458.4,415.1 457.6,415.1 457.4,415.4 455.4,415.9 453.6,416.9 452.1,418.4 451.9,419.6Z" fill="#3cbde9" fill-rule="evenodd"/><path d="M453.4,419.4 453.4,420.6 453.9,421.6 456.1,423.4 456.6,423.4 457.4,423.9 457.9,423.9 458.9,424.4 459.9,424.4 460.1,424.6 461.1,424.6 461.4,424.9 463.9,424.9 464.1,425.1 468.1,424.9 468.4,424.6 470.9,424.1 473.4,422.6 474.6,420.6 474.6,419.6 474.1,418.6 472.6,417.1 469.1,415.6 466.4,415.4 466.1,415.1 462.1,415.1 461.9,415.4 460.1,415.4 459.9,415.6 458.1,415.9 456.6,416.6 456.1,416.6 454.6,417.6 453.9,418.4Z" fill="#58c29c" fill-rule="evenodd"/><path d="M454.9,419.4 454.9,420.6 456.4,422.4 458.9,423.6 459.4,423.6 460.4,424.1 461.1,424.1 461.4,424.4 462.4,424.4 462.6,424.6 467.9,424.6 468.1,424.4 469.9,424.1 472.4,422.9 473.4,421.9 473.9,420.9 473.9,419.6 473.4,418.6 472.4,417.6 470.6,416.6 470.1,416.6 469.1,416.1 468.4,416.1 468.1,415.9 466.6,415.9 466.4,415.6 463.1,415.6 462.9,415.9 461.4,415.9 461.1,416.1 459.1,416.4 456.4,417.6Z" fill="#6ebf47" fill-rule="evenodd"/><path d="M459.1,419.6 459.1,421.1 460.4,422.6 461.9,423.4 463.4,423.6 463.6,423.9 467.6,423.9 467.9,423.6 468.6,423.6 468.9,423.4 470.6,422.9 472.4,420.9 472.4,419.9 471.9,418.9 471.1,418.1 469.1,417.1 466.9,416.9 466.6,416.6 464.6,416.6 464.4,416.9 463.1,416.9 462.9,417.1 461.6,417.4 460.6,417.9Z" fill="#80c443" fill-rule="evenodd"/><path d="M460.1,419.6 460.1,421.1 460.9,422.1 462.1,422.9 462.6,422.9 463.6,423.4 465.1,423.4 465.4,423.6 468.9,423.1 470.4,422.4 471.4,421.4 471.4,420.9 471.6,420.6 471.4,419.4 470.1,418.1 468.1,417.4 467.1,417.4 466.9,417.1 464.6,417.1 464.4,417.4 462.6,417.6 461.1,418.4Z" fill="#bcd42e" fill-rule="evenodd"/><path d="M460.6,420.1 460.9,421.4 461.6,422.1 464.1,423.1 467.6,423.1 469.6,422.4 470.9,421.1 470.9,419.6 470.6,419.1 469.6,418.4 467.9,417.6 463.9,417.6 463.6,417.9 462.4,418.1 460.9,419.4 460.9,419.9Z" fill="#fae515" fill-rule="evenodd"/><path d="M461.6,420.1 461.9,421.1 462.9,422.1 463.4,422.1 464.4,422.6 467.4,422.6 467.6,422.4 468.1,422.4 469.1,421.9 470.1,420.6 469.9,419.6 468.9,418.6 468.4,418.6 467.4,418.1 464.4,418.1 464.1,418.4 463.4,418.4 462.9,418.6Z" fill="#f6a11c" fill-rule="evenodd"/><path d="M462.6,420.4 463.1,421.4 465.1,422.1 467.6,421.9 468.9,420.9 468.9,419.9 468.1,419.1 466.9,418.6 464.9,418.6 464.6,418.9 464.1,418.9 463.1,419.4Z" fill="#e5262a" fill-rule="evenodd"/></g>
<path d="M466.5,394.2h1.2v1.2h-1.2zM470.1,394.1h1.2v1.2h-1.2zM471.7,398.9h1.2v1.2h-1.2z" fill="#2d4aab"/>
<polyline points="149.3,278.2 167.3,278.2 167.3,330.2 149.3,330.2" fill="none" stroke="#9a9a9a" stroke-width="0.8"/>
<line x1="167.3" y1="278.2" x2="167.3" y2="330.2" stroke="#555" stroke-width="0.9" />
<text x="151" y="276.39" font-size="7.2" textLength="14.5" lengthAdjust="spacingAndGlyphs">83%</text>
<line x1="167.3" y1="284.5" x2="237" y2="284.5" stroke="#000" stroke-width="1.1" />
<line x1="236" y1="284.5" x2="237.5" y2="284.5" stroke="#000" stroke-width="1.2" />
<polygon points="236.5,281.5 247.5,284.5 236.5,287.5" fill="#000"/>
<rect x="258.8" y="289.3" width="32.5" height="19.5" fill="none" stroke="#9a9a9a" stroke-width="0.8"/>
<text x="278.8" y="288.09" font-size="7.2" textLength="10" lengthAdjust="spacingAndGlyphs">4%</text>
<line x1="291.3" y1="290.2" x2="338" y2="290.2" stroke="#000" stroke-width="1.1" />
<line x1="337" y1="290.4" x2="338.8" y2="290.4" stroke="#000" stroke-width="1.2" />
<polygon points="337.8,287.4 348.8,290.4 337.8,293.4" fill="#000"/>
<rect x="349.3" y="281.6" width="15.6" height="46.5" fill="none" stroke="#9a9a9a" stroke-width="0.8"/>
<line x1="364.9" y1="281.6" x2="364.9" y2="328.1" stroke="#555" stroke-width="0.9" />
<text x="350" y="279.39" font-size="7.2" textLength="16" lengthAdjust="spacingAndGlyphs">0.7%</text>
<line x1="364.9" y1="283.1" x2="440" y2="283.1" stroke="#000" stroke-width="1.1" />
<line x1="439" y1="283.3" x2="440.8" y2="283.3" stroke="#000" stroke-width="1.2" />
<polygon points="439.8,280.3 450.8,283.3 439.8,286.3" fill="#000"/>
<rect x="460.6" y="310.4" width="20.2" height="19.9" fill="none" stroke="#9a9a9a" stroke-width="0.8"/>
<text x="469.5" y="298.96" font-size="7.4" textLength="25.3" lengthAdjust="spacingAndGlyphs">LT-HSC</text>
<text x="470" y="308.26" font-size="7.4" textLength="16.3" lengthAdjust="spacingAndGlyphs">0.1%</text>
<rect x="148.7" y="378.4" width="18.1" height="52.3" fill="none" stroke="#9a9a9a" stroke-width="0.8"/>
<line x1="166.8" y1="378.4" x2="166.8" y2="430.7" stroke="#555" stroke-width="0.9" />
<text x="150" y="376.89" font-size="7.2" textLength="14.6" lengthAdjust="spacingAndGlyphs">90%</text>
<line x1="166.8" y1="384.6" x2="238" y2="384.6" stroke="#000" stroke-width="1.1" />
<line x1="237" y1="384.7" x2="239.5" y2="384.7" stroke="#000" stroke-width="1.2" />
<polygon points="238.5,381.7 249.5,384.7 238.5,387.7" fill="#000"/>
<rect x="258.3" y="389.5" width="33.4" height="19.6" fill="none" stroke="#9a9a9a" stroke-width="0.8"/>
<text x="275" y="388.59" font-size="7.2" textLength="13.5" lengthAdjust="spacingAndGlyphs">12%</text>
<line x1="291.7" y1="391" x2="339" y2="391" stroke="#000" stroke-width="1.1" />
<line x1="338" y1="391.3" x2="339.5" y2="391.3" stroke="#000" stroke-width="1.2" />
<polygon points="338.5,388.3 349.5,391.3 338.5,394.3" fill="#000"/>
<rect x="349.4" y="382.2" width="16.1" height="46.1" fill="none" stroke="#9a9a9a" stroke-width="0.8"/>
<line x1="365.5" y1="382.2" x2="365.5" y2="428.3" stroke="#555" stroke-width="0.9" />
<text x="352.6" y="379.69" font-size="7.2" textLength="10.4" lengthAdjust="spacingAndGlyphs">6%</text>
<line x1="365.5" y1="383.8" x2="440" y2="383.8" stroke="#000" stroke-width="1.1" />
<line x1="439" y1="384" x2="440.8" y2="384" stroke="#000" stroke-width="1.2" />
<polygon points="439.8,381 450.8,384 439.8,387" fill="#000"/>
<rect x="460.2" y="410.2" width="21.6" height="19.5" fill="none" stroke="#9a9a9a" stroke-width="0.8"/>
<text x="473.8" y="407.99" font-size="7.2" textLength="10.6" lengthAdjust="spacingAndGlyphs">4%</text>
<rect x="149.2" y="476.3" width="17.4" height="51.8" fill="none" stroke="#9a9a9a" stroke-width="0.8"/>
<line x1="166.6" y1="476.3" x2="166.6" y2="528.1" stroke="#555" stroke-width="0.9" />
<text x="150" y="474.59" font-size="7.2" textLength="15" lengthAdjust="spacingAndGlyphs">83%</text>
<line x1="166.6" y1="482.4" x2="237" y2="482.4" stroke="#000" stroke-width="1.1" />
<line x1="236" y1="482.6" x2="238.2" y2="482.6" stroke="#000" stroke-width="1.2" />
<polygon points="237.2,479.6 248.2,482.6 237.2,485.6" fill="#000"/>
<rect x="258.1" y="487.6" width="32.9" height="19.8" fill="none" stroke="#9a9a9a" stroke-width="0.8"/>
<text x="278" y="486.59" font-size="7.2" textLength="10.5" lengthAdjust="spacingAndGlyphs">4%</text>
<line x1="291" y1="488.5" x2="338" y2="488.5" stroke="#000" stroke-width="1.1" />
<line x1="337" y1="489" x2="338.2" y2="489" stroke="#000" stroke-width="1.2" />
<polygon points="337.2,486 348.2,489 337.2,492" fill="#000"/>
<rect x="349.4" y="479.4" width="15.6" height="46.2" fill="none" stroke="#9a9a9a" stroke-width="0.8"/>
<line x1="365" y1="479.4" x2="365" y2="525.6" stroke="#555" stroke-width="0.9" />
<text x="350" y="477.99" font-size="7.2" textLength="16.4" lengthAdjust="spacingAndGlyphs">0.9%</text>
<line x1="365" y1="481.2" x2="440" y2="481.2" stroke="#000" stroke-width="1.1" />
<line x1="439" y1="481.1" x2="440.8" y2="481.1" stroke="#000" stroke-width="1.2" />
<polygon points="439.8,478.1 450.8,481.1 439.8,484.1" fill="#000"/>
<rect x="460.6" y="508.4" width="21.4" height="19.5" fill="none" stroke="#9a9a9a" stroke-width="0.8"/>
<text x="473.1" y="507.16" font-size="7.4" textLength="16.9" lengthAdjust="spacingAndGlyphs">0.2%</text>
<rect x="0.6" y="0.6" width="518.8" height="563.8" fill="none" stroke="#000" stroke-width="1.2"/>
</svg>
</body></html>
